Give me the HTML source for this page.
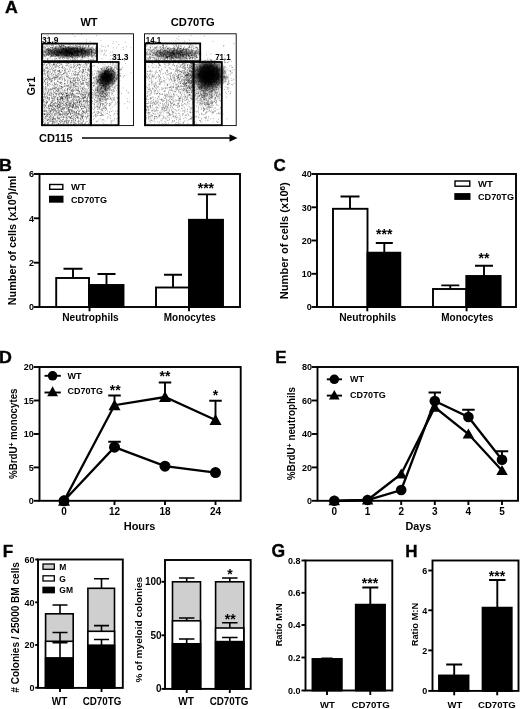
<!DOCTYPE html>
<html><head><meta charset="utf-8"><title>Figure</title>
<style>html,body{margin:0;padding:0;background:#fff}svg{display:block;will-change:transform}text{font-family:"Liberation Sans",sans-serif;font-weight:bold;fill:#000}</style>
</head><body>
<svg width="520" height="709" viewBox="0 0 520 709">
<rect width="520" height="709" fill="#fff"/>
<g id="panelA">
<text x="5.0" y="12.8" font-size="16.5" textLength="12.8" lengthAdjust="spacingAndGlyphs" stroke="#000" stroke-width="0.35">A</text>
<text x="89" y="26" font-size="11" text-anchor="middle">WT</text>
<text x="192.8" y="26" font-size="11" text-anchor="middle" textLength="44" lengthAdjust="spacingAndGlyphs">CD70TG</text>
<text x="35" y="86" font-size="11" text-anchor="middle" transform="rotate(-90 35 86)">Gr1</text>
<text x="39" y="142" font-size="11" textLength="33.5" lengthAdjust="spacingAndGlyphs">CD115</text>
<path d="M82 138L232 138" stroke="#000" stroke-width="1.3" fill="none"/>
<path d="M229.5 134.3L237.5 138L229.5 141.7Z" fill="#000"/>
<defs><radialGradient id="gm1"><stop offset="0" stop-color="#000" stop-opacity="1"/><stop offset="0.4" stop-color="#000" stop-opacity="0.8"/><stop offset="0.75" stop-color="#000" stop-opacity="0.25"/><stop offset="1" stop-color="#000" stop-opacity="0"/></radialGradient><radialGradient id="gm2"><stop offset="0" stop-color="#000" stop-opacity="1"/><stop offset="0.5" stop-color="#000" stop-opacity="0.9"/><stop offset="0.8" stop-color="#000" stop-opacity="0.3"/><stop offset="1" stop-color="#000" stop-opacity="0"/></radialGradient><radialGradient id="gn1"><stop offset="0" stop-color="#000" stop-opacity="0.85"/><stop offset="0.55" stop-color="#000" stop-opacity="0.55"/><stop offset="1" stop-color="#000" stop-opacity="0"/></radialGradient><radialGradient id="gn2"><stop offset="0" stop-color="#000" stop-opacity="0.6"/><stop offset="0.5" stop-color="#000" stop-opacity="0.32"/><stop offset="1" stop-color="#000" stop-opacity="0"/></radialGradient><radialGradient id="gh"><stop offset="0" stop-color="#000" stop-opacity="0.28"/><stop offset="1" stop-color="#000" stop-opacity="0"/></radialGradient><clipPath id="cpL"><rect x="42" y="34" width="91" height="91"/></clipPath><clipPath id="cpR"><rect x="144.5" y="34" width="91" height="91"/></clipPath><clipPath id="cpR2"><rect x="144.5" y="60.5" width="91" height="65"/></clipPath></defs>
<g clip-path="url(#cpL)">
<ellipse cx="70" cy="52" rx="31" ry="6.5" fill="url(#gn1)"/>
<ellipse cx="103" cy="88" rx="9" ry="14" fill="url(#gh)" transform="rotate(20 103 88)"/>
<ellipse cx="106.5" cy="77.5" rx="12" ry="11.5" fill="url(#gm1)" transform="rotate(-35 106.5 77.5)"/>
<path d="M57.9 71.5h0.72M73.9 66.6h0.72M68.3 85.0h0.72M44.8 94.0h0.72M43.8 89.3h0.72M45.4 67.7h0.72M62.8 114.1h0.72M48.1 76.1h0.72M72.7 121.7h0.72M70.3 87.0h0.72M89.8 64.9h0.72M84.1 80.2h0.72M49.1 69.4h0.72M57.1 113.4h0.72M50.9 98.6h0.72M73.3 85.5h0.72M68.8 66.0h0.72M44.9 75.0h0.72M75.3 88.9h0.72M57.4 98.9h0.72M64.2 80.9h0.72M80.9 106.0h0.72M54.0 98.2h0.72M67.7 117.1h0.72M77.7 80.1h0.72M90.0 69.4h0.72M62.5 109.7h0.72M49.4 92.8h0.72M43.9 104.1h0.72M79.5 98.1h0.72M84.9 81.8h0.72M76.1 99.4h0.72M70.4 90.7h0.72M83.2 121.5h0.72M65.2 103.8h0.72M45.0 106.2h0.72M73.7 124.6h0.72M82.3 79.9h0.72M60.9 104.1h0.72M43.1 91.1h0.72M50.2 69.4h0.72M44.9 110.4h0.72M48.3 77.6h0.72M61.2 116.9h0.72M45.9 90.3h0.72M68.9 117.7h0.72M82.1 116.4h0.72M55.6 88.2h0.72M59.6 117.7h0.72M88.9 71.5h0.72M50.6 76.6h0.72M53.4 92.6h0.72M70.9 78.6h0.72M42.2 88.4h0.72M60.1 97.7h0.72M88.7 105.5h0.72M67.3 100.9h0.72M75.1 65.4h0.72M86.1 111.1h0.72M84.9 112.3h0.72M61.2 87.1h0.72M47.1 102.0h0.72M45.1 66.2h0.72M52.2 72.2h0.72M58.7 65.3h0.72M42.0 71.5h0.72M47.0 84.9h0.72M43.2 117.1h0.72M72.1 71.4h0.72M54.4 83.9h0.72M59.8 69.7h0.72M83.6 124.6h0.72M64.8 92.5h0.72M46.2 68.4h0.72M58.8 78.7h0.72M82.6 72.2h0.72M43.1 121.9h0.72M67.9 71.2h0.72M68.6 63.7h0.72M67.9 123.6h0.72M84.3 105.9h0.72M54.8 85.1h0.72M50.2 110.6h0.72M68.1 111.1h0.72M58.2 76.1h0.72M81.8 124.1h0.72M83.8 112.8h0.72M82.1 108.6h0.72M53.1 94.6h0.72M59.4 63.8h0.72M43.4 79.6h0.72M54.7 105.6h0.72M88.9 90.2h0.72M87.9 124.2h0.72M88.8 85.0h0.72M52.8 76.3h0.72M51.6 74.9h0.72M72.6 118.7h0.72M83.2 92.2h0.72M74.0 112.4h0.72M46.2 103.6h0.72M86.6 111.3h0.72M78.8 92.1h0.72M50.7 111.7h0.72M58.3 112.5h0.72M89.6 86.9h0.72M61.7 121.6h0.72M77.5 72.7h0.72M48.2 71.5h0.72M86.3 112.8h0.72M49.2 114.1h0.72M90.0 103.4h0.72M59.2 96.6h0.72M48.4 62.9h0.72M89.6 102.9h0.72M67.8 120.8h0.72M63.3 116.9h0.72M82.5 75.3h0.72M54.3 80.5h0.72M53.8 98.9h0.72M54.7 88.4h0.72M48.4 119.3h0.72M59.3 90.9h0.72M70.6 119.0h0.72M62.6 119.8h0.72M66.6 95.5h0.72M67.7 63.2h0.72M63.6 73.5h0.72M42.2 112.3h0.72M50.4 91.8h0.72M77.5 97.1h0.72M58.0 94.7h0.72M69.2 111.4h0.72M47.2 97.3h0.72M54.2 79.4h0.72M79.8 94.0h0.72M69.5 109.9h0.72M86.7 89.9h0.72M72.0 93.8h0.72M67.1 105.6h0.72M64.2 95.6h0.72M65.4 121.3h0.72M76.3 117.2h0.72M88.2 78.4h0.72M69.4 121.4h0.72M83.2 70.6h0.72M48.0 89.9h0.72M45.6 77.2h0.72M45.6 104.2h0.72M80.4 118.5h0.72M49.6 107.1h0.72M74.4 71.0h0.72M85.3 123.0h0.72M52.8 122.0h0.72M61.5 92.7h0.72M90.5 114.4h0.72M49.9 89.2h0.72M67.3 83.4h0.72M51.6 82.1h0.72M77.4 63.2h0.72M69.1 89.7h0.72M42.9 82.9h0.72M72.6 94.3h0.72M45.2 124.1h0.72M80.6 123.2h0.72M47.1 78.7h0.72M43.9 111.1h0.72M55.3 70.2h0.72M62.7 119.4h0.72M82.1 78.3h0.72M49.3 119.9h0.72M70.0 106.1h0.72M46.4 65.6h0.72M75.7 88.8h0.72M45.5 121.1h0.72M73.1 112.5h0.72M46.1 115.9h0.72M45.3 116.4h0.72M64.2 83.4h0.72M69.1 120.4h0.72M55.1 70.1h0.72M67.8 77.0h0.72M47.4 72.2h0.72M44.5 74.7h0.72M57.3 81.2h0.72M79.2 80.3h0.72M66.5 73.2h0.72M59.0 63.1h0.72M54.3 63.0h0.72M77.9 96.7h0.72M51.3 91.9h0.72M87.8 68.7h0.72M82.1 89.2h0.72M66.3 114.6h0.72M61.3 93.9h0.72M75.7 123.9h0.72M58.8 114.4h0.72M76.6 102.1h0.72M61.8 83.9h0.72M44.7 70.2h0.72M45.5 108.7h0.72M54.5 72.3h0.72M46.1 115.0h0.72M84.7 104.2h0.72M55.8 77.3h0.72M56.4 90.9h0.72M49.7 90.1h0.72M54.9 122.6h0.72M89.7 96.5h0.72M54.0 122.8h0.72M57.2 84.5h0.72M42.1 86.0h0.72M65.3 93.7h0.72M51.8 93.8h0.72M42.2 78.6h0.72M46.4 87.2h0.72M44.0 63.4h0.72M56.9 76.7h0.72M70.7 95.3h0.72M78.8 103.4h0.72M77.1 117.4h0.72M61.1 82.5h0.72M90.3 71.4h0.72M77.5 102.5h0.72M44.1 114.6h0.72M85.7 101.5h0.72M78.0 113.2h0.72M48.8 95.0h0.72M66.7 114.6h0.72M81.4 114.1h0.72M70.6 118.2h0.72M75.5 105.7h0.72M53.3 64.0h0.72M48.5 84.7h0.72M47.1 114.7h0.72M69.4 101.5h0.72M72.7 104.9h0.72M66.0 62.2h0.72M81.1 109.1h0.72M66.6 95.7h0.72M74.3 66.2h0.72M78.1 77.9h0.72M45.6 78.7h0.72M77.7 74.9h0.72M78.3 123.5h0.72M66.2 86.1h0.72M65.5 105.1h0.72M79.6 100.9h0.72M73.5 66.9h0.72M49.2 78.0h0.72M78.4 81.2h0.72M69.8 62.8h0.72M45.0 78.9h0.72M74.9 105.6h0.72M75.1 80.3h0.72M67.3 91.3h0.72M64.9 69.5h0.72M85.8 74.6h0.72M89.9 121.0h0.72M42.9 90.9h0.72M82.2 123.0h0.72M64.0 78.9h0.72M52.3 121.6h0.72M52.3 98.6h0.72M48.9 95.0h0.72M88.7 70.4h0.72M82.2 94.1h0.72M85.5 106.3h0.72M53.3 118.6h0.72M65.8 63.6h0.72M42.2 93.0h0.72M64.1 81.0h0.72M48.9 83.7h0.72M57.5 114.9h0.72M42.1 109.3h0.72M83.1 69.6h0.72M87.4 106.9h0.72M86.2 80.3h0.72M60.2 86.8h0.72M90.9 99.1h0.72M59.7 89.0h0.72M55.5 65.0h0.72M47.0 114.6h0.72M56.0 120.9h0.72M54.2 78.7h0.72M67.0 74.0h0.72M60.3 122.2h0.72M85.3 113.2h0.72M72.9 119.5h0.72M88.1 96.6h0.72M77.3 65.1h0.72M77.9 90.4h0.72M78.9 102.6h0.72M56.0 65.1h0.72M87.4 70.0h0.72M65.1 83.7h0.72M56.6 108.6h0.72M89.8 78.4h0.72M74.1 81.0h0.72M69.3 86.8h0.72M50.2 72.2h0.72M52.2 119.1h0.72M66.4 75.9h0.72M86.4 124.8h0.72M64.0 70.8h0.72M51.4 67.7h0.72M58.8 67.7h0.72M53.7 78.3h0.72M69.9 117.9h0.72M78.7 88.0h0.72M62.3 95.0h0.72M60.5 83.3h0.72M45.0 79.5h0.72M89.4 69.9h0.72M66.7 101.7h0.72M84.3 75.6h0.72M55.3 77.7h0.72M61.6 90.1h0.72M88.7 115.5h0.72M84.8 63.4h0.72M43.6 106.7h0.72M85.9 91.8h0.72M70.8 62.0h0.72M61.2 120.4h0.72M82.5 115.9h0.72M89.6 77.7h0.72M47.3 71.7h0.72M67.6 105.0h0.72M88.1 107.5h0.72M73.7 110.2h0.72M64.4 96.7h0.72M43.9 111.3h0.72M53.4 120.0h0.72M73.6 81.1h0.72M48.3 77.9h0.72M73.2 106.0h0.72M47.5 66.4h0.72M67.7 98.7h0.72M61.0 76.1h0.72M71.5 62.7h0.72M56.8 91.0h0.72M89.0 102.6h0.72M85.3 91.9h0.72M53.5 77.6h0.72M89.1 106.4h0.72M57.1 63.4h0.72M66.4 104.5h0.72M62.6 78.2h0.72M74.7 120.3h0.72M53.1 64.1h0.72M58.6 88.5h0.72M75.4 74.5h0.72M81.1 108.6h0.72M66.7 74.9h0.72M89.5 81.6h0.72M82.2 76.5h0.72M52.9 109.9h0.72M56.5 122.0h0.72M66.3 73.8h0.72M52.9 88.3h0.72M74.6 121.8h0.72M49.2 86.8h0.72M52.4 123.4h0.72M49.0 65.3h0.72M44.9 86.8h0.72M86.0 117.7h0.72M77.9 124.8h0.72M87.6 82.7h0.72M51.1 121.0h0.72M78.6 64.0h0.72M74.6 85.9h0.72M60.3 82.9h0.72M50.3 62.2h0.72M55.7 84.1h0.72M88.8 69.8h0.72M89.2 75.1h0.72M59.5 113.8h0.72M82.3 89.2h0.72M44.4 91.8h0.72M60.3 119.9h0.72M51.5 84.9h0.72M86.0 63.9h0.72M62.1 113.1h0.72M79.6 64.6h0.72M43.7 65.9h0.72M87.1 78.2h0.72M78.6 118.6h0.72M58.6 79.2h0.72M88.9 100.9h0.72M54.8 107.1h0.72M57.5 79.4h0.72M42.2 109.6h0.72M86.9 101.9h0.72M88.2 63.5h0.72M53.5 91.9h0.72M88.9 122.1h0.72M60.9 77.8h0.72M63.1 93.1h0.72M87.5 73.5h0.72M81.3 108.5h0.72M82.3 110.7h0.72M71.8 82.7h0.72M57.7 84.8h0.72M80.3 67.0h0.72M51.7 109.4h0.72M54.1 66.1h0.72M43.7 96.8h0.72M58.0 123.8h0.72M85.3 124.2h0.72M55.0 67.3h0.72M46.7 93.4h0.72M76.8 90.2h0.72M53.5 88.3h0.72M72.4 104.5h0.72M78.7 115.4h0.72M74.6 69.6h0.72M83.2 80.5h0.72M69.8 85.5h0.72M78.2 74.5h0.72M54.1 77.5h0.72M49.5 117.7h0.72M70.3 82.6h0.72M61.4 124.5h0.72M66.9 76.6h0.72M81.6 103.2h0.72M90.6 68.4h0.72M65.3 113.6h0.72M83.2 119.6h0.72M44.0 80.5h0.72M47.8 73.9h0.72M89.7 98.7h0.72M87.6 85.5h0.72M84.4 90.3h0.72M54.7 111.0h0.72M88.3 68.7h0.72M71.2 101.1h0.72M52.7 85.2h0.72M48.9 74.9h0.72M54.5 99.8h0.72M73.9 74.8h0.72M42.6 82.6h0.72M75.2 73.7h0.72M57.3 74.8h0.72M81.0 96.5h0.72M45.1 68.4h0.72M61.4 96.7h0.72M73.3 67.7h0.72M50.0 105.8h0.72M62.1 79.8h0.72M57.1 122.1h0.72M57.3 97.7h0.72M59.5 88.2h0.72M84.3 124.8h0.72M59.8 74.4h0.72M77.7 74.8h0.72M42.3 118.8h0.72M62.8 113.7h0.72M61.9 117.6h0.72M64.6 72.2h0.72M42.7 96.7h0.72M73.4 119.3h0.72M46.4 101.2h0.72M60.2 93.8h0.72M49.1 79.8h0.72M67.5 120.3h0.72M47.3 92.9h0.72M81.4 122.9h0.72M51.7 70.0h0.72M88.2 123.5h0.72M65.7 65.4h0.72M87.4 86.4h0.72M86.3 101.1h0.72M82.4 72.1h0.72M80.5 76.0h0.72M61.8 115.3h0.72M82.6 73.5h0.72M52.7 87.2h0.72M67.4 86.2h0.72M48.0 77.6h0.72M77.5 118.5h0.72M44.0 97.4h0.72M79.1 64.4h0.72M83.1 69.4h0.72M71.4 96.7h0.72M72.7 81.3h0.72M62.6 98.7h0.72M62.9 103.5h0.72M63.9 89.6h0.72M43.1 101.0h0.72M66.0 76.8h0.72M79.4 111.1h0.72M64.5 73.3h0.72M65.2 68.7h0.72M48.3 89.1h0.72M46.5 89.8h0.72M67.0 64.6h0.72M73.2 67.2h0.72M77.9 111.0h0.72M67.1 65.4h0.72M66.7 85.8h0.72M88.6 70.6h0.72M84.0 124.8h0.72M77.9 113.3h0.72M51.5 123.8h0.72M66.1 122.3h0.72M86.9 72.4h0.72M80.6 120.6h0.72M45.2 84.1h0.72M79.1 72.0h0.72M85.9 79.3h0.72M82.0 71.0h0.72M66.6 120.0h0.72M52.2 78.6h0.72M66.8 82.1h0.72M43.8 73.5h0.72M49.9 121.0h0.72M75.3 118.4h0.72M50.3 111.4h0.72M47.6 95.4h0.72M73.2 84.7h0.72M84.8 97.0h0.72M70.4 117.6h0.72M47.1 124.6h0.72M72.9 86.8h0.72M81.1 78.7h0.72M90.5 98.4h0.72M59.7 110.2h0.72M63.7 73.1h0.72M78.4 65.0h0.72M82.2 78.0h0.72M73.3 124.0h0.72M70.7 103.8h0.72M57.3 62.1h0.72M43.7 71.4h0.72M72.2 89.2h0.72M67.1 118.4h0.72M48.5 76.3h0.72M74.0 63.4h0.72M42.1 84.4h0.72M47.2 84.5h0.72M53.0 98.8h0.72M70.9 74.9h0.72M72.6 91.9h0.72M48.6 121.0h0.72M53.9 71.4h0.72M46.7 102.2h0.72M84.7 111.3h0.72M61.7 78.6h0.72M42.6 102.6h0.72M69.6 84.1h0.72M73.6 90.0h0.72M87.9 108.2h0.72M54.2 118.9h0.72M44.2 95.5h0.72M61.9 77.0h0.72M44.9 111.1h0.72M42.6 96.7h0.72M88.1 71.0h0.72M51.8 100.3h0.72M66.8 102.4h0.72M81.9 73.0h0.72M57.2 80.9h0.72M44.4 118.0h0.72M80.4 107.1h0.72M42.3 115.2h0.72M78.5 91.3h0.72M78.3 90.5h0.72M53.1 68.6h0.72M53.4 64.4h0.72M58.4 109.2h0.72M76.1 115.3h0.72M76.9 78.8h0.72M69.1 89.5h0.72M80.6 95.0h0.72M55.0 102.4h0.72M89.3 75.7h0.72M85.1 63.0h0.72M54.8 76.9h0.72M78.5 121.5h0.72M78.6 82.6h0.72M85.1 82.7h0.72M53.7 119.2h0.72M72.9 105.6h0.72M74.6 123.7h0.72M65.0 114.9h0.72M76.2 116.0h0.72M63.4 107.7h0.72M69.9 81.4h0.72M52.4 101.2h0.72M45.8 119.4h0.72M49.1 63.7h0.72M47.2 120.5h0.72M58.9 70.9h0.72M43.4 64.6h0.72M75.9 101.9h0.72M76.2 108.4h0.72M45.2 99.2h0.72M59.8 113.5h0.72M82.2 118.2h0.72M45.2 116.7h0.72M86.8 121.5h0.72M47.2 75.0h0.72M47.5 64.2h0.72M83.5 113.2h0.72M73.1 114.0h0.72M72.9 80.1h0.72M46.9 68.2h0.72M79.1 74.9h0.72M57.6 88.7h0.72M43.0 78.2h0.72M55.8 107.1h0.72M60.0 82.2h0.72M89.2 93.7h0.72M83.7 101.0h0.72M43.5 88.0h0.72M63.4 110.7h0.72M59.0 106.4h0.72M68.4 75.6h0.72M84.2 67.7h0.72M82.2 72.7h0.72M42.1 74.7h0.72M79.3 123.6h0.72M42.2 92.9h0.72M66.1 112.2h0.72M51.0 93.2h0.72M59.0 114.4h0.72M54.8 121.5h0.72M55.9 75.5h0.72M76.3 93.4h0.72M47.4 102.1h0.72M46.0 111.6h0.72M76.2 111.6h0.72M72.8 84.4h0.72M61.7 86.9h0.72M85.6 67.4h0.72M85.5 63.6h0.72M52.1 78.6h0.72M86.2 93.6h0.72M60.6 117.7h0.72M53.4 91.0h0.72M68.0 109.5h0.72M78.9 102.7h0.72M59.1 82.6h0.72M49.6 115.1h0.72M74.4 108.7h0.72M50.3 89.6h0.72M79.9 98.5h0.72M48.2 91.1h0.72M85.4 77.0h0.72M51.4 81.0h0.72M76.5 115.2h0.72M49.6 71.8h0.72M54.1 82.6h0.72M67.6 72.1h0.72M58.1 73.9h0.72M89.8 107.9h0.72M47.0 122.6h0.72M47.0 86.2h0.72M90.2 112.1h0.72M77.9 89.4h0.72M51.6 102.2h0.72M47.2 75.0h0.72M61.0 64.1h0.72M61.6 111.8h0.72M76.0 93.5h0.72M73.0 91.2h0.72M48.9 100.0h0.72M61.8 108.7h0.72M86.5 89.1h0.72M70.1 109.2h0.72M62.6 76.4h0.72M77.4 117.4h0.72M79.9 106.1h0.72M83.8 104.8h0.72M73.4 90.6h0.72M57.3 101.6h0.72M46.8 88.4h0.72M80.3 106.9h0.72M72.9 77.8h0.72M62.8 90.7h0.72M72.5 87.8h0.72M75.1 120.6h0.72M51.0 103.2h0.72M80.1 86.5h0.72M66.0 123.4h0.72M43.9 96.2h0.72M49.9 111.3h0.72M88.1 94.7h0.72M47.0 98.2h0.72M68.5 107.2h0.72M67.1 102.3h0.72M82.6 94.9h0.72M62.1 121.7h0.72M52.3 105.1h0.72M61.2 110.1h0.72M48.0 124.0h0.72M59.4 65.6h0.72M55.4 87.2h0.72M42.7 88.4h0.72M62.6 106.0h0.72M59.3 78.7h0.72M53.0 108.7h0.72M88.1 95.2h0.72M52.7 112.5h0.72M61.2 75.4h0.72M48.3 110.9h0.72M81.7 102.0h0.72M65.0 97.4h0.72M53.1 122.7h0.72M59.3 102.2h0.72M82.1 113.4h0.72M64.9 80.5h0.72M68.9 69.9h0.72M82.9 84.3h0.72M83.7 78.8h0.72M60.4 78.0h0.72M62.9 73.7h0.72M42.1 107.5h0.72M55.8 77.4h0.72M56.8 92.2h0.72M63.0 102.1h0.72M74.3 84.8h0.72M87.5 115.8h0.72M44.8 114.2h0.72M86.4 111.4h0.72M48.9 114.4h0.72M73.0 62.9h0.72M42.6 122.0h0.72M74.1 77.8h0.72M47.0 71.0h0.72M53.4 110.9h0.72M59.0 71.6h0.72M86.3 111.9h0.72M50.2 118.1h0.72M71.8 111.2h0.72M74.8 118.3h0.72M80.6 114.8h0.72M51.7 105.6h0.72M68.0 108.7h0.72M63.5 117.6h0.72M69.2 78.7h0.72M53.5 70.8h0.72M66.2 65.7h0.72M64.9 71.1h0.72M66.1 93.4h0.72M68.4 116.4h0.72M42.3 115.0h0.72M64.9 97.4h0.72M74.6 115.0h0.72M60.4 88.4h0.72M89.1 66.7h0.72M73.2 102.1h0.72M43.4 100.4h0.72M75.4 120.7h0.72M58.2 123.8h0.72M67.0 92.5h0.72M86.0 64.1h0.72M77.2 101.4h0.72M58.6 116.3h0.72M59.9 91.9h0.72M67.8 110.5h0.72M52.3 89.4h0.72M62.7 96.9h0.72M82.5 80.5h0.72M82.6 87.4h0.72M66.7 79.1h0.72M66.8 123.4h0.72M74.1 111.9h0.72M58.2 82.0h0.72M56.7 98.9h0.72M73.1 111.4h0.72M44.0 107.5h0.72M85.4 96.4h0.72M44.4 80.9h0.72M42.3 74.0h0.72M87.2 100.3h0.72M74.2 111.7h0.72M86.6 100.5h0.72M72.2 101.5h0.72M76.1 99.6h0.72M75.4 75.4h0.72M74.7 90.8h0.72M79.4 68.4h0.72M50.9 64.3h0.72M80.0 119.6h0.72M74.1 85.2h0.72M82.3 111.6h0.72M69.5 78.3h0.72M56.8 88.6h0.72M57.6 89.1h0.72M73.4 120.8h0.72M44.7 97.8h0.72M43.9 69.5h0.72M81.7 98.2h0.72M87.0 90.1h0.72M42.7 86.4h0.72M71.0 121.1h0.72M90.1 92.0h0.72M62.2 68.4h0.72M73.6 75.4h0.72M49.4 63.0h0.72M42.2 105.1h0.72M48.0 122.9h0.72M46.3 116.8h0.72M48.3 63.1h0.72M77.2 77.3h0.72M77.9 73.8h0.72M44.5 110.8h0.72M77.0 115.9h0.72M77.8 67.3h0.72M72.8 106.7h0.72M64.6 120.7h0.72M54.4 122.8h0.72M77.1 62.7h0.72M42.7 103.0h0.72M82.0 67.0h0.72M57.2 108.0h0.72M50.1 116.2h0.72M65.8 65.8h0.72M60.0 98.2h0.72M63.5 104.6h0.72M49.1 112.2h0.72M59.8 102.6h0.72M72.9 88.3h0.72M60.9 111.5h0.72M88.3 111.4h0.72M69.8 80.4h0.72M45.0 123.4h0.72M76.5 114.1h0.72M58.3 100.2h0.72M89.9 114.4h0.72M71.5 81.4h0.72M63.0 118.0h0.72M60.5 105.1h0.72M71.5 118.5h0.72M81.6 79.8h0.72M42.1 78.6h0.72M62.7 99.0h0.72M82.0 117.9h0.72M44.1 114.5h0.72M81.8 116.6h0.72M70.0 79.3h0.72M83.7 112.8h0.72M75.5 119.6h0.72M59.0 67.4h0.72M69.1 112.2h0.72M51.8 109.3h0.72M87.7 76.7h0.72M71.7 104.7h0.72M64.8 75.0h0.72M54.5 109.3h0.72M80.8 91.0h0.72M46.3 112.8h0.72M79.8 76.7h0.72M70.4 118.5h0.72M85.4 94.9h0.72M65.4 99.1h0.72M51.3 74.1h0.72M50.9 106.2h0.72M59.8 97.6h0.72M61.7 94.6h0.72M49.3 64.8h0.72M90.9 85.6h0.72M47.2 101.9h0.72M80.6 71.8h0.72M71.3 83.7h0.72M67.5 63.3h0.72M43.6 124.4h0.72M84.4 92.6h0.72M69.8 78.5h0.72M80.2 88.8h0.72M88.4 110.3h0.72M82.1 122.7h0.72M54.4 64.4h0.72M51.8 73.4h0.72M46.1 65.2h0.72M69.3 116.9h0.72M64.5 121.7h0.72M86.6 66.0h0.72M71.3 87.0h0.72M47.9 122.4h0.72M54.6 97.6h0.72M73.4 122.3h0.72M74.8 86.8h0.72M64.0 72.1h0.72M89.3 124.5h0.72M52.9 64.4h0.72M54.5 84.2h0.72M86.2 119.0h0.72M83.0 65.0h0.72M80.5 106.7h0.72M73.7 124.1h0.72M44.7 71.1h0.72M79.0 121.2h0.72M75.2 80.8h0.72M71.0 109.7h0.72M47.2 82.4h0.72M54.6 69.8h0.72M65.6 72.6h0.72M53.7 71.0h0.72M75.2 62.8h0.72M77.1 74.3h0.72M43.8 120.4h0.72M52.8 120.8h0.72M84.5 118.0h0.72M48.8 90.2h0.72M46.8 120.5h0.72M83.3 101.6h0.72M64.2 83.4h0.72M82.3 92.1h0.72M72.8 71.0h0.72M52.9 65.6h0.72M77.0 96.9h0.72M49.1 116.9h0.72M55.1 87.9h0.72M49.6 79.1h0.72M83.1 83.1h0.72M50.2 92.9h0.72M57.6 118.9h0.72M47.6 123.7h0.72M44.8 118.4h0.72M74.7 75.3h0.72M65.4 80.0h0.72M54.6 74.7h0.72M59.8 124.4h0.72M90.9 120.3h0.72M46.8 80.2h0.72M85.9 65.6h0.72M77.6 80.5h0.72M90.0 63.0h0.72M81.5 83.5h0.72M48.9 62.1h0.72M82.8 95.2h0.72M51.1 89.4h0.72M86.7 75.8h0.72M70.0 70.7h0.72M50.8 110.5h0.72M76.9 74.4h0.72M45.9 67.5h0.72M71.8 93.2h0.72M55.4 75.0h0.72M72.0 106.6h0.72M81.8 98.7h0.72M51.9 66.1h0.72M77.9 87.7h0.72M77.4 65.5h0.72M81.7 83.1h0.72M83.3 116.5h0.72M66.2 63.0h0.72M86.6 92.0h0.72M84.7 78.8h0.72M51.1 114.4h0.72M60.0 72.3h0.72M60.2 99.5h0.72M42.2 94.7h0.72M63.8 94.5h0.72M47.9 107.0h0.72M82.0 116.5h0.72M57.7 106.8h0.72M60.7 109.3h0.72M45.0 117.0h0.72M88.7 93.2h0.72M67.2 95.4h0.72M68.3 63.3h0.72M89.4 76.1h0.72M50.9 68.5h0.72M54.3 113.5h0.72M43.5 68.1h0.72M76.2 74.3h0.72M42.9 99.8h0.72M70.2 94.9h0.72M76.4 68.5h0.72M84.6 107.2h0.72M44.2 69.8h0.72M66.2 93.5h0.72M55.7 69.7h0.72M61.9 70.6h0.72M71.0 116.2h0.72M49.2 98.1h0.72M78.6 72.4h0.72M82.5 121.1h0.72M61.0 88.5h0.72M83.1 95.1h0.72M61.4 121.3h0.72M80.1 83.3h0.72M53.8 83.1h0.72M63.3 123.8h0.72M81.4 119.5h0.72M81.9 115.4h0.72M44.6 94.6h0.72M88.9 120.9h0.72M54.2 88.6h0.72M73.0 85.0h0.72M68.0 66.4h0.72M63.2 93.8h0.72M43.0 70.8h0.72M89.5 110.9h0.72M87.9 101.9h0.72M81.7 117.7h0.72M85.3 64.2h0.72M73.4 78.7h0.72M75.2 79.2h0.72M68.6 120.2h0.72M72.4 77.8h0.72M67.5 89.3h0.72M88.6 80.1h0.72M57.0 102.8h0.72M47.9 99.4h0.72M88.8 94.4h0.72M55.2 91.4h0.72M68.2 71.3h0.72M48.1 70.3h0.72M56.4 87.6h0.72M56.1 77.3h0.72M46.3 96.4h0.72M83.1 100.4h0.72M69.9 103.0h0.72M51.9 106.8h0.72M64.6 96.5h0.72M72.0 91.5h0.72M57.2 77.3h0.72M52.9 94.3h0.72M60.8 98.9h0.72M42.6 84.2h0.72M84.2 77.0h0.72M69.3 93.0h0.72M56.0 124.2h0.72M56.5 110.6h0.72M49.8 66.2h0.72M84.7 89.7h0.72M45.0 86.4h0.72M63.6 108.3h0.72M47.4 76.2h0.72M89.0 108.5h0.72M49.6 83.2h0.72M59.3 104.5h0.72M72.2 115.5h0.72M82.2 94.6h0.72M78.2 108.8h0.72M79.2 91.9h0.72M80.5 106.6h0.72M86.8 70.0h0.72M84.7 62.3h0.72M79.5 98.9h0.72M66.4 122.7h0.72M70.0 88.3h0.72M80.4 117.0h0.72M71.8 85.9h0.72M64.2 90.8h0.72M77.4 80.5h0.72M61.1 97.0h0.72M60.8 82.3h0.72M80.6 115.5h0.72M66.5 90.0h0.72M51.0 81.2h0.72M49.1 98.3h0.72M70.5 67.5h0.72M87.1 82.4h0.72M83.3 114.8h0.72M89.0 74.9h0.72M62.9 119.4h0.72M42.5 65.0h0.72M69.7 93.3h0.72M87.1 110.7h0.72M68.4 124.9h0.72M67.4 94.6h0.72M75.6 86.5h0.72M59.5 99.5h0.72M59.2 121.7h0.72M75.1 95.1h0.72M46.8 85.6h0.72M61.6 97.4h0.72M70.1 117.4h0.72M89.3 92.7h0.72M63.6 101.4h0.72M90.8 83.6h0.72M68.0 113.4h0.72M50.4 82.0h0.72M89.9 114.0h0.72M67.1 69.0h0.72M85.8 105.5h0.72M82.2 124.4h0.72M85.5 88.5h0.72M49.7 80.3h0.72M67.1 93.8h0.72M51.2 73.5h0.72M72.9 100.0h0.72M59.3 124.6h0.72M73.2 64.7h0.72M62.2 111.6h0.72M57.0 105.5h0.72M42.2 81.2h0.72M83.3 98.9h0.72M74.7 74.4h0.72M66.4 96.9h0.72M55.0 102.7h0.72M68.0 124.8h0.72M70.1 87.9h0.72M48.0 71.9h0.72M79.2 68.7h0.72M46.9 72.7h0.72M67.6 113.9h0.72M72.0 112.8h0.72M45.0 62.8h0.72M79.8 82.3h0.72M77.1 84.3h0.72M50.3 78.8h0.72M46.9 118.9h0.72M70.5 84.0h0.72M64.0 86.3h0.72M44.7 118.1h0.72M70.6 122.5h0.72M63.5 101.1h0.72M54.2 64.8h0.72M87.6 115.8h0.72M57.4 118.6h0.72M82.0 81.1h0.72M71.5 122.5h0.72M66.3 121.8h0.72M53.9 86.6h0.72M77.2 75.9h0.72M57.1 117.1h0.72M65.7 111.9h0.72M53.9 72.9h0.72M59.6 73.8h0.72M89.6 80.3h0.72M69.5 69.2h0.72M68.2 86.3h0.72M61.8 66.1h0.72M48.0 114.0h0.72M59.2 77.4h0.72M51.4 79.9h0.72M53.6 64.2h0.72M74.5 83.5h0.72M49.6 106.5h0.72M46.5 79.0h0.72M82.9 70.1h0.72M63.7 114.7h0.72M81.4 72.0h0.72M59.3 107.5h0.72M60.5 122.4h0.72M52.2 121.9h0.72M66.7 76.3h0.72M64.2 70.2h0.72M76.6 78.4h0.72M86.1 99.0h0.72M60.0 77.5h0.72M71.8 75.4h0.72M84.7 69.7h0.72M67.1 96.2h0.72M55.3 110.6h0.72M60.9 103.4h0.72M69.8 81.6h0.72M61.1 67.4h0.72M50.7 115.6h0.72M57.7 103.8h0.72M47.3 97.4h0.72M59.7 93.5h0.72M56.6 66.2h0.72M57.3 76.3h0.72M48.2 107.2h0.72M55.8 87.4h0.72M86.5 110.8h0.72M85.3 116.3h0.72M48.5 79.4h0.72M43.4 104.8h0.72M74.5 84.1h0.72M62.2 103.5h0.72M76.3 77.7h0.72M83.5 84.2h0.72M72.8 73.4h0.72M47.6 119.5h0.72M78.0 106.9h0.72M44.0 64.5h0.72M49.9 74.5h0.72M56.9 86.0h0.72M43.9 81.6h0.72M73.3 73.3h0.72M83.1 97.9h0.72M77.1 78.0h0.72M63.3 105.1h0.72M59.1 62.1h0.72M82.9 110.9h0.72M56.0 64.7h0.72M83.9 100.3h0.72M44.3 77.4h0.72M47.4 111.9h0.72M52.3 119.6h0.72M78.7 67.4h0.72M76.0 86.8h0.72M78.6 114.2h0.72M55.8 67.7h0.72M88.4 88.7h0.72M87.6 105.6h0.72M78.2 114.3h0.72M72.8 90.5h0.72M44.7 106.0h0.72M63.0 94.2h0.72M87.5 70.0h0.72M79.3 64.8h0.72M76.4 112.8h0.72M54.8 96.4h0.72M89.5 102.2h0.72M68.7 77.7h0.72M44.9 84.5h0.72M62.2 74.7h0.72M57.2 70.6h0.72M76.6 104.2h0.72M53.7 77.2h0.72M67.3 90.0h0.72M87.9 84.1h0.72M56.7 117.7h0.72M49.0 97.5h0.72M58.3 113.4h0.72M68.9 109.9h0.72M50.3 104.0h0.72M71.3 91.1h0.72M79.5 114.4h0.72M47.6 80.2h0.72M59.7 75.0h0.72M45.0 79.7h0.72M51.7 106.2h0.72M64.0 69.1h0.72M57.9 91.5h0.72M59.8 72.6h0.72M45.5 62.7h0.72M90.6 109.3h0.72M46.1 107.2h0.72M90.0 97.5h0.72M47.3 92.8h0.72M63.3 74.0h0.72M68.6 62.5h0.72M87.1 102.6h0.72M72.8 120.9h0.72M74.0 77.8h0.72M54.1 70.7h0.72M43.4 110.8h0.72M83.1 80.7h0.72M51.1 102.2h0.72M83.4 120.4h0.72M50.3 111.4h0.72M82.7 108.8h0.72M58.0 73.6h0.72M82.4 82.2h0.72M60.1 96.7h0.72M60.1 114.4h0.72M53.7 64.6h0.72M69.8 101.6h0.72M82.2 106.5h0.72M86.4 121.5h0.72M66.2 93.5h0.72M49.7 80.9h0.72M70.5 67.1h0.72M75.7 72.3h0.72M63.7 123.1h0.72M46.4 64.5h0.72M63.5 74.0h0.72M77.4 62.2h0.72M83.2 115.9h0.72M80.6 88.8h0.72M55.9 103.7h0.72M67.2 88.5h0.72M58.6 89.6h0.72M74.6 114.0h0.72M86.3 72.4h0.72M56.5 89.9h0.72M69.6 83.9h0.72M51.6 67.4h0.72M57.9 91.0h0.72M89.6 119.2h0.72M84.4 123.4h0.72M89.1 101.1h0.72M81.7 65.8h0.72M75.1 100.4h0.72M56.6 98.0h0.72M88.7 92.3h0.72M73.7 80.9h0.72M58.8 117.8h0.72M43.4 73.9h0.72M75.3 90.2h0.72M46.2 103.6h0.72M60.2 98.6h0.72M62.4 95.4h0.72M69.7 87.0h0.72M47.6 73.4h0.72M85.6 96.5h0.72M47.5 116.3h0.72M54.4 68.0h0.72M68.0 77.8h0.72M66.0 96.9h0.72M53.1 98.1h0.72M47.5 94.3h0.72M70.8 67.1h0.72M62.0 66.6h0.72M63.5 116.4h0.72M69.0 107.0h0.72M79.1 69.2h0.72M90.5 107.5h0.72M47.0 114.3h0.72M61.2 72.8h0.72M89.0 97.5h0.72M80.0 70.6h0.72M80.0 65.6h0.72M53.6 85.5h0.72M42.7 99.4h0.72M52.4 80.9h0.72M76.7 88.8h0.72M85.5 101.1h0.72M84.7 97.5h0.72M87.0 116.9h0.72M50.2 109.0h0.72M58.7 110.1h0.72M75.3 114.0h0.72M48.0 85.5h0.72M78.1 121.7h0.72M77.4 64.7h0.72M71.6 68.3h0.72M68.9 112.6h0.72M47.5 120.3h0.72M75.1 78.0h0.72M51.5 90.1h0.72M83.1 98.6h0.72M47.6 63.3h0.72M47.4 112.4h0.72M51.1 96.9h0.72M56.2 105.3h0.72M60.7 71.1h0.72M84.9 95.9h0.72M75.8 112.9h0.72M88.5 62.9h0.72M58.8 71.5h0.72M66.6 117.0h0.72M81.2 64.2h0.72M50.9 113.6h0.72M75.3 86.7h0.72M65.3 72.0h0.72M83.4 86.8h0.72M84.8 100.5h0.72M45.7 82.7h0.72M52.6 118.3h0.72M70.9 64.8h0.72M50.3 84.7h0.72M64.9 98.4h0.72M61.0 84.3h0.72M42.3 98.5h0.72M58.4 63.3h0.72M64.5 124.1h0.72M44.2 71.2h0.72M74.9 79.2h0.72M55.4 93.5h0.72M54.8 97.8h0.72M67.9 122.3h0.72M90.6 64.1h0.72M69.5 110.6h0.72M84.7 110.8h0.72M73.0 102.0h0.72M59.8 79.7h0.72M81.0 117.0h0.72M88.0 104.9h0.72M56.9 110.1h0.72M78.2 94.1h0.72M73.1 84.1h0.72M69.0 87.6h0.72M45.0 83.2h0.72M57.8 124.3h0.72M65.6 85.1h0.72M53.9 76.8h0.72M59.1 70.5h0.72M42.4 116.9h0.72M64.2 90.1h0.72M69.9 81.1h0.72M50.3 66.2h0.72M56.8 81.4h0.72M77.6 96.7h0.72M87.9 83.4h0.72M87.1 98.8h0.72M45.9 73.3h0.72M70.4 124.2h0.72M59.5 110.8h0.72M63.0 116.7h0.72M45.3 92.5h0.72M86.1 79.4h0.72M54.6 63.5h0.72M50.1 78.9h0.72M76.5 75.8h0.72M61.6 74.6h0.72M71.5 116.4h0.72M73.8 74.4h0.72M78.0 122.7h0.72M71.5 67.0h0.72M81.7 117.2h0.72M58.7 70.6h0.72M51.2 95.8h0.72M84.9 102.3h0.72M87.2 75.4h0.72M58.0 109.2h0.72M73.8 87.5h0.72M75.3 83.3h0.72M44.8 88.1h0.72M44.2 101.5h0.72M58.4 93.1h0.72M71.3 78.2h0.72M64.7 62.9h0.72M87.3 97.5h0.72M90.4 65.5h0.72M72.1 107.6h0.72M58.1 67.9h0.72M49.7 71.0h0.72M79.6 67.7h0.72M81.9 88.7h0.72M68.4 99.1h0.72M69.2 103.4h0.72M71.5 82.8h0.72M78.3 78.2h0.72M76.9 110.1h0.72M80.0 81.5h0.72M79.9 123.6h0.72M64.2 79.5h0.72M67.6 121.3h0.72M48.5 62.6h0.72M65.3 103.3h0.72M79.9 84.8h0.72M90.5 76.4h0.72M79.1 67.7h0.72M43.4 70.5h0.72M44.9 93.6h0.72M69.2 73.5h0.72M88.0 85.0h0.72M49.3 73.2h0.72M78.1 120.1h0.72M49.9 63.8h0.72M80.1 77.3h0.72M90.1 93.4h0.72M73.2 83.7h0.72M81.2 91.0h0.72M57.9 118.9h0.72M47.3 108.2h0.72M45.2 102.7h0.72M61.7 116.4h0.72M44.9 97.5h0.72M62.1 119.9h0.72M88.3 101.5h0.72M53.0 77.9h0.72M54.9 89.3h0.72M53.3 74.8h0.72M79.2 102.5h0.72M56.6 124.6h0.72M52.6 97.9h0.72M49.7 116.4h0.72M84.6 78.8h0.72M78.8 113.8h0.72M55.8 82.9h0.72M65.8 118.1h0.72M49.9 105.0h0.72M71.3 90.5h0.72M70.4 117.6h0.72M52.3 117.7h0.72M59.7 111.1h0.72M84.3 73.5h0.72M84.3 124.7h0.72M56.6 63.5h0.72M47.5 123.4h0.72M42.5 119.4h0.72M49.4 108.4h0.72M46.8 72.6h0.72M75.5 67.7h0.72M58.6 119.9h0.72M77.1 117.6h0.72M90.0 64.1h0.72M53.5 111.9h0.72M75.8 64.4h0.72M66.7 76.6h0.72M63.1 68.6h0.72M43.0 124.4h0.72M57.5 117.4h0.72M47.9 92.7h0.72M48.7 89.0h0.72M50.8 105.2h0.72M49.2 108.5h0.72M66.5 69.1h0.72M59.3 93.3h0.72M87.0 84.0h0.72M52.5 123.0h0.72M85.3 108.1h0.72M55.4 73.2h0.72M55.0 66.3h0.72M44.1 94.1h0.72M62.0 97.1h0.72M59.8 62.7h0.72M75.7 103.1h0.72M68.7 96.6h0.72M75.8 123.9h0.72M84.8 107.2h0.72M61.6 82.1h0.72M62.5 123.3h0.72M61.0 86.3h0.72M62.1 71.0h0.72M90.9 62.3h0.72M71.8 120.4h0.72M54.5 100.5h0.72M60.5 77.2h0.72M51.7 69.3h0.72M83.3 111.4h0.72M86.5 65.1h0.72M76.0 82.4h0.72M73.7 96.6h0.72M57.5 123.2h0.72M42.0 109.0h0.72M83.8 94.1h0.72M71.0 124.7h0.72M53.5 101.7h0.72M78.4 85.9h0.72M76.9 86.8h0.72M67.8 100.6h0.72M75.2 82.3h0.72M72.8 96.2h0.72M52.9 100.6h0.72M55.0 119.3h0.72M65.2 107.5h0.72M67.6 92.0h0.72M52.8 71.0h0.72M87.4 95.3h0.72M67.7 95.2h0.72M81.9 77.0h0.72M50.4 113.8h0.72M64.6 102.4h0.72M82.5 118.3h0.72M84.5 64.7h0.72M60.7 114.4h0.72M82.1 69.8h0.72M49.5 77.8h0.72M47.0 84.5h0.72M81.4 94.8h0.72M64.2 67.5h0.72M61.4 124.8h0.72M76.1 90.3h0.72M65.4 112.3h0.72M79.2 71.4h0.72M75.3 85.1h0.72M67.5 77.0h0.72M60.2 83.4h0.72M60.7 63.1h0.72M51.8 97.9h0.72M44.8 73.2h0.72M77.2 79.3h0.72M57.9 77.2h0.72M82.9 67.8h0.72M73.2 116.1h0.72M51.9 88.7h0.72M80.8 100.9h0.72M60.2 64.8h0.72M63.7 85.1h0.72M76.9 80.6h0.72M62.0 102.8h0.72M81.7 84.2h0.72M60.9 98.5h0.72M87.3 74.1h0.72M89.6 106.8h0.72M60.2 103.9h0.72M58.1 66.5h0.72M79.0 85.9h0.72M67.8 93.3h0.72M86.2 109.7h0.72M43.3 99.3h0.72M64.7 91.1h0.72M83.1 88.1h0.72M65.2 118.1h0.72M63.6 93.0h0.72M67.1 114.0h0.72M74.8 108.6h0.72M61.7 64.6h0.72M75.3 96.9h0.72M79.7 110.5h0.72M47.8 75.9h0.72M45.8 113.5h0.72M47.0 67.6h0.72M78.9 97.6h0.72M44.7 104.9h0.72M76.8 92.4h0.72M44.7 105.5h0.72M62.5 98.8h0.72M90.9 113.5h0.72M84.7 71.2h0.72M58.4 94.6h0.72M42.3 124.3h0.72M55.5 78.5h0.72M57.3 78.1h0.72M84.1 97.0h0.72M67.0 88.5h0.72M44.5 81.2h0.72M84.5 112.5h0.72M84.0 78.2h0.72M51.9 65.3h0.72M68.3 85.5h0.72M64.7 92.8h0.72M70.6 85.0h0.72M81.3 74.6h0.72M87.0 97.0h0.72M44.5 81.8h0.72M68.1 87.8h0.72M69.7 82.4h0.72M55.4 112.2h0.72M56.3 106.8h0.72M81.3 99.3h0.72M64.3 120.9h0.72M63.8 117.3h0.72M44.8 89.3h0.72M73.3 65.1h0.72M84.3 66.5h0.72M71.2 73.4h0.72M87.2 97.3h0.72M81.2 93.4h0.72M75.0 104.5h0.72M56.4 75.3h0.72M83.1 71.2h0.72M87.0 75.0h0.72M46.9 68.0h0.72M80.4 121.9h0.72M62.3 103.5h0.72M54.6 119.1h0.72M75.6 71.8h0.72M44.8 105.8h0.72M44.0 114.7h0.72M56.4 76.7h0.72M70.5 82.1h0.72M69.5 71.7h0.72M86.7 82.4h0.72M83.2 71.6h0.72M81.2 123.7h0.72M61.2 64.1h0.72M60.6 102.4h0.72M52.9 96.4h0.72M46.6 91.3h0.72M77.7 89.1h0.72M75.3 69.2h0.72M82.6 69.7h0.72M87.2 124.8h0.72M88.0 95.2h0.72M56.2 83.9h0.72M78.8 93.3h0.72M87.6 67.9h0.72M65.8 116.4h0.72M71.3 96.1h0.72M46.3 70.8h0.72M55.3 118.3h0.72M83.4 76.3h0.72M87.3 64.0h0.72M71.3 122.9h0.72M58.9 121.5h0.72M74.2 65.2h0.72M58.3 90.3h0.72M54.1 108.8h0.72M50.8 111.6h0.72M56.6 66.4h0.72M69.4 68.0h0.72M69.0 111.6h0.72M71.2 91.1h0.72M43.7 94.3h0.72M46.8 102.7h0.72M48.5 98.4h0.72M59.3 85.6h0.72M74.5 72.3h0.72M50.3 121.3h0.72M58.2 115.1h0.72M84.8 92.3h0.72M49.3 67.9h0.72M85.1 69.4h0.72M66.3 95.8h0.72M47.8 91.5h0.72M50.0 95.7h0.72M66.8 85.1h0.72M51.7 87.4h0.72M52.0 70.0h0.72M53.8 116.9h0.72M66.6 118.1h0.72M42.7 121.4h0.72M65.9 111.8h0.72M70.0 105.4h0.72M53.2 109.3h0.72M49.5 78.6h0.72M43.5 86.8h0.72M67.4 80.4h0.72M85.6 67.3h0.72M70.3 76.7h0.72M71.2 111.4h0.72M76.8 65.9h0.72M54.0 99.7h0.72M90.2 64.6h0.72M72.3 105.6h0.72M81.9 83.6h0.72M81.7 91.1h0.72M87.1 62.7h0.72M88.1 88.0h0.72M61.9 67.5h0.72M54.0 108.2h0.72M75.3 71.5h0.72M58.9 70.8h0.72M51.7 75.8h0.72M58.2 123.5h0.72M90.9 111.9h0.72M65.5 93.3h0.72M80.2 119.2h0.72M78.8 102.1h0.72M51.8 101.4h0.72M83.4 111.6h0.72M46.5 107.2h0.72M59.1 72.2h0.72M89.3 104.4h0.72M78.5 70.5h0.72M82.6 121.0h0.72M86.3 108.9h0.72M82.8 112.5h0.72M70.9 89.4h0.72M82.4 111.4h0.72M84.7 80.8h0.72M89.1 95.5h0.72M88.4 69.3h0.72M89.5 111.6h0.72M54.3 114.8h0.72M53.4 74.5h0.72M64.4 76.9h0.72M66.1 119.2h0.72M75.6 106.8h0.72M61.2 111.4h0.72M80.9 105.0h0.72M88.1 114.0h0.72M61.9 67.5h0.72M74.0 114.7h0.72M58.6 99.5h0.72M83.0 112.0h0.72M42.2 92.8h0.72M42.8 69.0h0.72M81.8 88.4h0.72M71.6 90.8h0.72M58.4 75.5h0.72M59.3 115.2h0.72M72.3 80.4h0.72M46.3 79.1h0.72M76.4 89.8h0.72M74.4 112.8h0.72M47.9 105.0h0.72M44.0 113.8h0.72M51.0 79.1h0.72M88.9 84.8h0.72M53.0 118.1h0.72M71.9 118.3h0.72M61.3 93.5h0.72M88.8 93.9h0.72M90.4 73.9h0.72M82.7 72.2h0.72M67.8 62.0h0.72M50.6 121.5h0.72M64.3 113.0h0.72M54.3 84.2h0.72M46.9 96.8h0.72M84.3 94.4h0.72M60.5 120.5h0.72M85.8 104.0h0.72M45.7 101.3h0.72M63.8 122.3h0.72M59.7 103.7h0.72M73.0 85.7h0.72M67.6 104.6h0.72M86.5 93.4h0.72M59.8 123.5h0.72M44.8 114.6h0.72M75.5 97.1h0.72M63.9 109.3h0.72M85.7 107.9h0.72M78.7 64.2h0.72M57.9 70.6h0.72M88.7 118.2h0.72M49.1 99.0h0.72M70.3 64.9h0.72M61.2 109.1h0.72M73.4 79.7h0.72M79.4 80.3h0.72M68.7 88.5h0.72M89.9 102.9h0.72M81.4 104.6h0.72M60.6 122.7h0.72M76.8 105.5h0.72M55.6 72.2h0.72M70.2 114.0h0.72M80.9 83.9h0.72M48.9 94.5h0.72M85.0 72.2h0.72M78.2 72.8h0.72M57.3 65.4h0.72M56.6 86.1h0.72M89.4 122.6h0.72M51.2 81.5h0.72M88.2 74.4h0.72M57.7 89.6h0.72M47.3 78.4h0.72M61.3 86.3h0.72M89.2 78.8h0.72M52.0 119.3h0.72M64.1 114.7h0.72M73.2 111.1h0.72M57.4 71.6h0.72M79.1 91.6h0.72M69.4 104.2h0.72M78.9 79.3h0.72M59.8 119.8h0.72M67.9 80.2h0.72M72.9 78.4h0.72M79.8 64.6h0.72M82.5 97.7h0.72M59.3 121.2h0.72M55.0 77.3h0.72M45.4 96.6h0.72M78.9 104.7h0.72M62.2 112.9h0.72M47.5 81.3h0.72M73.6 122.9h0.72M73.1 105.6h0.72M80.0 86.9h0.72M88.1 108.8h0.72M58.7 86.7h0.72M81.5 84.0h0.72M51.1 116.9h0.72M68.1 94.8h0.72M74.8 118.8h0.72M48.5 83.3h0.72M45.2 88.0h0.72M66.6 115.7h0.72M74.7 98.4h0.72M61.8 98.1h0.72M55.4 115.2h0.72M80.6 114.8h0.72M49.4 104.3h0.72M79.0 93.5h0.72M86.0 118.6h0.72M78.4 113.7h0.72M73.8 117.4h0.72M48.4 106.4h0.72M76.5 100.6h0.72M55.5 66.2h0.72M71.6 113.9h0.72M55.4 75.4h0.72M53.0 67.9h0.72M75.1 123.4h0.72M81.3 84.7h0.72M76.3 66.5h0.72M83.1 82.5h0.72M42.2 101.6h0.72M48.8 79.3h0.72M44.9 90.1h0.72M69.2 112.9h0.72M43.9 114.1h0.72M47.4 76.1h0.72M72.8 83.4h0.72M58.2 97.8h0.72M52.7 112.0h0.72M52.2 114.9h0.72M81.6 95.8h0.72M43.5 111.0h0.72M43.4 93.8h0.72M62.8 66.0h0.72M72.9 107.6h0.72M70.7 87.2h0.72M67.1 99.1h0.72M53.1 116.7h0.72M90.8 112.7h0.72M89.1 82.8h0.72M90.3 66.5h0.72M65.4 70.4h0.72M64.2 105.0h0.72M76.7 90.6h0.72M58.7 74.0h0.72M61.7 79.8h0.72M51.5 108.4h0.72M67.3 89.6h0.72M51.7 106.3h0.72M51.6 78.7h0.72M69.5 106.2h0.72M89.7 109.1h0.72M88.5 120.0h0.72M77.4 107.3h0.72M45.1 75.0h0.72M42.6 116.4h0.72M77.4 101.7h0.72M54.9 84.4h0.72M50.0 101.8h0.72M90.6 81.3h0.72M44.2 73.0h0.72M59.4 118.6h0.72M81.4 90.7h0.72M47.0 68.7h0.72M49.5 111.0h0.72M65.1 124.4h0.72M86.7 112.1h0.72M65.3 113.8h0.72M48.3 68.9h0.72M69.6 94.0h0.72M52.3 77.9h0.72M43.0 119.3h0.72M76.8 121.6h0.72M90.0 89.5h0.72M66.2 93.1h0.72M80.4 82.0h0.72M69.8 103.9h0.72M73.1 115.6h0.72M66.3 104.3h0.72M82.4 84.1h0.72M63.1 104.7h0.72M84.1 91.5h0.72M81.6 104.4h0.72M42.9 92.5h0.72M43.8 109.1h0.72M71.5 109.9h0.72M81.9 94.6h0.72M86.1 108.0h0.72M76.0 106.4h0.72M46.3 111.0h0.72M50.6 94.0h0.72M62.1 105.6h0.72M67.1 99.7h0.72M51.1 108.2h0.72M55.5 90.7h0.72M69.6 117.9h0.72M61.2 93.3h0.72M63.0 101.8h0.72M70.3 112.9h0.72M75.5 82.5h0.72M49.4 93.7h0.72M75.3 102.7h0.72M73.2 102.8h0.72M72.8 117.4h0.72M90.0 92.4h0.72M79.6 96.8h0.72M69.9 104.3h0.72M68.4 98.0h0.72M79.9 118.3h0.72M78.6 111.7h0.72M44.4 107.4h0.72M42.7 97.4h0.72M73.0 103.7h0.72M54.5 103.2h0.72M66.3 104.1h0.72M67.9 100.7h0.72M82.9 83.3h0.72M59.6 106.0h0.72M61.2 98.5h0.72M60.6 106.6h0.72M89.1 97.0h0.72M63.5 107.6h0.72M63.9 83.5h0.72M72.6 98.2h0.72M58.3 111.5h0.72M68.7 96.9h0.72M68.2 101.7h0.72M75.4 103.9h0.72M59.9 91.3h0.72M49.4 105.2h0.72M48.5 114.7h0.72M45.5 88.6h0.72M64.7 85.0h0.72M67.1 100.6h0.72M54.1 87.2h0.72M85.4 122.3h0.72M43.1 113.7h0.72M67.8 111.9h0.72M59.3 112.3h0.72M83.2 106.4h0.72M68.2 94.6h0.72M68.0 113.8h0.72M80.2 101.6h0.72M54.2 121.5h0.72M73.6 80.1h0.72M73.8 89.4h0.72M58.7 118.4h0.72M53.8 115.4h0.72M77.8 99.8h0.72M43.8 104.8h0.72M51.6 80.7h0.72M77.9 104.9h0.72M81.1 101.1h0.72M57.0 74.1h0.72M76.2 111.5h0.72M57.9 90.1h0.72M67.3 85.6h0.72M68.1 111.1h0.72M71.3 110.2h0.72M47.1 98.7h0.72M46.6 97.8h0.72M65.9 107.0h0.72M70.7 103.2h0.72M61.9 108.6h0.72M83.1 108.1h0.72M63.7 121.6h0.72M71.4 106.7h0.72M62.3 114.3h0.72M61.2 93.8h0.72M67.0 98.6h0.72M82.2 96.3h0.72M70.1 100.3h0.72M73.8 95.3h0.72M86.8 84.4h0.72M61.4 96.8h0.72M79.0 101.3h0.72M76.2 97.9h0.72M55.8 93.6h0.72M62.3 98.5h0.72M72.8 105.8h0.72M84.6 98.7h0.72M55.3 94.3h0.72M69.0 106.6h0.72M50.2 119.2h0.72M87.3 113.4h0.72M67.8 113.1h0.72M59.8 103.9h0.72M68.3 121.6h0.72M64.3 113.7h0.72M69.1 95.3h0.72M72.1 109.1h0.72M55.9 112.0h0.72M55.9 96.1h0.72M71.7 99.8h0.72M51.3 89.1h0.72M68.4 105.5h0.72M60.2 106.5h0.72M42.0 112.2h0.72M75.1 104.5h0.72M57.6 105.9h0.72M70.2 113.8h0.72M72.7 104.8h0.72M55.7 114.4h0.72M87.9 94.0h0.72M78.9 104.1h0.72M67.2 89.7h0.72M73.1 98.1h0.72M87.5 94.8h0.72M68.7 109.3h0.72M75.7 96.0h0.72M79.6 104.9h0.72M84.8 94.4h0.72M67.2 99.1h0.72M53.8 108.4h0.72M74.9 116.5h0.72M62.5 108.1h0.72M87.4 98.0h0.72M69.1 104.2h0.72M56.3 94.9h0.72M86.9 101.1h0.72M66.7 90.2h0.72M70.0 114.9h0.72M48.5 97.5h0.72M86.8 114.3h0.72M78.2 93.2h0.72M76.8 97.5h0.72M71.3 116.4h0.72M73.7 99.4h0.72M68.9 105.6h0.72M59.3 106.8h0.72M78.2 117.3h0.72M47.1 116.2h0.72M70.1 114.5h0.72M59.4 99.6h0.72M73.7 95.8h0.72M86.8 99.3h0.72M60.4 114.1h0.72M54.0 118.7h0.72M84.3 101.3h0.72M84.7 116.5h0.72M67.1 114.7h0.72M43.2 101.5h0.72M76.2 107.3h0.72M73.5 106.5h0.72M45.8 105.4h0.72M72.4 99.8h0.72M69.0 109.1h0.72M52.0 100.2h0.72M50.2 88.8h0.72M81.0 98.3h0.72M84.3 96.0h0.72M70.5 103.7h0.72M64.5 112.1h0.72M49.7 112.8h0.72M85.9 84.0h0.72M56.4 94.9h0.72M77.4 106.4h0.72M55.7 93.7h0.72M79.5 79.5h0.72M78.8 99.3h0.72M58.3 102.0h0.72M63.4 96.4h0.72M69.4 112.7h0.72M42.7 105.6h0.72M54.4 97.3h0.72M53.7 89.2h0.72M87.3 100.0h0.72M56.3 90.4h0.72M61.6 99.0h0.72M69.9 113.7h0.72M79.2 99.0h0.72M78.0 96.6h0.72M66.5 93.4h0.72M53.0 90.6h0.72M76.4 106.7h0.72M70.9 110.5h0.72M77.0 102.5h0.72M53.2 112.0h0.72M87.8 105.7h0.72M88.9 94.1h0.72M51.6 119.1h0.72M58.3 107.4h0.72M64.8 103.8h0.72M63.5 98.3h0.72M71.4 82.5h0.72M52.9 94.3h0.72M55.6 79.2h0.72M77.6 118.0h0.72M63.9 111.5h0.72M78.0 88.2h0.72M88.3 81.7h0.72M58.4 101.2h0.72M88.9 100.2h0.72M65.9 95.1h0.72M69.5 103.1h0.72M80.2 115.0h0.72M80.3 100.8h0.72M65.5 120.0h0.72M71.3 102.2h0.72M77.5 100.0h0.72M57.4 116.0h0.72M60.5 114.3h0.72M55.0 106.6h0.72M74.7 103.2h0.72M71.9 106.2h0.72M49.3 95.2h0.72M65.6 122.0h0.72M65.9 93.9h0.72M57.0 105.5h0.72M87.7 93.4h0.72M77.3 103.1h0.72M62.1 94.5h0.72M65.5 96.1h0.72M76.9 83.2h0.72M86.7 107.1h0.72M77.6 116.5h0.72M78.0 83.5h0.72M68.9 107.4h0.72M56.7 93.6h0.72M75.2 106.8h0.72M60.9 101.9h0.72M59.6 98.8h0.72M67.0 114.2h0.72M70.6 111.1h0.72M51.4 93.8h0.72M72.1 110.9h0.72M61.1 97.4h0.72M74.7 108.0h0.72M72.3 82.7h0.72M59.0 78.9h0.72M72.0 93.5h0.72M57.1 120.5h0.72M89.9 103.7h0.72M72.6 103.9h0.72M58.3 104.4h0.72M57.0 106.8h0.72M82.8 108.6h0.72M52.0 104.8h0.72M63.6 91.3h0.72M69.3 97.8h0.72M83.2 104.5h0.72M55.1 106.3h0.72M62.1 97.7h0.72M60.0 115.4h0.72M61.2 86.8h0.72M55.2 113.7h0.72M62.1 100.8h0.72M44.7 111.6h0.72M67.2 106.0h0.72M81.1 109.0h0.72M57.5 99.0h0.72M70.4 91.4h0.72M82.6 105.5h0.72M81.3 103.2h0.72M69.0 97.2h0.72M73.1 104.5h0.72M78.8 112.0h0.72M73.2 96.5h0.72M81.3 116.3h0.72M54.2 110.0h0.72M77.1 106.7h0.72M76.3 100.5h0.72M66.3 120.5h0.72M56.9 99.9h0.72M67.1 97.7h0.72M82.9 124.9h0.72M61.2 111.0h0.72M67.4 114.9h0.72M77.6 100.8h0.72M77.1 93.9h0.72M81.1 115.8h0.72M62.0 109.8h0.72M82.5 89.8h0.72M82.4 97.4h0.72M86.2 83.7h0.72M66.4 113.3h0.72M56.8 112.1h0.72M62.1 107.7h0.72M73.3 124.7h0.72M47.6 114.9h0.72M89.7 87.3h0.72M85.3 69.4h0.72M64.1 86.3h0.72M73.0 94.6h0.72M58.7 96.3h0.72M72.9 97.3h0.72M53.1 103.6h0.72M74.7 93.0h0.72M86.3 82.5h0.72M74.7 97.7h0.72M57.0 91.4h0.72M50.1 103.1h0.72M52.2 121.6h0.72M74.9 80.9h0.72M71.5 111.7h0.72M68.0 107.8h0.72M66.2 105.5h0.72M71.5 95.1h0.72M73.7 103.6h0.72M67.4 96.2h0.72M51.3 108.8h0.72M81.6 75.7h0.72M59.2 118.5h0.72M83.1 92.8h0.72M90.3 88.6h0.72M60.8 102.2h0.72M48.6 105.4h0.72M62.1 98.0h0.72M57.5 112.6h0.72M90.2 101.7h0.72M43.4 114.7h0.72M61.2 106.3h0.72M71.9 92.7h0.72M72.9 119.1h0.72M71.8 95.3h0.72M52.8 110.1h0.72M58.2 81.5h0.72M72.3 110.7h0.72M54.9 120.5h0.72M76.3 113.6h0.72M42.7 107.9h0.72M89.8 98.8h0.72M71.0 96.0h0.72M86.2 92.4h0.72M70.0 81.5h0.72M69.0 105.0h0.72M59.2 102.6h0.72M47.2 93.2h0.72M47.5 113.5h0.72M67.2 111.6h0.72M50.1 112.5h0.72M60.7 105.3h0.72M83.5 100.3h0.72M62.2 87.1h0.72M69.1 110.8h0.72M57.5 104.4h0.72M74.7 115.0h0.72M62.8 86.8h0.72M61.7 88.2h0.72M63.4 123.7h0.72M73.0 100.5h0.72M85.3 95.7h0.72M73.5 104.0h0.72M75.4 86.4h0.72M79.8 109.8h0.72M53.1 121.2h0.72M68.3 109.9h0.72M77.2 110.4h0.72M57.4 99.0h0.72M74.3 108.1h0.72M77.6 104.6h0.72M59.9 116.0h0.72M75.9 112.4h0.72M56.9 106.4h0.72M60.0 101.3h0.72M71.2 106.0h0.72M54.6 79.5h0.72M54.9 111.1h0.72M53.9 110.2h0.72M61.8 94.4h0.72M87.6 116.3h0.72M66.3 102.8h0.72M84.1 86.1h0.72M53.4 117.6h0.72M83.1 95.0h0.72M55.0 109.2h0.72M44.4 102.4h0.72M64.1 78.2h0.72M77.9 109.0h0.72M85.9 84.6h0.72M46.4 98.7h0.72M51.6 102.9h0.72M71.5 107.1h0.72M82.8 101.7h0.72M48.3 108.4h0.72M44.4 124.4h0.72M55.7 115.9h0.72M89.9 92.3h0.72M52.9 107.3h0.72M50.3 115.8h0.72M71.0 94.5h0.72M56.4 112.8h0.72M54.7 103.5h0.72M52.4 123.0h0.72M81.9 113.9h0.72M79.0 101.8h0.72M75.4 107.6h0.72M80.4 103.5h0.72M65.2 86.9h0.72M57.8 107.7h0.72M67.6 82.3h0.72M62.3 107.2h0.72M87.9 86.6h0.72M73.6 102.8h0.72M70.5 104.1h0.72M61.8 89.9h0.72M75.7 105.6h0.72M77.8 114.1h0.72M47.0 82.6h0.72M52.5 110.2h0.72M67.7 110.7h0.72M65.1 97.3h0.72M72.2 107.6h0.72M51.5 120.0h0.72M87.5 103.9h0.72M66.1 100.9h0.72M51.4 101.0h0.72M84.9 90.1h0.72M59.1 113.7h0.72M86.8 92.5h0.72M74.6 106.8h0.72M48.6 117.5h0.72M72.6 89.8h0.72M46.3 115.2h0.72M43.2 100.6h0.72M56.9 99.1h0.72M58.4 110.7h0.72M75.5 82.6h0.72M56.1 121.4h0.72M66.2 117.7h0.72M86.3 116.8h0.72M54.4 106.2h0.72M74.3 99.8h0.72M85.0 114.0h0.72M52.6 100.3h0.72M74.6 99.9h0.72M69.3 97.9h0.72M66.6 108.4h0.72M80.7 92.3h0.72M66.1 95.4h0.72M65.0 88.5h0.72M84.2 106.9h0.72M65.9 96.2h0.72M60.2 97.5h0.72M48.2 112.9h0.72M78.3 84.5h0.72M59.6 105.5h0.72M67.9 97.1h0.72M65.6 100.3h0.72M89.2 97.9h0.72M67.5 97.6h0.72M57.2 97.4h0.72M68.2 122.2h0.72M87.0 101.8h0.72M71.5 100.6h0.72M49.3 109.2h0.72M62.6 87.4h0.72M71.6 107.5h0.72M71.4 97.5h0.72M75.8 112.8h0.72M62.8 109.4h0.72M85.4 94.5h0.72M70.9 94.7h0.72M78.3 97.1h0.72M87.5 91.2h0.72M53.7 96.3h0.72M79.3 91.8h0.72M76.8 86.4h0.72M67.6 95.5h0.72M81.8 113.8h0.72M51.7 102.6h0.72M72.6 107.1h0.72M48.5 109.1h0.72M66.2 113.3h0.72M59.4 101.3h0.72M80.3 94.0h0.72M82.3 110.9h0.72M84.4 97.7h0.72M53.9 103.1h0.72M79.3 102.1h0.72M77.9 107.1h0.72M53.0 96.1h0.72M53.8 96.0h0.72M84.4 87.9h0.72M53.2 116.9h0.72M70.2 103.2h0.72M57.1 102.8h0.72M59.5 104.4h0.72M81.1 87.1h0.72M52.4 84.1h0.72M67.8 102.4h0.72M85.1 103.1h0.72M82.5 98.4h0.72M65.9 102.8h0.72M79.4 101.4h0.72M81.8 118.2h0.72M53.0 105.0h0.72M84.9 97.5h0.72M65.9 99.7h0.72M89.6 109.9h0.72M66.8 109.1h0.72M51.5 117.8h0.72M62.3 99.0h0.72M64.8 90.5h0.72M44.9 124.9h0.72M67.7 108.9h0.72M73.3 107.0h0.72M42.1 98.1h0.72M78.8 111.4h0.72M48.5 100.7h0.72M49.8 113.4h0.72M73.9 102.2h0.72M57.0 108.7h0.72M68.5 95.1h0.72M73.7 94.9h0.72M84.2 106.4h0.72M56.3 111.4h0.72M69.1 95.4h0.72M52.5 88.6h0.72M48.8 110.4h0.72M88.5 92.4h0.72M70.7 106.1h0.72M81.3 105.1h0.72M88.9 107.0h0.72M55.0 109.7h0.72M68.3 109.0h0.72M62.9 112.7h0.72M90.5 89.8h0.72M58.8 107.5h0.72M76.3 102.9h0.72M82.1 87.9h0.72M81.2 112.7h0.72M86.9 103.8h0.72M64.0 108.0h0.72M66.7 86.6h0.72M57.7 104.6h0.72M59.2 94.9h0.72M64.1 99.9h0.72M69.2 102.3h0.72M70.9 112.9h0.72M70.3 106.8h0.72M47.2 76.1h0.72M61.2 111.4h0.72M62.2 97.6h0.72M46.9 116.4h0.72M59.0 107.3h0.72M87.2 104.9h0.72M84.3 107.1h0.72M56.9 105.7h0.72M58.4 94.1h0.72M73.1 93.9h0.72M58.7 105.8h0.72M59.2 105.3h0.72M57.7 90.1h0.72M70.6 97.6h0.72M65.5 106.6h0.72M44.4 99.2h0.72M52.9 119.1h0.72M50.0 118.8h0.72M66.7 103.6h0.72M91.0 107.7h0.72M84.0 88.7h0.72M87.3 116.9h0.72M66.3 98.3h0.72M49.4 117.3h0.72M73.0 102.1h0.72M47.0 124.1h0.72M82.9 99.9h0.72M83.0 89.6h0.72M88.8 94.6h0.72M74.8 113.7h0.72M52.7 107.0h0.72M53.7 114.7h0.72M57.7 101.1h0.72M64.6 115.9h0.72M50.3 106.2h0.72M62.4 98.3h0.72M54.6 103.9h0.72M71.3 86.1h0.72M72.0 89.8h0.72M51.6 105.5h0.72M63.7 114.1h0.72M59.9 85.8h0.72M72.3 113.4h0.72M58.9 111.8h0.72M49.9 120.1h0.72M66.8 96.1h0.72M71.0 120.7h0.72M53.6 92.8h0.72M50.7 94.2h0.72M67.1 106.8h0.72M65.2 105.6h0.72M88.1 96.1h0.72M46.7 83.1h0.72M72.1 95.1h0.72M63.8 108.1h0.72M75.9 85.0h0.72M51.7 106.9h0.72M65.6 115.5h0.72M59.5 83.0h0.72M87.9 82.0h0.72M51.5 110.3h0.72M72.1 107.8h0.72M77.2 93.7h0.72M89.3 81.1h0.72M58.0 108.0h0.72M70.3 92.5h0.72M52.1 110.0h0.72M57.2 100.6h0.72M84.8 101.1h0.72M66.2 104.4h0.72M48.1 119.7h0.72M55.2 119.2h0.72M60.2 99.7h0.72M57.1 99.5h0.72M78.3 120.6h0.72M78.4 96.8h0.72M48.9 99.6h0.72M66.0 106.0h0.72M56.9 118.6h0.72M51.7 98.7h0.72M76.5 106.4h0.72M61.4 114.4h0.72M44.1 124.8h0.72M70.0 123.2h0.72M68.9 116.8h0.72M64.6 105.7h0.72M76.9 82.9h0.72M64.5 121.7h0.72M83.7 103.4h0.72M71.3 116.9h0.72M73.7 82.0h0.72M51.9 103.0h0.72M70.5 97.8h0.72M66.2 120.9h0.72M83.9 106.2h0.72M68.3 103.6h0.72M74.2 104.3h0.72M55.7 113.6h0.72M54.0 105.3h0.72M61.9 92.1h0.72M78.3 100.3h0.72M48.2 106.0h0.72M44.6 122.6h0.72M76.8 122.1h0.72M58.4 112.3h0.72M51.6 97.3h0.72M66.5 107.6h0.72M83.7 97.2h0.72M86.7 109.5h0.72M53.2 104.0h0.72M52.5 123.9h0.72M58.7 114.1h0.72M83.5 97.3h0.72M59.7 108.2h0.72M54.9 92.3h0.72M51.6 109.7h0.72M71.3 120.8h0.72M48.5 118.9h0.72M79.8 102.0h0.72M59.0 93.8h0.72M56.9 106.4h0.72M79.4 114.2h0.72M63.5 96.3h0.72M62.3 99.6h0.72M60.1 100.3h0.72M53.3 105.3h0.72M59.3 102.9h0.72M44.6 109.1h0.72M77.7 107.9h0.72M58.7 92.9h0.72M46.0 95.0h0.72M57.1 101.9h0.72M42.0 100.9h0.72M55.8 114.0h0.72M63.4 99.8h0.72M64.6 101.9h0.72M66.2 95.2h0.72M74.0 96.4h0.72M77.7 89.9h0.72M60.1 92.5h0.72M75.4 96.2h0.72M80.4 94.9h0.72M83.2 101.6h0.72M74.0 103.5h0.72M61.9 100.4h0.72M75.6 108.9h0.72M86.3 98.7h0.72M71.9 94.1h0.72M66.6 95.8h0.72M45.8 102.7h0.72M74.1 97.4h0.72M62.1 93.0h0.72M72.2 90.9h0.72M62.5 121.1h0.72M74.3 94.9h0.72M62.2 94.2h0.72M69.9 109.9h0.72M83.6 97.1h0.72M48.0 106.1h0.72M66.9 81.8h0.72M60.7 110.0h0.72M52.1 120.0h0.72M58.5 95.9h0.72M58.3 103.9h0.72M84.7 93.9h0.72M76.8 117.2h0.72M49.2 121.9h0.72M79.3 105.5h0.72M55.2 96.4h0.72M52.0 115.7h0.72M71.7 113.3h0.72M67.2 122.9h0.72M46.2 102.7h0.72M61.8 100.3h0.72M70.4 93.9h0.72M87.4 85.2h0.72M54.4 88.3h0.72M44.6 113.6h0.72M78.5 99.0h0.72M82.1 106.7h0.72M58.4 104.5h0.72M74.1 122.5h0.72M60.6 108.3h0.72M77.1 113.8h0.72M75.1 112.7h0.72M50.2 103.8h0.72M69.5 105.5h0.72M70.4 89.0h0.72M56.4 103.5h0.72M70.8 93.6h0.72M66.2 95.9h0.72M46.0 100.6h0.72M54.5 114.3h0.72M90.4 104.7h0.72M64.5 98.0h0.72M71.8 99.8h0.72M68.1 107.4h0.72M67.9 107.5h0.72M55.1 106.0h0.72M62.1 115.2h0.72M47.3 120.4h0.72M66.6 98.2h0.72M68.4 104.3h0.72M64.1 108.2h0.72M58.4 87.6h0.72M79.6 100.6h0.72M56.5 110.9h0.72M49.7 105.7h0.72M77.4 90.8h0.72M75.6 111.2h0.72M81.5 93.6h0.72M56.4 93.9h0.72M46.4 110.5h0.72M68.7 116.3h0.72M72.6 98.9h0.72M44.2 123.5h0.72M70.8 102.2h0.72M51.2 95.6h0.72M78.6 91.1h0.72M77.8 107.6h0.72M61.6 87.8h0.72M74.9 116.1h0.72M54.2 92.9h0.72M86.2 101.0h0.72M57.6 117.6h0.72M63.4 108.6h0.72M61.3 96.7h0.72M71.7 93.6h0.72M88.6 110.3h0.72M60.7 109.3h0.72M52.2 113.7h0.72M60.5 107.2h0.72M53.8 104.5h0.72M84.4 97.7h0.72M56.8 108.2h0.72M82.7 98.3h0.72M48.5 91.0h0.72M45.7 118.3h0.72M66.5 108.3h0.72M85.9 102.5h0.72M76.0 96.4h0.72M66.4 109.3h0.72M50.2 105.1h0.72M117.3 118.5h0.72M97.7 97.3h0.72M102.7 64.1h0.72M103.4 119.7h0.72M99.5 98.9h0.72M110.9 66.0h0.72M116.9 68.9h0.72M99.4 107.1h0.72M91.5 85.7h0.72M94.5 91.8h0.72M91.4 71.5h0.72M97.2 67.1h0.72M93.5 74.3h0.72M105.5 70.6h0.72M114.0 88.3h0.72M98.1 77.2h0.72M114.5 65.0h0.72M111.8 68.1h0.72M117.4 87.7h0.72M107.7 116.4h0.72M93.8 66.0h0.72M110.4 99.0h0.72M111.2 79.5h0.72M104.9 73.8h0.72M103.2 79.7h0.72M107.4 80.8h0.72M98.7 102.5h0.72M93.4 112.5h0.72M104.9 76.4h0.72M94.2 94.1h0.72M105.1 107.3h0.72M101.5 88.0h0.72M116.0 79.3h0.72M118.5 118.2h0.72M118.7 121.4h0.72M98.2 113.3h0.72M108.1 74.9h0.72M118.9 102.8h0.72M113.7 97.2h0.72M93.2 116.4h0.72M95.9 78.3h0.72M108.3 74.2h0.72M104.0 107.0h0.72M93.7 103.6h0.72M93.9 92.0h0.72M109.2 105.3h0.72M92.2 74.0h0.72M117.9 86.6h0.72M102.9 85.6h0.72M110.5 108.6h0.72M109.2 87.3h0.72M106.9 94.5h0.72M96.3 121.8h0.72M118.0 111.0h0.72M118.8 91.3h0.72M114.5 77.2h0.72M111.8 107.0h0.72M117.3 114.5h0.72M115.6 78.9h0.72M113.0 91.9h0.72M99.7 85.2h0.72M113.4 115.1h0.72M114.7 104.2h0.72M95.8 71.8h0.72M106.9 75.4h0.72M100.4 68.5h0.72M95.3 107.2h0.72M97.3 115.4h0.72M100.2 115.5h0.72M99.5 78.9h0.72M102.1 62.8h0.72M103.2 85.9h0.72M91.4 116.3h0.72M101.5 62.0h0.72M117.9 76.4h0.72M98.1 63.5h0.72M93.8 106.7h0.72M107.3 93.8h0.72M97.9 80.1h0.72M118.2 85.5h0.72M118.7 117.9h0.72M94.5 115.4h0.72M91.6 106.8h0.72M113.7 105.8h0.72M106.4 113.2h0.72M95.3 96.0h0.72M98.4 87.1h0.72M96.4 106.6h0.72M107.0 111.1h0.72M108.6 99.7h0.72M116.8 113.2h0.72M106.9 82.5h0.72M117.0 85.4h0.72M93.9 83.0h0.72M110.8 120.7h0.72M109.1 103.7h0.72M117.2 111.0h0.72M103.5 91.1h0.72M112.3 82.0h0.72M94.1 101.0h0.72M113.7 77.6h0.72M110.1 118.2h0.72M94.6 70.6h0.72M104.8 83.1h0.72M117.6 124.8h0.72M103.5 112.0h0.72M108.7 72.9h0.72M118.2 73.0h0.72M93.1 90.5h0.72M91.5 92.3h0.72M102.5 122.1h0.72M102.6 115.5h0.72M112.8 98.9h0.72M97.7 81.2h0.72M104.8 86.9h0.72M109.1 93.8h0.72M100.0 100.2h0.72M118.9 74.8h0.72M100.4 62.8h0.72M93.6 65.5h0.72M102.8 114.7h0.72M110.5 122.9h0.72M114.4 98.9h0.72M107.3 62.8h0.72M101.7 78.5h0.72M108.4 66.1h0.72M106.2 85.7h0.72M104.8 87.5h0.72M93.9 108.1h0.72M113.4 99.7h0.72M94.2 99.7h0.72M115.4 124.2h0.72M112.2 64.9h0.72M115.6 103.9h0.72M98.7 120.0h0.72M114.1 118.4h0.72M97.9 98.3h0.72M101.6 80.6h0.72M112.3 100.8h0.72M100.3 96.2h0.72M117.0 97.7h0.72M116.6 97.7h0.72M118.8 63.8h0.72M103.9 96.8h0.72M111.4 123.0h0.72M108.5 92.1h0.72M108.8 95.6h0.72M110.7 121.7h0.72M91.4 82.2h0.72M115.5 65.8h0.72M113.1 63.9h0.72M109.1 112.4h0.72M97.7 86.0h0.72M97.3 106.4h0.72M105.8 100.2h0.72M100.1 99.0h0.72M117.7 111.1h0.72M117.6 77.6h0.72M105.4 86.3h0.72M100.7 112.6h0.72M95.9 97.2h0.72M112.7 120.9h0.72M91.5 79.1h0.72M104.8 121.0h0.72M95.6 115.0h0.72M102.1 96.5h0.72M117.0 66.0h0.72M100.2 71.8h0.72M94.7 81.1h0.72M110.6 98.6h0.72M94.4 112.5h0.72M105.2 71.0h0.72M114.0 113.7h0.72M97.1 121.2h0.72M113.7 76.4h0.72M91.0 116.6h0.72M114.1 68.1h0.72M112.5 110.7h0.72M108.7 114.4h0.72M118.6 82.7h0.72M114.3 120.0h0.72M99.8 105.1h0.72M110.2 115.5h0.72M106.9 79.4h0.72M98.0 96.2h0.72M94.8 116.2h0.72M115.9 77.3h0.72M110.5 104.4h0.72M94.4 111.0h0.72M112.5 81.3h0.72M93.7 79.8h0.72M112.6 91.4h0.72M113.8 72.1h0.72M94.0 84.0h0.72M115.6 72.2h0.72M93.1 109.4h0.72M93.6 104.1h0.72M93.3 77.6h0.72M109.6 117.0h0.72M102.5 90.3h0.72M91.9 83.5h0.72M97.8 111.7h0.72M111.0 111.4h0.72M105.9 106.1h0.72M94.6 86.3h0.72M99.2 79.8h0.72M111.7 75.5h0.72M100.1 79.8h0.72M115.2 102.2h0.72M104.5 85.9h0.72M116.8 121.2h0.72M103.6 97.7h0.72M115.2 78.2h0.72M98.2 68.5h0.72M105.1 110.4h0.72M95.4 89.2h0.72M118.7 92.3h0.72M101.7 114.9h0.72M116.0 85.7h0.72M94.5 102.1h0.72M111.7 120.2h0.72M109.5 81.4h0.72M105.4 80.1h0.72M103.5 91.5h0.72M116.5 119.1h0.72M116.9 92.1h0.72M118.0 70.8h0.72M116.8 102.3h0.72M115.4 88.0h0.72M118.7 63.6h0.72M114.7 113.6h0.72M101.5 114.2h0.72M97.0 109.4h0.72M104.1 87.9h0.72M96.5 112.4h0.72M111.5 67.6h0.72M118.4 75.9h0.72M101.5 88.1h0.72M107.1 118.1h0.72M117.5 101.9h0.72M101.2 68.8h0.72M92.9 94.7h0.72M107.3 90.2h0.72M118.5 88.1h0.72M100.8 88.3h0.72M95.8 121.2h0.72M107.5 96.2h0.72M102.9 77.8h0.72M99.8 93.1h0.72M103.5 123.7h0.72M106.8 75.0h0.72M92.5 72.0h0.72M100.7 111.3h0.72M115.9 76.9h0.72M112.8 89.8h0.72M106.1 95.6h0.72M92.2 66.2h0.72M109.7 105.4h0.72M101.6 119.9h0.72M114.0 81.0h0.72M92.9 96.9h0.72M109.3 76.1h0.72M92.2 92.7h0.72M92.0 108.4h0.72M108.5 79.6h0.72M103.5 76.7h0.72M96.2 73.4h0.72M113.8 90.6h0.72M111.0 83.9h0.72M113.6 99.5h0.72M109.3 86.7h0.72M106.7 74.0h0.72M118.3 104.3h0.72M105.9 102.2h0.72M93.8 83.1h0.72M97.5 115.1h0.72M91.4 90.0h0.72M115.3 111.3h0.72M111.1 81.0h0.72M97.5 106.4h0.72M99.4 107.6h0.72M100.8 109.9h0.72M107.0 113.4h0.72M118.6 85.9h0.72M118.6 62.6h0.72M115.6 63.9h0.72M106.3 86.5h0.72M112.6 81.8h0.72M96.8 111.4h0.72M106.4 109.6h0.72M104.7 64.3h0.72M112.6 75.7h0.72M104.2 62.0h0.72M98.3 103.9h0.72M112.4 102.1h0.72M103.4 108.2h0.72M109.7 75.0h0.72M106.0 99.7h0.72M111.4 74.5h0.72M99.7 83.6h0.72M107.1 94.0h0.72M101.5 77.9h0.72M107.0 103.6h0.72M109.9 98.6h0.72M104.1 93.9h0.72M102.4 103.7h0.72M100.9 113.5h0.72M107.0 85.3h0.72M102.5 74.8h0.72M98.2 90.3h0.72M116.8 75.0h0.72M107.9 88.8h0.72M100.8 98.2h0.72M113.8 87.8h0.72M102.1 92.8h0.72M106.4 83.9h0.72M103.2 95.7h0.72M100.5 96.0h0.72M104.4 97.1h0.72M96.8 88.8h0.72M100.0 104.4h0.72M104.0 73.6h0.72M95.1 114.6h0.72M104.5 76.9h0.72M97.2 95.4h0.72M110.8 102.7h0.72M100.4 89.2h0.72M113.7 75.0h0.72M111.6 89.4h0.72M103.1 103.7h0.72M105.3 81.0h0.72M93.6 96.0h0.72M105.5 103.1h0.72M106.1 104.3h0.72M107.1 90.6h0.72M105.0 93.6h0.72M98.8 91.9h0.72M103.2 86.1h0.72M94.0 81.1h0.72M105.4 94.6h0.72M103.1 78.9h0.72M107.5 84.3h0.72M93.8 118.5h0.72M105.6 84.9h0.72M111.1 100.0h0.72M104.0 72.9h0.72M100.3 89.4h0.72M105.2 88.3h0.72M104.5 73.4h0.72M98.8 107.6h0.72M94.0 105.0h0.72M116.0 90.2h0.72M94.4 108.0h0.72M91.7 100.4h0.72M100.1 104.8h0.72M109.4 89.1h0.72M112.9 95.2h0.72M99.7 82.6h0.72M116.8 79.0h0.72M104.9 88.5h0.72M99.7 76.3h0.72M101.7 90.3h0.72M108.2 82.7h0.72M93.4 85.2h0.72M102.3 93.7h0.72M106.7 84.8h0.72M105.6 90.7h0.72M112.3 85.0h0.72M103.3 96.3h0.72M109.6 77.8h0.72M99.7 89.7h0.72M108.8 87.8h0.72M114.3 100.4h0.72M107.8 73.8h0.72M111.4 90.3h0.72M95.5 95.4h0.72M106.9 98.5h0.72M103.5 85.2h0.72M107.0 80.9h0.72M102.1 99.0h0.72M94.1 99.4h0.72M91.1 87.9h0.72M95.3 94.0h0.72M106.7 88.2h0.72M107.8 89.0h0.72M101.3 96.6h0.72M101.1 93.1h0.72M108.6 81.9h0.72M109.2 76.1h0.72M101.2 74.2h0.72M99.4 108.8h0.72M104.6 102.7h0.72M93.9 85.5h0.72M105.2 97.9h0.72M107.4 71.4h0.72M105.5 88.6h0.72M103.2 95.4h0.72M100.9 74.8h0.72M96.3 79.8h0.72M94.8 93.9h0.72M110.1 79.6h0.72M98.0 81.8h0.72M92.4 97.2h0.72M99.7 90.1h0.72M96.9 99.0h0.72M95.5 100.4h0.72M98.6 101.1h0.72M97.3 98.3h0.72M105.1 88.8h0.72M112.0 87.5h0.72M97.3 100.9h0.72M97.7 88.2h0.72M102.6 92.8h0.72M112.5 67.8h0.72M101.0 103.3h0.72M101.6 94.8h0.72M111.4 73.6h0.72M102.8 98.9h0.72M99.1 75.1h0.72M96.7 96.2h0.72M103.6 109.1h0.72M110.3 71.1h0.72M108.6 96.9h0.72M112.0 84.2h0.72M99.2 94.3h0.72M111.5 92.3h0.72M112.4 93.5h0.72M99.1 82.6h0.72M113.3 69.7h0.72M100.5 88.9h0.72M97.2 88.1h0.72M102.5 115.1h0.72M102.1 85.9h0.72M103.2 100.1h0.72M97.7 89.5h0.72M92.3 103.7h0.72M106.5 104.0h0.72M95.5 116.9h0.72M107.6 85.4h0.72M100.2 89.1h0.72M95.4 102.7h0.72M98.9 85.6h0.72M105.5 90.5h0.72M99.1 90.5h0.72M99.6 106.3h0.72M108.4 80.4h0.72M102.3 105.1h0.72M100.8 110.0h0.72M105.1 96.4h0.72M104.5 95.8h0.72M105.3 94.8h0.72M99.5 101.8h0.72M102.9 80.1h0.72M96.5 95.9h0.72M104.5 67.5h0.72M102.4 120.0h0.72M93.5 93.4h0.72M99.0 98.6h0.72M110.7 102.9h0.72M96.6 106.8h0.72M95.4 98.0h0.72M103.5 96.8h0.72M97.8 107.2h0.72M102.1 91.0h0.72M100.9 81.0h0.72M106.7 92.1h0.72M105.2 108.5h0.72M97.4 90.9h0.72M102.5 99.7h0.72M101.5 101.1h0.72M105.2 71.6h0.72M98.5 72.5h0.72M100.8 87.7h0.72M106.0 90.8h0.72M102.1 104.1h0.72M106.0 76.6h0.72M98.5 96.6h0.72M112.5 83.5h0.72M101.5 94.3h0.72M107.1 87.6h0.72M104.2 85.8h0.72M99.3 84.7h0.72M106.4 83.2h0.72M105.7 93.4h0.72M96.8 81.7h0.72M101.5 99.7h0.72M117.3 98.6h0.72M110.5 90.5h0.72M100.2 97.7h0.72M102.6 97.3h0.72M96.5 83.2h0.72M98.7 92.6h0.72M104.5 86.3h0.72M104.5 96.8h0.72M95.7 93.7h0.72M93.4 90.4h0.72M107.8 80.8h0.72M113.4 90.1h0.72M107.7 89.2h0.72M107.6 99.4h0.72M103.1 85.3h0.72M99.3 112.5h0.72M101.4 86.9h0.72M98.4 76.1h0.72M99.6 95.9h0.72M99.7 84.8h0.72M104.9 94.4h0.72M99.9 95.6h0.72M96.8 102.9h0.72M96.7 90.7h0.72M103.3 86.3h0.72M95.8 116.1h0.72M111.4 68.3h0.72M103.2 77.7h0.72M104.3 76.7h0.72M105.9 94.6h0.72M112.5 97.8h0.72M99.8 102.1h0.72M99.8 91.3h0.72M99.6 74.6h0.72M106.0 68.3h0.72M101.1 97.1h0.72M103.2 74.5h0.72M98.7 100.0h0.72M108.9 103.7h0.72M91.9 101.5h0.72M99.7 100.4h0.72M92.6 95.0h0.72M106.6 82.1h0.72M100.4 82.2h0.72M109.0 73.8h0.72M97.1 90.6h0.72M100.6 113.6h0.72M104.1 81.6h0.72M105.9 92.6h0.72M104.2 89.4h0.72M105.2 77.5h0.72M95.5 90.5h0.72M96.0 101.7h0.72M113.9 97.4h0.72M105.1 93.0h0.72M98.5 79.9h0.72M105.7 74.1h0.72M104.3 88.6h0.72M106.9 89.1h0.72M103.1 84.7h0.72M92.4 93.0h0.72M106.6 99.4h0.72M110.6 76.4h0.72M97.0 101.2h0.72M99.8 118.7h0.72M104.3 74.5h0.72M99.2 108.8h0.72M91.8 98.4h0.72M94.4 111.8h0.72M99.9 81.9h0.72M92.5 89.2h0.72M115.3 85.0h0.72M100.9 80.0h0.72M104.5 85.1h0.72M97.5 107.9h0.72M105.1 80.5h0.72M111.2 85.7h0.72M105.5 90.9h0.72M109.4 93.5h0.72M100.5 99.5h0.72M100.2 93.6h0.72M112.1 74.9h0.72M96.4 90.2h0.72M99.6 105.9h0.72M93.2 119.6h0.72M111.8 81.3h0.72M103.6 86.7h0.72M106.4 95.6h0.72M106.9 96.4h0.72M113.8 83.0h0.72M106.6 86.8h0.72M102.7 93.1h0.72M102.2 94.7h0.72M97.5 92.2h0.72M99.0 81.0h0.72M98.4 88.2h0.72M101.6 75.5h0.72M101.0 80.3h0.72M97.7 95.6h0.72M109.0 90.3h0.72M99.6 88.1h0.72M110.4 70.1h0.72M109.2 72.0h0.72M98.8 93.5h0.72M101.2 108.7h0.72M105.4 88.9h0.72M108.1 88.3h0.72M97.8 105.1h0.72M111.3 99.3h0.72M95.6 114.3h0.72M100.1 100.2h0.72M109.5 111.5h0.72M93.0 85.8h0.72M109.4 92.3h0.72M100.7 62.0h0.72M105.1 87.7h0.72M102.5 93.4h0.72M106.9 85.8h0.72M97.2 90.2h0.72M114.1 77.6h0.72M102.0 110.7h0.72M108.7 88.9h0.72M106.8 85.9h0.72M97.2 104.2h0.72M103.3 107.0h0.72M101.0 88.0h0.72M104.5 87.9h0.72M100.7 82.8h0.72M104.0 93.5h0.72M113.3 84.8h0.72M92.2 101.5h0.72M116.0 79.1h0.72M97.8 91.9h0.72M101.4 76.1h0.72M105.9 80.2h0.72M91.6 89.6h0.72M106.2 108.7h0.72M109.9 89.0h0.72M99.5 90.0h0.72M108.2 82.6h0.72M105.0 99.6h0.72M97.2 87.9h0.72M105.1 89.6h0.72M101.8 86.0h0.72M102.1 110.2h0.72M110.5 70.0h0.72M102.8 91.8h0.72M102.7 76.7h0.72M101.7 92.9h0.72M98.5 96.4h0.72M103.1 94.7h0.72M101.5 86.8h0.72M103.6 101.5h0.72M107.8 87.3h0.72M99.8 103.4h0.72M105.7 98.3h0.72M100.9 83.1h0.72M103.6 84.0h0.72M109.3 96.1h0.72M110.3 97.3h0.72M99.7 83.7h0.72M108.2 98.3h0.72M102.9 79.0h0.72M93.5 98.7h0.72M97.6 86.7h0.72M105.1 100.3h0.72M110.2 86.4h0.72M100.5 98.7h0.72M95.8 82.1h0.72M102.6 107.0h0.72M108.5 87.7h0.72M108.5 83.5h0.72M95.6 77.6h0.72M104.1 99.4h0.72M104.7 89.4h0.72M100.1 103.5h0.72M102.2 76.3h0.72M110.6 79.9h0.72M104.8 89.8h0.72M108.7 90.1h0.72M109.7 89.2h0.72M99.8 87.3h0.72M106.3 80.4h0.72M108.0 85.5h0.72M97.0 85.0h0.72M101.6 109.7h0.72M107.0 88.7h0.72M97.2 113.5h0.72M100.9 91.9h0.72M100.0 106.1h0.72M103.5 85.7h0.72M103.6 80.1h0.72M96.3 92.8h0.72M114.2 73.1h0.72M101.7 75.2h0.72M103.5 92.6h0.72M106.9 74.9h0.72M99.0 86.3h0.72M101.1 115.3h0.72M101.3 91.2h0.72M99.5 100.8h0.72M117.6 94.6h0.72M111.5 75.0h0.72M108.7 87.9h0.72M109.9 97.8h0.72M106.4 71.6h0.72M103.3 85.4h0.72M105.1 89.9h0.72M108.7 71.1h0.72M98.1 92.6h0.72M104.4 85.8h0.72M102.3 91.7h0.72M108.7 86.4h0.72M103.9 71.5h0.72M104.6 66.1h0.72M104.9 88.7h0.72M102.5 83.5h0.72M100.0 100.9h0.72M104.6 89.6h0.72M99.6 94.8h0.72M109.5 86.9h0.72M100.3 80.1h0.72M103.1 81.2h0.72M94.0 104.6h0.72M98.8 72.0h0.72M98.3 112.3h0.72M101.9 77.7h0.72M96.0 102.0h0.72M104.9 91.9h0.72M101.3 96.6h0.72M111.6 91.0h0.72M101.5 77.1h0.72M105.1 105.7h0.72M106.3 75.9h0.72M103.6 103.8h0.72M98.8 98.2h0.72M109.6 103.9h0.72M93.1 78.2h0.72M104.7 97.0h0.72M100.4 91.9h0.72M100.1 104.7h0.72M94.9 88.2h0.72M93.4 86.6h0.72M102.4 91.4h0.72M113.1 82.9h0.72M104.5 93.5h0.72M104.0 105.3h0.72M103.3 92.1h0.72M101.8 91.4h0.72M102.2 101.5h0.72M102.6 91.6h0.72M102.2 99.0h0.72M99.7 102.2h0.72M99.1 100.0h0.72M113.9 87.2h0.72M102.0 79.1h0.72M106.9 88.7h0.72M107.9 81.3h0.72M105.6 108.0h0.72M104.9 86.3h0.72M94.8 95.1h0.72M106.4 95.0h0.72M95.9 84.0h0.72M96.7 83.6h0.72M100.9 94.6h0.72M113.9 86.8h0.72M111.1 69.2h0.72M111.6 94.2h0.72M105.1 98.1h0.72M106.2 108.8h0.72M107.3 70.4h0.72M92.2 113.4h0.72M102.0 105.0h0.72M100.5 85.3h0.72M100.5 95.4h0.72M103.6 84.0h0.72M105.7 95.6h0.72M97.1 82.5h0.72M102.6 83.8h0.72M98.9 91.6h0.72M102.7 96.8h0.72M107.4 92.8h0.72M109.1 77.3h0.72M106.1 92.9h0.72M96.3 87.4h0.72M105.1 90.3h0.72M95.1 89.4h0.72M111.5 94.8h0.72M103.0 104.7h0.72M97.1 92.2h0.72M108.2 84.4h0.72M95.9 100.7h0.72M103.4 77.5h0.72M100.7 77.3h0.72M117.9 75.5h0.72M102.8 83.5h0.72M96.6 89.5h0.72M103.7 108.5h0.72M104.2 106.3h0.72M96.2 95.2h0.72M99.9 76.2h0.72M103.9 82.4h0.72M99.1 82.2h0.72M108.6 83.5h0.72M101.6 93.3h0.72M95.2 97.4h0.72M101.5 96.2h0.72M100.2 92.7h0.72M105.6 99.3h0.72M98.4 103.3h0.72M96.7 92.3h0.72M103.3 92.1h0.72M101.4 101.2h0.72M98.3 109.0h0.72M91.8 97.7h0.72M105.7 89.4h0.72M104.1 99.8h0.72M97.7 99.7h0.72M108.8 85.1h0.72M97.4 82.8h0.72M105.1 81.2h0.72M117.2 88.8h0.72M94.8 92.3h0.72M111.6 93.1h0.72M96.5 105.1h0.72M99.7 115.5h0.72M99.2 99.0h0.72M105.8 84.6h0.72M101.6 103.5h0.72M105.5 88.8h0.72M105.1 107.7h0.72M108.0 92.9h0.72M104.5 73.7h0.72M103.3 85.5h0.72M106.8 82.3h0.72M105.2 78.6h0.72M107.8 80.5h0.72M102.3 97.1h0.72M100.6 92.1h0.72M108.8 105.9h0.72M91.8 87.5h0.72M106.5 98.5h0.72M99.7 93.5h0.72M101.4 115.2h0.72M101.3 79.3h0.72M93.3 82.8h0.72M110.2 82.7h0.72M114.1 91.3h0.72M104.8 96.4h0.72M107.2 98.0h0.72M96.7 88.4h0.72M99.3 93.9h0.72M101.0 79.0h0.72M98.4 111.8h0.72M115.1 75.2h0.72M104.8 89.4h0.72M97.5 101.2h0.72M102.1 108.5h0.72M105.2 86.3h0.72M107.5 80.8h0.72M107.7 95.2h0.72M92.0 94.7h0.72M104.4 97.8h0.72M103.4 90.3h0.72M104.6 76.7h0.72M106.5 72.1h0.72M110.0 74.6h0.72M109.3 73.9h0.72M108.7 77.4h0.72M111.3 78.2h0.72M111.6 74.9h0.72M106.2 76.3h0.72M99.7 79.2h0.72M112.4 79.3h0.72M101.9 80.6h0.72M110.6 69.2h0.72M108.4 78.5h0.72M110.6 77.4h0.72M97.0 70.6h0.72M117.3 71.7h0.72M113.4 81.5h0.72M107.0 71.5h0.72M113.9 74.7h0.72M109.3 78.9h0.72M111.7 80.8h0.72M98.8 73.0h0.72M107.3 77.3h0.72M110.7 75.3h0.72M105.5 88.1h0.72M114.0 80.8h0.72M112.1 71.5h0.72M106.0 77.3h0.72M100.6 75.2h0.72M107.4 71.0h0.72M109.4 78.9h0.72M105.2 76.2h0.72M109.8 78.8h0.72M108.5 70.6h0.72M97.7 91.0h0.72M103.0 76.9h0.72M96.6 76.9h0.72M102.5 82.9h0.72M92.1 75.4h0.72M104.3 75.8h0.72M102.3 76.7h0.72M97.9 81.9h0.72M113.0 76.0h0.72M103.6 84.9h0.72M109.2 71.4h0.72M103.4 75.5h0.72M106.3 83.7h0.72M102.7 78.1h0.72M107.1 71.3h0.72M103.9 81.5h0.72M112.7 65.9h0.72M110.3 74.7h0.72M113.5 78.2h0.72M117.2 75.3h0.72M104.4 74.0h0.72M98.7 83.0h0.72M109.3 80.7h0.72M108.4 69.3h0.72M104.3 77.0h0.72M107.4 81.1h0.72M114.2 76.2h0.72M95.3 76.3h0.72M94.9 77.7h0.72M100.0 81.0h0.72M105.3 83.6h0.72M112.4 73.1h0.72M111.6 75.8h0.72M109.0 83.5h0.72M100.3 79.3h0.72M114.9 70.7h0.72M107.7 77.8h0.72M104.2 71.7h0.72M102.8 73.8h0.72M112.4 76.7h0.72M110.3 70.2h0.72M109.2 77.3h0.72M112.2 71.9h0.72M110.9 82.9h0.72M116.3 69.4h0.72M100.4 72.2h0.72M111.7 78.7h0.72M108.4 72.5h0.72M113.3 83.2h0.72M106.3 77.0h0.72M113.0 77.8h0.72M113.8 72.9h0.72M108.3 75.1h0.72M103.4 77.1h0.72M105.0 80.6h0.72M104.9 78.4h0.72M102.1 72.9h0.72M114.3 69.8h0.72M116.4 78.8h0.72M94.1 78.6h0.72M104.2 78.4h0.72M105.5 74.8h0.72M113.3 74.5h0.72M111.7 72.2h0.72M102.8 85.5h0.72M105.0 72.5h0.72M105.6 83.1h0.72M105.6 74.2h0.72M110.0 81.2h0.72M105.4 76.3h0.72M104.5 91.8h0.72M105.5 86.7h0.72M105.7 79.8h0.72M95.4 82.3h0.72M106.8 75.8h0.72M104.3 71.4h0.72M98.4 81.2h0.72M103.0 78.3h0.72M105.5 75.3h0.72M102.6 88.2h0.72M100.5 77.0h0.72M104.9 72.2h0.72M101.3 83.7h0.72M111.6 76.4h0.72M124.1 75.5h0.72M113.2 71.0h0.72M112.4 83.9h0.72M104.5 87.3h0.72M102.1 73.3h0.72M106.3 73.5h0.72M110.0 70.7h0.72M107.0 67.5h0.72M106.3 82.9h0.72M105.1 79.6h0.72M112.4 69.9h0.72M99.6 80.3h0.72M108.0 75.6h0.72M101.2 85.5h0.72M100.2 78.4h0.72M106.3 81.2h0.72M104.1 74.2h0.72M117.4 69.4h0.72M110.8 75.2h0.72M103.9 78.2h0.72M105.1 79.5h0.72M92.7 82.2h0.72M106.9 72.5h0.72M104.4 90.0h0.72M116.5 77.2h0.72M107.8 75.5h0.72M114.1 72.6h0.72M102.1 82.5h0.72M101.3 75.4h0.72M114.4 66.7h0.72M106.2 78.2h0.72M107.9 69.7h0.72M105.3 76.3h0.72M117.0 78.9h0.72M102.4 83.3h0.72M110.1 75.7h0.72M105.2 76.6h0.72M98.1 77.3h0.72M111.6 83.0h0.72M116.6 72.1h0.72M109.9 64.2h0.72M105.1 71.7h0.72M111.0 67.6h0.72M100.9 73.9h0.72M108.7 81.0h0.72M101.5 88.3h0.72M107.4 73.0h0.72M108.4 76.8h0.72M111.0 77.6h0.72M118.4 79.2h0.72M103.1 82.7h0.72M110.7 71.0h0.72M102.5 74.9h0.72M93.1 85.4h0.72M105.4 84.1h0.72M103.5 78.9h0.72M110.5 81.0h0.72M108.3 71.7h0.72M118.5 77.7h0.72M113.9 83.0h0.72M114.1 76.9h0.72M109.1 79.8h0.72M98.4 84.4h0.72M101.2 81.5h0.72M101.0 83.0h0.72M103.9 90.9h0.72M107.6 79.7h0.72M101.6 77.8h0.72M106.2 76.2h0.72M104.2 73.9h0.72M110.7 74.1h0.72M102.1 80.9h0.72M102.1 78.2h0.72M103.8 73.8h0.72M105.3 73.8h0.72M99.7 81.6h0.72M104.9 70.7h0.72M104.4 79.2h0.72M108.9 78.6h0.72M107.9 80.0h0.72M103.9 74.4h0.72M109.9 74.3h0.72M106.6 80.7h0.72M111.6 81.9h0.72M102.8 76.9h0.72M109.6 69.2h0.72M99.7 82.9h0.72M103.2 74.0h0.72M110.9 78.6h0.72M111.5 74.1h0.72M105.0 76.3h0.72M108.2 66.7h0.72M102.8 82.4h0.72M102.3 78.6h0.72M107.2 79.9h0.72M104.0 72.7h0.72M120.1 69.2h0.72M115.8 65.4h0.72M107.1 76.3h0.72M116.8 84.1h0.72M111.8 70.6h0.72M102.2 75.2h0.72M103.8 79.8h0.72M102.3 77.7h0.72M114.5 81.9h0.72M96.5 76.2h0.72M104.5 84.7h0.72M104.8 87.7h0.72M108.5 84.0h0.72M101.9 77.6h0.72M112.1 78.4h0.72M96.5 79.6h0.72M107.5 80.3h0.72M103.1 87.4h0.72M107.4 84.5h0.72M108.7 77.1h0.72M104.8 72.3h0.72M111.2 79.6h0.72M111.6 73.8h0.72M101.1 77.5h0.72M104.9 78.0h0.72M111.9 71.1h0.72M103.9 81.9h0.72M111.4 86.8h0.72M109.4 72.3h0.72M100.9 75.5h0.72M106.9 78.6h0.72M106.2 74.5h0.72M105.6 77.4h0.72M109.8 76.8h0.72M102.2 73.2h0.72M114.6 74.3h0.72M105.6 77.7h0.72M112.7 73.8h0.72M107.5 76.0h0.72M109.7 71.3h0.72M107.7 82.2h0.72M113.0 78.3h0.72M108.2 84.8h0.72M110.4 83.1h0.72M100.1 74.3h0.72M110.9 74.6h0.72M104.2 73.6h0.72M114.6 68.7h0.72M107.1 70.3h0.72M105.6 89.0h0.72M119.7 70.4h0.72M101.1 87.5h0.72M102.0 70.2h0.72M108.4 71.4h0.72M98.7 85.8h0.72M102.6 73.6h0.72M107.5 76.2h0.72M112.6 75.8h0.72M115.2 80.2h0.72M116.2 79.7h0.72M107.0 80.1h0.72M106.7 69.7h0.72M100.2 83.4h0.72M93.8 77.8h0.72M99.7 79.6h0.72M101.0 80.7h0.72M105.5 75.5h0.72M102.0 68.0h0.72M107.0 70.9h0.72M105.0 79.9h0.72M112.2 79.0h0.72M114.5 67.6h0.72M110.2 84.0h0.72M108.7 71.2h0.72M108.7 74.1h0.72M103.1 84.0h0.72M105.6 72.2h0.72M102.9 88.5h0.72M102.0 82.4h0.72M107.5 83.0h0.72M105.1 73.3h0.72M103.1 73.6h0.72M120.5 73.6h0.72M104.9 84.4h0.72M110.1 75.3h0.72M109.9 77.7h0.72M112.6 83.6h0.72M104.9 77.9h0.72M105.6 83.9h0.72M108.7 80.7h0.72M111.4 72.6h0.72M107.3 84.1h0.72M111.6 79.8h0.72M105.1 76.2h0.72M102.0 77.7h0.72M106.2 70.5h0.72M112.8 71.5h0.72M107.9 80.0h0.72M103.6 69.5h0.72M111.8 77.7h0.72M105.2 83.6h0.72M111.4 71.0h0.72M106.2 68.9h0.72M105.2 85.0h0.72M102.1 83.2h0.72M98.5 78.8h0.72M111.7 84.3h0.72M109.0 80.4h0.72M115.8 62.1h0.72M97.4 90.1h0.72M119.8 75.8h0.72M106.9 78.7h0.72M106.7 74.4h0.72M106.5 76.9h0.72M110.2 79.6h0.72M111.9 78.6h0.72M101.4 86.2h0.72M92.3 83.1h0.72M108.4 74.2h0.72M116.6 68.5h0.72M100.3 77.2h0.72M108.8 80.7h0.72M107.2 80.6h0.72M102.8 75.8h0.72M107.3 70.5h0.72M107.6 75.2h0.72M110.3 71.2h0.72M103.8 75.7h0.72M104.6 73.2h0.72M105.2 71.2h0.72M109.5 79.8h0.72M106.5 76.6h0.72M101.8 74.4h0.72M105.4 73.4h0.72M100.3 80.5h0.72M106.5 75.5h0.72M102.2 78.7h0.72M102.9 76.6h0.72M107.6 80.7h0.72M110.6 73.0h0.72M113.0 69.5h0.72M105.7 84.3h0.72M119.3 73.7h0.72M104.7 76.3h0.72M100.1 79.0h0.72M104.3 74.5h0.72M113.0 71.4h0.72M115.6 78.5h0.72M110.0 73.4h0.72M103.9 68.5h0.72M108.0 75.6h0.72M108.7 73.4h0.72M109.2 69.1h0.72M94.9 83.9h0.72M112.3 59.8h0.72M113.4 73.3h0.72M105.7 70.1h0.72M101.3 82.9h0.72M102.7 78.7h0.72M105.8 87.7h0.72M111.3 69.3h0.72M104.0 72.7h0.72M99.2 76.7h0.72M112.4 75.7h0.72M110.2 75.6h0.72M104.3 78.7h0.72M106.2 87.2h0.72M116.1 76.0h0.72M109.8 66.4h0.72M105.9 89.6h0.72M102.3 83.0h0.72M113.1 73.2h0.72M105.4 75.6h0.72M110.8 76.1h0.72M114.6 80.6h0.72M106.5 90.4h0.72M104.9 75.0h0.72M105.3 73.5h0.72M104.3 77.9h0.72M111.3 68.0h0.72M99.1 76.2h0.72M105.0 80.3h0.72M102.4 86.5h0.72M103.8 77.4h0.72M106.9 83.2h0.72M108.2 77.1h0.72M103.7 79.3h0.72M108.7 75.0h0.72M106.5 68.3h0.72M103.8 84.4h0.72M114.1 74.5h0.72M95.1 90.6h0.72M105.7 90.6h0.72M104.4 83.3h0.72M103.3 85.5h0.72M112.7 70.0h0.72M113.4 89.4h0.72M105.4 71.9h0.72M108.0 75.0h0.72M98.6 75.0h0.72M107.9 69.4h0.72M112.3 77.7h0.72M105.6 84.8h0.72M101.7 82.6h0.72M99.4 78.4h0.72M110.0 73.6h0.72M106.0 80.9h0.72M114.6 81.2h0.72M109.0 75.3h0.72M98.9 88.7h0.72M116.5 63.2h0.72M111.2 75.7h0.72M110.3 77.8h0.72M105.5 77.8h0.72M106.4 83.4h0.72M105.2 75.2h0.72M110.0 79.5h0.72M108.9 78.1h0.72M114.4 80.3h0.72M107.7 76.0h0.72M110.1 66.9h0.72M103.8 74.9h0.72M107.5 75.2h0.72M119.6 76.6h0.72M108.7 88.0h0.72M106.5 75.9h0.72M113.1 79.4h0.72M111.5 81.8h0.72M104.6 74.9h0.72M102.7 79.3h0.72M111.9 70.4h0.72M103.7 71.8h0.72M117.1 77.8h0.72M107.7 71.0h0.72M101.1 76.2h0.72M106.7 71.1h0.72M105.4 84.0h0.72M106.6 78.0h0.72M95.5 80.0h0.72M105.8 74.3h0.72M99.2 79.7h0.72M101.1 76.6h0.72M98.1 80.0h0.72M111.4 71.6h0.72M108.3 69.3h0.72M109.6 79.1h0.72M104.5 82.6h0.72M101.9 79.3h0.72M115.5 74.3h0.72M100.6 85.3h0.72M109.4 75.1h0.72M96.9 71.4h0.72M98.5 87.7h0.72M108.1 72.7h0.72M112.6 82.7h0.72M102.1 81.5h0.72M97.9 82.4h0.72M116.1 67.0h0.72M106.9 74.2h0.72M106.1 78.1h0.72M108.0 81.4h0.72M109.3 81.8h0.72M111.9 81.1h0.72M103.0 80.8h0.72M104.6 73.9h0.72M116.9 75.3h0.72M106.8 66.8h0.72M105.3 81.8h0.72M105.5 75.1h0.72M114.3 73.2h0.72M104.8 77.6h0.72M105.3 83.2h0.72M109.6 76.1h0.72M104.6 77.0h0.72M115.5 72.8h0.72M110.0 68.4h0.72M108.2 80.3h0.72M113.3 76.7h0.72M109.6 78.0h0.72M112.2 85.8h0.72M107.6 73.0h0.72M109.7 75.8h0.72M109.9 80.2h0.72M107.4 75.0h0.72M108.2 70.7h0.72M108.0 72.5h0.72M108.9 77.3h0.72M105.4 71.8h0.72M106.8 74.0h0.72M105.8 81.2h0.72M111.6 69.3h0.72M111.5 82.6h0.72M112.5 76.8h0.72M106.1 86.4h0.72M104.9 70.4h0.72M107.0 78.8h0.72M101.1 73.3h0.72M117.0 74.4h0.72M110.7 73.1h0.72M98.6 79.4h0.72M113.6 71.7h0.72M97.1 79.9h0.72M105.1 78.1h0.72M101.1 77.8h0.72M103.7 82.9h0.72M107.4 81.6h0.72M106.3 66.8h0.72M96.3 83.8h0.72M111.2 80.3h0.72M106.2 68.6h0.72M104.0 80.4h0.72M113.8 73.2h0.72M103.6 74.6h0.72M111.9 80.0h0.72M97.0 86.9h0.72M101.7 71.8h0.72M98.2 76.8h0.72M118.8 86.1h0.72M100.0 76.4h0.72M107.4 79.3h0.72M104.0 70.4h0.72M104.4 74.8h0.72M97.1 81.5h0.72M98.8 71.4h0.72M114.5 79.4h0.72M114.2 75.4h0.72M104.4 77.8h0.72M99.4 83.7h0.72M108.0 75.5h0.72M96.7 80.4h0.72M115.1 81.8h0.72M111.2 74.1h0.72M107.3 80.0h0.72M107.6 82.4h0.72M103.1 67.0h0.72M93.8 77.4h0.72M99.3 83.4h0.72M112.2 75.5h0.72M109.4 76.9h0.72M107.5 74.8h0.72M104.4 84.2h0.72M105.1 77.8h0.72M112.9 80.2h0.72M104.5 79.5h0.72M101.2 80.0h0.72M108.2 76.9h0.72M107.4 79.0h0.72M93.2 78.0h0.72M107.0 74.9h0.72M101.5 78.1h0.72M115.0 73.4h0.72M103.1 76.3h0.72M100.3 82.1h0.72M101.4 83.9h0.72M111.4 78.7h0.72M112.0 75.1h0.72M97.3 80.4h0.72M109.9 68.5h0.72M100.1 85.2h0.72M108.9 83.5h0.72M110.1 76.6h0.72M108.8 81.0h0.72M106.4 76.5h0.72M108.2 75.3h0.72M119.3 69.2h0.72M98.6 73.8h0.72M112.1 73.5h0.72M107.4 76.1h0.72M108.0 69.7h0.72M107.0 74.4h0.72M112.3 78.6h0.72M99.9 74.9h0.72M109.6 82.4h0.72M110.6 75.3h0.72M112.4 63.5h0.72M103.7 73.6h0.72M101.1 82.2h0.72M108.0 78.4h0.72M105.9 80.8h0.72M110.7 73.1h0.72M111.5 71.1h0.72M115.9 67.6h0.72M105.1 72.6h0.72M106.8 84.0h0.72M102.6 87.8h0.72M114.0 76.8h0.72M103.5 83.1h0.72M91.4 78.9h0.72M111.7 75.5h0.72M119.7 69.5h0.72M99.5 78.9h0.72M109.6 85.0h0.72M97.2 81.5h0.72M113.3 71.7h0.72M104.2 72.2h0.72M110.6 80.2h0.72M109.7 77.6h0.72M111.8 75.0h0.72M110.4 80.3h0.72M113.5 77.6h0.72M107.0 80.9h0.72M98.3 71.5h0.72M115.2 75.2h0.72M101.0 76.5h0.72M105.8 78.1h0.72M102.5 83.9h0.72M97.5 94.8h0.72M100.8 87.9h0.72M110.1 67.7h0.72M100.0 80.1h0.72M108.0 74.8h0.72M106.6 78.3h0.72M100.5 79.9h0.72M118.7 70.0h0.72M101.2 82.7h0.72M113.8 80.2h0.72M103.2 78.3h0.72M107.7 76.0h0.72M108.7 82.2h0.72M109.5 76.4h0.72M105.5 86.9h0.72M100.0 89.9h0.72M110.5 76.5h0.72M102.6 88.2h0.72M113.1 79.8h0.72M117.8 64.5h0.72M107.1 75.7h0.72M102.7 79.2h0.72M109.5 79.1h0.72M105.8 71.0h0.72M109.6 79.5h0.72M118.0 78.2h0.72M106.7 71.6h0.72M121.3 68.9h0.72M107.6 80.9h0.72M109.3 83.3h0.72M101.0 75.9h0.72M107.5 70.9h0.72M103.3 85.7h0.72M108.2 76.4h0.72M103.5 78.8h0.72M106.4 72.1h0.72M110.8 69.5h0.72M113.5 73.3h0.72M94.2 73.9h0.72M108.1 72.5h0.72M116.4 81.1h0.72M118.0 78.0h0.72M113.9 71.8h0.72M113.6 72.8h0.72M106.3 70.6h0.72M106.9 79.4h0.72M106.2 72.0h0.72M111.5 80.4h0.72M106.1 81.6h0.72M111.9 70.6h0.72M106.4 68.0h0.72M100.9 81.6h0.72M101.8 81.2h0.72M108.5 66.3h0.72M103.9 86.2h0.72M106.6 78.1h0.72M102.7 70.6h0.72M97.9 95.2h0.72M105.6 73.4h0.72M107.2 67.4h0.72M114.2 83.6h0.72M102.5 80.6h0.72M101.6 83.6h0.72M102.0 78.4h0.72M113.7 77.7h0.72M104.8 70.3h0.72M97.9 86.7h0.72M109.4 76.8h0.72M113.4 75.8h0.72M102.6 78.3h0.72M106.0 77.6h0.72M120.2 75.7h0.72M108.1 75.7h0.72M102.8 73.7h0.72M96.3 78.7h0.72M98.2 70.9h0.72M101.4 68.9h0.72M114.1 81.2h0.72M101.3 89.8h0.72M110.2 63.2h0.72M106.7 72.3h0.72M97.0 79.5h0.72M112.9 77.5h0.72M98.5 76.9h0.72M102.4 84.8h0.72M106.0 72.6h0.72M101.5 69.1h0.72M101.9 83.7h0.72M96.0 82.1h0.72M105.9 81.9h0.72M100.3 84.4h0.72M115.1 86.3h0.72M97.6 80.5h0.72M105.4 78.5h0.72M101.1 83.8h0.72M119.5 80.7h0.72M101.3 76.4h0.72M110.6 76.8h0.72M102.3 85.3h0.72M109.4 81.8h0.72M105.6 84.4h0.72M104.0 72.6h0.72M106.5 70.3h0.72M113.5 78.8h0.72M97.3 81.6h0.72M111.2 74.0h0.72M108.8 73.7h0.72M106.2 77.2h0.72M109.2 71.6h0.72M100.3 81.4h0.72M103.7 81.1h0.72M103.8 71.7h0.72M110.6 77.4h0.72M110.6 74.3h0.72M104.6 84.7h0.72M97.2 89.7h0.72M109.4 76.2h0.72M107.0 80.4h0.72M102.3 80.4h0.72M101.3 69.8h0.72M107.6 77.6h0.72M110.1 79.1h0.72M110.4 80.2h0.72M100.7 85.8h0.72M121.3 69.4h0.72M99.6 83.5h0.72M111.6 80.9h0.72M115.0 67.4h0.72M108.6 79.2h0.72M113.4 70.5h0.72M70.5 50.9h0.72M67.3 51.6h0.72M67.5 46.7h0.72M69.4 52.2h0.72M58.2 50.0h0.72M55.2 56.8h0.72M85.9 51.4h0.72M53.5 53.4h0.72M59.8 56.5h0.72M89.0 51.6h0.72M80.5 49.6h0.72M43.0 54.5h0.72M61.1 46.6h0.72M53.5 51.4h0.72M90.8 52.2h0.72M69.7 52.1h0.72M84.6 51.9h0.72M72.8 51.8h0.72M51.1 56.0h0.72M58.2 48.0h0.72M62.6 52.1h0.72M84.1 47.6h0.72M48.4 52.5h0.72M76.6 48.7h0.72M50.7 52.5h0.72M67.6 47.1h0.72M55.1 56.5h0.72M51.9 55.2h0.72M43.9 56.5h0.72M58.4 53.9h0.72M48.8 53.7h0.72M90.9 52.8h0.72M75.6 51.5h0.72M87.2 49.5h0.72M64.5 47.1h0.72M62.5 52.7h0.72M91.3 47.1h0.72M67.9 49.9h0.72M49.6 52.0h0.72M57.1 54.6h0.72M78.9 51.0h0.72M72.2 49.1h0.72M52.1 49.8h0.72M69.1 49.5h0.72M62.9 49.4h0.72M74.0 48.6h0.72M69.7 52.3h0.72M86.4 49.8h0.72M50.5 47.5h0.72M83.0 50.1h0.72M86.9 51.8h0.72M65.3 46.4h0.72M58.5 54.4h0.72M59.6 54.0h0.72M75.5 48.3h0.72M61.0 50.0h0.72M73.2 45.9h0.72M55.3 54.4h0.72M72.5 54.2h0.72M84.6 48.6h0.72M47.0 53.4h0.72M70.6 52.2h0.72M56.1 55.1h0.72M78.5 55.4h0.72M64.0 54.1h0.72M69.0 49.2h0.72M68.6 47.0h0.72M66.9 52.5h0.72M81.9 48.8h0.72M47.3 49.8h0.72M57.1 50.0h0.72M68.1 51.8h0.72M57.5 49.8h0.72M92.2 56.3h0.72M65.2 54.1h0.72M77.9 52.3h0.72M67.7 55.7h0.72M79.7 51.3h0.72M66.0 54.8h0.72M59.9 49.8h0.72M65.3 50.5h0.72M91.5 53.1h0.72M68.5 50.4h0.72M94.1 53.3h0.72M66.3 50.3h0.72M65.1 52.5h0.72M83.5 53.5h0.72M96.8 47.4h0.72M70.5 47.7h0.72M52.4 50.2h0.72M58.9 49.1h0.72M44.1 55.4h0.72M64.5 54.9h0.72M51.2 45.0h0.72M59.9 54.6h0.72M60.5 53.2h0.72M51.6 56.2h0.72M77.4 55.2h0.72M65.3 55.9h0.72M71.2 50.5h0.72M59.1 52.2h0.72M54.5 48.4h0.72M72.2 54.1h0.72M65.0 54.5h0.72M74.4 49.1h0.72M59.0 52.5h0.72M84.3 53.6h0.72M81.0 57.5h0.72M63.8 55.3h0.72M94.7 53.5h0.72M65.0 47.1h0.72M69.0 54.3h0.72M65.6 51.5h0.72M95.0 50.1h0.72M53.9 52.1h0.72M89.1 53.8h0.72M71.2 50.5h0.72M91.0 54.7h0.72M80.4 50.1h0.72M48.0 51.1h0.72M61.3 46.7h0.72M69.6 55.6h0.72M48.3 50.9h0.72M60.5 52.6h0.72M83.3 49.0h0.72M68.3 47.1h0.72M43.0 47.4h0.72M84.4 52.9h0.72M82.5 55.7h0.72M70.8 52.7h0.72M76.9 53.4h0.72M51.9 51.2h0.72M67.4 52.1h0.72M57.2 51.6h0.72M74.9 52.6h0.72M80.0 54.5h0.72M79.5 54.9h0.72M84.3 56.2h0.72M80.7 50.1h0.72M91.3 54.2h0.72M70.8 48.6h0.72M77.4 50.9h0.72M63.2 45.6h0.72M96.4 48.5h0.72M51.2 53.4h0.72M79.7 49.6h0.72M69.9 52.8h0.72M72.7 53.6h0.72M83.2 50.9h0.72M42.4 58.5h0.72M63.4 49.0h0.72M82.8 53.8h0.72M59.5 59.1h0.72M69.3 52.9h0.72M75.4 51.3h0.72M75.4 48.1h0.72M63.2 57.6h0.72M85.0 50.8h0.72M60.1 47.5h0.72M67.9 51.5h0.72M59.1 47.3h0.72M72.6 53.3h0.72M89.4 53.5h0.72M95.9 55.6h0.72M68.2 48.8h0.72M77.4 54.9h0.72M43.6 48.3h0.72M81.7 50.3h0.72M94.9 52.6h0.72M60.6 48.0h0.72M80.2 46.8h0.72M47.8 48.0h0.72M66.2 50.8h0.72M81.9 55.7h0.72M56.2 58.6h0.72M66.5 55.4h0.72M58.1 58.0h0.72M66.3 48.2h0.72M69.9 48.2h0.72M81.5 52.6h0.72M65.0 50.8h0.72M60.2 49.8h0.72M46.0 55.6h0.72M85.2 47.8h0.72M50.1 53.2h0.72M64.6 51.2h0.72M74.2 51.5h0.72M88.5 55.0h0.72M79.4 56.7h0.72M66.0 50.3h0.72M43.4 44.9h0.72M76.1 48.8h0.72M88.1 45.7h0.72M67.6 50.8h0.72M51.5 55.4h0.72M63.2 53.4h0.72M61.0 52.4h0.72M62.3 52.2h0.72M68.3 49.9h0.72M77.4 51.4h0.72M53.4 48.8h0.72M77.5 56.0h0.72M47.6 50.7h0.72M77.7 55.1h0.72M82.1 48.4h0.72M70.6 54.7h0.72M74.1 51.3h0.72M49.8 52.5h0.72M68.9 52.1h0.72M95.6 55.6h0.72M56.4 52.7h0.72M64.7 52.3h0.72M70.7 50.0h0.72M67.2 53.1h0.72M61.5 55.3h0.72M70.3 48.4h0.72M65.4 51.6h0.72M86.9 55.4h0.72M94.9 56.7h0.72M75.4 52.3h0.72M87.4 51.9h0.72M48.5 50.6h0.72M81.3 53.8h0.72M51.1 55.6h0.72M75.3 47.5h0.72M78.0 55.0h0.72M79.1 51.1h0.72M56.3 55.4h0.72M73.8 52.0h0.72M63.2 48.9h0.72M88.9 54.3h0.72M58.4 56.6h0.72M66.1 49.0h0.72M86.7 56.2h0.72M63.3 48.3h0.72M68.9 44.7h0.72M70.9 56.6h0.72M74.7 49.8h0.72M82.1 50.5h0.72M91.6 50.9h0.72M73.3 49.2h0.72M48.2 53.0h0.72M76.0 49.1h0.72M79.6 50.8h0.72M60.6 51.8h0.72M76.7 54.2h0.72M91.1 53.1h0.72M57.6 49.9h0.72M76.3 48.4h0.72M67.1 50.8h0.72M68.3 52.5h0.72M87.8 56.9h0.72M85.1 55.0h0.72M51.8 55.1h0.72M92.1 47.9h0.72M71.1 49.6h0.72M60.2 55.2h0.72M74.4 50.9h0.72M89.6 49.2h0.72M55.5 50.3h0.72M57.2 54.1h0.72M66.1 48.8h0.72M62.2 46.0h0.72M72.8 52.3h0.72M80.4 51.3h0.72M76.8 49.2h0.72M70.4 52.5h0.72M49.3 53.8h0.72M72.4 52.2h0.72M61.8 58.0h0.72M70.0 49.7h0.72M55.5 53.8h0.72M66.4 49.6h0.72M57.7 54.8h0.72M71.5 55.2h0.72M69.7 48.4h0.72M84.8 53.0h0.72M58.8 51.1h0.72M53.4 54.5h0.72M62.9 53.4h0.72M74.4 51.2h0.72M76.3 51.3h0.72M49.9 50.7h0.72M49.9 54.3h0.72M81.1 50.2h0.72M80.6 52.7h0.72M86.6 49.2h0.72M70.4 49.0h0.72M58.4 56.1h0.72M78.3 54.3h0.72M56.6 45.9h0.72M88.8 54.7h0.72M57.5 56.1h0.72M66.8 53.8h0.72M66.7 56.8h0.72M61.2 45.6h0.72M64.6 52.6h0.72M74.7 49.8h0.72M66.1 48.6h0.72M66.0 52.3h0.72M74.1 56.9h0.72M77.4 48.5h0.72M71.2 52.0h0.72M52.9 54.2h0.72M83.2 55.2h0.72M67.8 54.9h0.72M56.3 52.5h0.72M82.0 55.9h0.72M65.1 51.1h0.72M77.9 51.8h0.72M72.3 54.4h0.72M57.0 54.6h0.72M76.4 51.2h0.72M48.8 50.1h0.72M69.2 54.8h0.72M73.3 48.6h0.72M84.5 53.2h0.72M77.4 49.1h0.72M51.2 54.7h0.72M93.8 53.1h0.72M66.7 50.7h0.72M68.4 55.7h0.72M57.8 55.1h0.72M57.9 53.7h0.72M93.2 49.9h0.72M85.3 52.0h0.72M54.1 52.6h0.72M80.9 49.9h0.72M65.5 50.3h0.72M57.0 51.4h0.72M83.9 50.5h0.72M91.0 50.9h0.72M58.3 55.2h0.72M93.7 50.1h0.72M79.9 48.5h0.72M63.1 50.9h0.72M81.9 48.3h0.72M61.4 49.9h0.72M71.7 48.3h0.72M47.4 60.4h0.72M73.6 47.5h0.72M84.0 48.1h0.72M91.0 49.5h0.72M51.6 53.4h0.72M81.1 48.5h0.72M87.0 52.4h0.72M69.9 56.1h0.72M55.9 55.3h0.72M84.0 50.1h0.72M72.1 52.3h0.72M79.8 49.1h0.72M66.1 52.3h0.72M70.5 52.1h0.72M74.2 51.4h0.72M61.6 55.1h0.72M59.2 51.1h0.72M55.2 48.6h0.72M77.5 51.9h0.72M67.7 53.3h0.72M67.1 54.0h0.72M65.5 56.9h0.72M81.8 47.1h0.72M92.3 52.6h0.72M84.3 48.6h0.72M55.8 50.1h0.72M79.3 48.7h0.72M58.1 54.8h0.72M59.2 52.3h0.72M55.0 47.0h0.72M68.6 51.6h0.72M46.0 54.9h0.72M83.7 54.6h0.72M61.4 48.6h0.72M68.5 52.5h0.72M67.1 50.3h0.72M53.3 49.8h0.72M68.6 50.6h0.72M77.6 50.6h0.72M66.9 49.1h0.72M61.9 47.6h0.72M52.3 53.3h0.72M67.9 50.3h0.72M82.1 50.4h0.72M77.2 50.9h0.72M86.2 54.8h0.72M71.1 55.2h0.72M78.4 56.6h0.72M67.9 47.4h0.72M73.5 52.7h0.72M63.9 51.4h0.72M65.5 48.3h0.72M52.1 47.3h0.72M55.9 51.9h0.72M94.6 53.8h0.72M57.9 48.3h0.72M51.3 51.8h0.72M84.4 50.6h0.72M96.7 57.7h0.72M72.6 45.6h0.72M88.1 51.7h0.72M81.1 54.9h0.72M53.2 52.2h0.72M72.9 49.8h0.72M81.5 51.6h0.72M63.2 57.5h0.72M72.7 56.8h0.72M67.4 55.0h0.72M57.4 52.4h0.72M88.0 45.6h0.72M78.9 51.2h0.72M88.1 52.5h0.72M68.7 48.2h0.72M64.6 49.9h0.72M64.9 52.6h0.72M47.7 55.1h0.72M65.6 53.8h0.72M65.0 50.9h0.72M58.8 52.9h0.72M76.7 49.1h0.72M64.6 55.1h0.72M84.4 51.7h0.72M46.2 50.9h0.72M57.8 55.6h0.72M44.3 50.3h0.72M46.4 49.9h0.72M62.6 53.1h0.72M60.1 54.0h0.72M50.8 51.5h0.72M68.2 50.9h0.72M89.0 55.4h0.72M81.0 49.6h0.72M59.9 54.7h0.72M72.3 48.7h0.72M69.9 48.4h0.72M69.0 48.5h0.72M54.5 50.5h0.72M50.2 50.4h0.72M87.5 54.3h0.72M81.4 51.0h0.72M72.0 49.7h0.72M66.9 49.6h0.72M45.8 49.1h0.72M57.4 51.7h0.72M62.4 55.6h0.72M69.4 50.1h0.72M81.2 52.9h0.72M58.5 49.7h0.72M72.2 47.2h0.72M54.7 55.0h0.72M84.2 55.3h0.72M62.5 50.2h0.72M65.3 50.6h0.72M91.1 51.3h0.72M92.3 49.9h0.72M76.1 56.8h0.72M57.5 50.1h0.72M59.9 47.3h0.72M64.9 50.1h0.72M85.6 51.9h0.72M74.6 54.1h0.72M60.5 52.1h0.72M72.2 56.9h0.72M93.2 52.5h0.72M47.6 54.6h0.72M68.9 55.4h0.72M70.7 52.5h0.72M80.7 49.8h0.72M58.9 58.7h0.72M55.5 54.7h0.72M81.1 54.4h0.72M92.5 48.1h0.72M85.6 45.9h0.72M70.7 53.0h0.72M86.9 55.2h0.72M54.3 51.2h0.72M67.2 49.9h0.72M56.2 50.0h0.72M88.8 56.0h0.72M82.2 56.9h0.72M71.3 48.8h0.72M59.0 52.6h0.72M86.8 55.6h0.72M55.0 54.8h0.72M61.0 53.7h0.72M85.0 56.3h0.72M61.1 52.7h0.72M76.9 50.8h0.72M71.3 53.7h0.72M42.6 50.1h0.72M60.6 46.6h0.72M53.9 53.5h0.72M81.0 53.3h0.72M79.6 50.2h0.72M96.1 48.7h0.72M78.2 51.2h0.72M65.2 54.1h0.72M90.8 52.5h0.72M58.8 51.4h0.72M68.6 56.2h0.72M83.9 56.7h0.72M82.3 49.7h0.72M85.1 54.8h0.72M67.8 53.4h0.72M64.5 48.3h0.72M68.3 54.2h0.72M63.8 45.4h0.72M56.5 55.2h0.72M73.5 55.3h0.72M57.3 50.8h0.72M53.2 49.7h0.72M78.2 52.4h0.72M61.8 52.9h0.72M48.2 50.8h0.72M45.0 47.6h0.72M47.3 48.8h0.72M95.8 56.0h0.72M90.6 50.3h0.72M80.1 48.7h0.72M60.8 52.7h0.72M43.3 52.6h0.72M79.9 45.9h0.72M67.7 52.4h0.72M51.0 53.7h0.72M71.8 49.8h0.72M96.9 52.8h0.72M82.0 57.5h0.72M61.6 51.3h0.72M77.0 59.4h0.72M79.0 52.6h0.72M48.8 49.5h0.72M71.6 52.9h0.72M54.6 51.4h0.72M56.4 53.8h0.72M80.3 50.3h0.72M62.2 48.4h0.72M62.0 58.5h0.72M69.5 54.5h0.72M79.3 56.4h0.72M64.3 49.3h0.72M86.9 54.7h0.72M58.8 55.2h0.72M69.5 51.9h0.72M74.9 51.1h0.72M73.0 55.1h0.72M77.3 49.8h0.72M77.1 51.6h0.72M74.8 51.4h0.72M63.4 45.5h0.72M44.8 58.0h0.72M81.2 50.6h0.72M75.1 45.4h0.72M73.8 54.9h0.72M72.8 48.1h0.72M85.8 50.4h0.72M60.3 52.6h0.72M64.7 58.0h0.72M67.4 58.4h0.72M77.2 48.3h0.72M69.7 52.2h0.72M93.5 55.8h0.72M62.5 58.9h0.72M54.9 53.1h0.72M96.4 49.0h0.72M63.9 49.8h0.72M78.5 53.2h0.72M69.1 54.0h0.72M56.7 50.9h0.72M77.5 58.0h0.72M69.1 52.2h0.72M91.5 52.2h0.72M91.3 52.7h0.72M88.9 52.5h0.72M54.5 49.5h0.72M76.8 57.6h0.72M55.6 54.8h0.72M44.4 54.7h0.72M76.0 53.9h0.72M49.7 53.1h0.72M85.4 51.8h0.72M86.8 52.1h0.72M75.5 51.1h0.72M47.2 51.5h0.72M78.0 49.7h0.72M91.6 51.3h0.72M57.0 55.7h0.72M66.8 47.5h0.72M62.4 49.4h0.72M66.7 49.3h0.72M70.9 53.4h0.72M60.2 51.4h0.72M67.1 54.5h0.72M57.8 54.2h0.72M90.5 51.4h0.72M53.6 51.1h0.72M49.8 51.5h0.72M63.5 53.5h0.72M71.7 53.3h0.72M68.9 52.8h0.72M50.9 54.0h0.72M91.5 55.3h0.72M47.3 53.3h0.72M42.6 54.3h0.72M66.3 50.6h0.72M57.3 51.3h0.72M69.7 49.1h0.72M70.7 52.8h0.72M78.5 51.9h0.72M69.7 58.9h0.72M86.6 53.0h0.72M46.6 53.9h0.72M79.3 44.0h0.72M67.0 53.1h0.72M70.4 52.3h0.72M67.2 56.1h0.72M76.1 51.2h0.72M66.0 58.3h0.72M55.3 50.4h0.72M75.2 52.4h0.72M74.8 56.1h0.72M88.8 53.3h0.72M70.5 51.8h0.72M65.9 55.0h0.72M48.6 48.9h0.72M62.1 49.1h0.72M57.5 55.6h0.72M47.8 51.3h0.72M60.2 49.0h0.72M44.9 52.2h0.72M63.2 55.3h0.72M56.3 51.1h0.72M77.6 54.8h0.72M53.8 53.4h0.72M69.3 55.4h0.72M62.9 51.4h0.72M55.5 48.0h0.72M74.3 54.1h0.72M88.7 52.8h0.72M62.1 49.2h0.72M50.3 49.8h0.72M75.4 52.3h0.72M65.0 48.9h0.72M69.5 53.6h0.72M52.4 47.9h0.72M64.4 52.8h0.72M65.5 56.6h0.72M72.3 49.0h0.72M82.8 50.1h0.72M81.4 52.3h0.72M90.5 49.0h0.72M81.9 53.3h0.72M54.6 54.1h0.72M56.9 51.5h0.72M91.7 52.8h0.72M94.7 50.0h0.72M91.8 47.3h0.72M67.0 51.1h0.72M61.6 55.7h0.72M59.7 53.1h0.72M62.9 49.8h0.72M84.8 55.3h0.72M73.9 58.5h0.72M82.9 45.1h0.72M55.0 54.4h0.72M63.1 54.5h0.72M45.1 52.3h0.72M85.1 50.3h0.72M96.5 49.4h0.72M66.6 54.8h0.72M66.3 50.3h0.72M69.6 54.0h0.72M62.9 49.0h0.72M61.2 51.8h0.72M70.8 54.8h0.72M54.5 55.4h0.72M70.7 54.2h0.72M90.9 48.3h0.72M96.9 49.8h0.72M76.7 55.3h0.72M85.5 47.3h0.72M72.7 55.4h0.72M67.9 51.8h0.72M71.1 56.9h0.72M60.7 49.2h0.72M51.2 50.4h0.72M65.9 53.0h0.72M68.5 46.8h0.72M43.3 54.0h0.72M82.2 47.9h0.72M85.8 44.7h0.72M69.4 50.6h0.72M63.7 51.3h0.72M68.2 49.3h0.72M60.3 53.7h0.72M78.9 48.0h0.72M61.6 56.7h0.72M82.1 57.0h0.72M47.0 48.9h0.72M63.6 48.8h0.72M51.5 49.9h0.72M66.8 54.5h0.72M79.5 46.7h0.72M95.3 51.0h0.72M53.0 51.9h0.72M63.2 47.8h0.72M96.4 50.3h0.72M59.8 53.6h0.72M54.7 53.3h0.72M88.8 53.1h0.72M81.0 50.6h0.72M68.8 46.9h0.72M57.8 48.6h0.72M70.1 56.5h0.72M54.2 51.7h0.72M89.8 49.7h0.72M56.6 55.6h0.72M76.3 53.6h0.72M84.2 49.8h0.72M73.8 50.0h0.72M57.7 52.4h0.72M77.4 48.2h0.72M56.9 53.8h0.72M72.8 54.0h0.72M64.6 49.6h0.72M83.3 53.8h0.72M57.0 54.0h0.72M96.7 51.2h0.72M53.4 52.8h0.72M71.5 53.7h0.72M46.1 52.7h0.72M85.2 54.1h0.72M80.7 55.6h0.72M55.9 55.7h0.72M73.5 49.0h0.72M64.9 52.8h0.72M75.6 56.1h0.72M73.2 50.5h0.72M55.9 54.8h0.72M62.9 49.6h0.72M51.8 55.6h0.72M51.9 52.3h0.72M62.2 51.4h0.72M56.0 52.5h0.72M80.3 55.2h0.72M63.9 48.5h0.72M44.7 52.0h0.72M70.5 52.4h0.72M46.2 50.1h0.72M57.3 54.0h0.72M63.0 53.9h0.72M78.8 46.2h0.72M66.0 55.8h0.72M61.3 52.4h0.72M67.8 48.3h0.72M80.9 50.7h0.72M93.9 55.5h0.72M90.2 54.9h0.72M82.0 56.2h0.72M76.9 52.4h0.72M83.8 49.3h0.72M72.6 49.9h0.72M65.4 49.2h0.72M55.6 52.6h0.72M72.1 54.5h0.72M68.4 53.9h0.72M81.6 49.9h0.72M65.7 50.4h0.72M78.1 49.7h0.72M81.8 48.2h0.72M86.2 52.6h0.72M63.2 48.4h0.72M94.6 44.8h0.72M49.5 57.5h0.72M87.0 53.9h0.72M63.9 52.4h0.72M50.4 48.0h0.72M72.1 54.2h0.72M72.7 48.4h0.72M84.5 52.3h0.72M82.8 51.2h0.72M65.5 55.2h0.72M93.4 48.4h0.72M51.1 54.9h0.72M76.1 52.2h0.72M53.3 55.1h0.72M73.2 52.7h0.72M76.6 50.5h0.72M76.8 52.4h0.72M82.3 53.2h0.72M48.1 49.9h0.72M65.4 55.5h0.72M58.9 55.4h0.72M88.4 54.7h0.72M75.5 55.7h0.72M76.9 55.0h0.72M67.8 56.3h0.72M76.0 46.3h0.72M88.5 51.5h0.72M54.9 51.1h0.72M65.2 55.5h0.72M75.7 51.8h0.72M69.7 49.4h0.72M59.1 50.6h0.72M66.1 48.6h0.72M63.2 55.0h0.72M77.7 52.0h0.72M75.9 51.3h0.72M49.8 54.7h0.72M81.7 59.4h0.72M49.4 53.6h0.72M64.2 51.2h0.72M76.8 47.3h0.72M66.2 50.6h0.72M52.9 53.9h0.72M87.6 54.3h0.72M68.9 53.8h0.72M92.6 50.8h0.72M67.5 47.9h0.72M85.3 53.1h0.72M74.4 56.0h0.72M71.4 54.4h0.72M93.6 49.6h0.72M55.2 53.2h0.72M69.0 50.3h0.72M67.9 49.9h0.72M72.3 50.9h0.72M79.9 52.3h0.72M97.0 49.2h0.72M62.1 57.2h0.72M58.8 50.9h0.72M63.3 49.1h0.72M90.8 56.6h0.72M67.4 49.8h0.72M46.9 54.0h0.72M60.9 53.7h0.72M80.7 53.3h0.72M72.2 52.0h0.72M64.2 50.7h0.72M72.5 53.6h0.72M85.9 51.4h0.72M90.9 49.3h0.72M63.1 60.2h0.72M94.6 56.8h0.72M49.6 51.7h0.72M78.1 55.2h0.72M71.3 48.2h0.72M90.9 51.5h0.72M77.5 51.1h0.72M68.1 48.0h0.72M81.4 50.2h0.72M69.4 54.9h0.72M84.0 48.4h0.72M67.0 52.0h0.72M71.5 48.9h0.72M71.3 55.0h0.72M91.2 56.4h0.72M82.9 44.5h0.72M65.4 50.4h0.72M85.6 52.0h0.72M76.2 53.5h0.72M66.3 56.1h0.72M60.5 52.8h0.72M86.7 54.2h0.72M58.3 54.9h0.72M82.4 53.8h0.72M62.9 52.0h0.72M62.4 51.2h0.72M65.2 51.1h0.72M71.5 52.3h0.72M59.6 51.6h0.72M68.5 53.5h0.72M77.5 51.0h0.72M55.9 47.2h0.72M48.7 53.2h0.72M54.3 56.8h0.72M67.3 50.9h0.72M67.3 50.4h0.72M59.3 52.2h0.72M45.3 52.4h0.72M68.4 49.4h0.72M87.5 53.1h0.72M88.5 50.1h0.72M48.8 48.5h0.72M43.2 46.4h0.72M96.7 50.6h0.72M73.3 50.4h0.72M67.5 56.7h0.72M72.3 49.3h0.72M81.8 55.9h0.72M85.2 54.3h0.72M67.2 55.0h0.72M56.3 48.5h0.72M65.6 51.3h0.72M90.9 49.1h0.72M89.5 49.7h0.72M48.4 47.0h0.72M69.4 47.7h0.72M73.6 52.2h0.72M63.2 46.3h0.72M61.2 53.3h0.72M70.3 50.4h0.72M73.5 54.0h0.72M69.6 49.7h0.72M83.4 50.0h0.72M76.2 54.9h0.72M92.3 56.7h0.72M87.5 52.5h0.72M66.6 52.6h0.72M79.0 60.9h0.72M81.2 49.6h0.72M96.0 47.3h0.72M87.1 48.2h0.72M51.4 50.5h0.72M65.2 48.0h0.72M80.6 51.7h0.72M92.9 49.0h0.72M66.2 54.9h0.72M71.6 57.8h0.72M49.0 46.4h0.72M62.3 56.2h0.72M97.0 48.0h0.72M59.6 46.6h0.72M55.6 49.2h0.72M77.3 55.4h0.72M84.0 52.7h0.72M72.2 57.8h0.72M82.0 56.7h0.72M75.1 54.6h0.72M78.7 51.7h0.72M58.1 50.8h0.72M70.2 50.9h0.72M64.2 49.9h0.72M84.6 51.3h0.72M68.0 51.4h0.72M92.4 50.4h0.72M94.1 49.5h0.72M96.1 53.8h0.72M61.7 53.4h0.72M89.4 49.2h0.72M66.2 52.9h0.72M66.5 51.2h0.72M70.4 52.9h0.72M83.2 56.4h0.72M64.5 60.7h0.72M64.4 57.3h0.72M67.9 47.7h0.72M62.6 51.0h0.72M88.2 46.0h0.72M59.3 51.6h0.72M81.2 53.2h0.72M84.6 51.5h0.72M66.1 55.6h0.72M72.7 49.5h0.72M80.6 47.3h0.72M80.3 59.2h0.72M67.3 51.4h0.72M96.1 51.5h0.72M84.4 57.8h0.72M50.2 49.6h0.72M81.6 52.4h0.72M70.7 51.5h0.72M72.2 53.1h0.72M62.0 51.2h0.72M74.0 48.8h0.72M77.6 45.5h0.72M80.9 51.7h0.72M50.1 56.0h0.72M50.1 58.1h0.72M57.7 55.6h0.72M69.0 56.8h0.72M66.3 55.1h0.72M64.6 46.4h0.72M76.7 53.4h0.72M76.9 57.0h0.72M57.6 47.8h0.72M74.4 50.0h0.72M68.3 52.0h0.72M56.2 55.3h0.72M68.0 57.3h0.72M74.3 55.2h0.72M65.1 50.1h0.72M61.1 49.4h0.72M77.7 52.4h0.72M51.8 47.4h0.72M55.5 46.6h0.72M55.1 47.5h0.72M82.0 48.6h0.72M60.1 51.7h0.72M70.6 53.3h0.72M83.0 53.9h0.72M64.3 55.7h0.72M76.4 49.9h0.72M95.4 48.5h0.72M78.1 55.7h0.72M72.0 53.0h0.72M72.1 54.0h0.72M73.9 52.0h0.72M82.0 46.4h0.72M74.3 51.1h0.72M59.0 54.0h0.72M63.6 48.5h0.72M65.4 53.5h0.72M90.1 55.1h0.72M73.9 51.5h0.72M73.5 55.6h0.72M68.0 55.5h0.72M56.7 52.0h0.72M83.1 54.1h0.72M73.5 50.5h0.72M55.8 50.8h0.72M96.7 49.7h0.72M84.3 52.0h0.72M51.5 52.3h0.72M82.7 48.5h0.72M50.6 50.9h0.72M82.3 50.2h0.72M77.2 53.4h0.72M70.3 53.3h0.72M91.4 51.4h0.72M75.5 48.8h0.72M58.0 51.7h0.72M83.7 50.0h0.72M46.8 54.8h0.72M52.3 52.4h0.72M78.2 49.2h0.72M75.7 55.3h0.72M65.5 54.2h0.72M72.2 49.2h0.72M59.8 50.2h0.72M92.3 55.4h0.72M74.1 47.4h0.72M61.9 50.8h0.72M74.9 48.1h0.72M62.9 50.7h0.72M82.9 52.3h0.72M48.7 54.7h0.72M58.8 46.3h0.72M82.2 51.0h0.72M70.1 53.5h0.72M66.2 53.2h0.72M91.6 51.1h0.72M64.2 52.1h0.72M80.8 50.8h0.72M71.4 50.0h0.72M68.8 53.6h0.72M56.4 51.5h0.72M45.7 49.9h0.72M71.4 53.6h0.72M52.9 51.7h0.72M54.6 52.9h0.72M74.4 53.3h0.72M66.6 47.8h0.72M60.8 48.0h0.72M58.8 51.8h0.72M88.0 50.1h0.72M57.2 52.6h0.72M44.5 55.0h0.72M86.3 54.9h0.72M68.3 54.2h0.72M64.4 54.8h0.72M59.2 49.6h0.72M76.3 50.7h0.72M81.2 49.5h0.72M74.5 49.1h0.72M68.4 58.4h0.72M52.2 48.4h0.72M43.5 51.3h0.72M96.9 50.7h0.72M85.5 51.5h0.72M59.6 57.9h0.72M87.9 46.6h0.72M53.9 53.2h0.72M80.8 51.3h0.72M75.2 53.6h0.72M64.3 55.0h0.72M56.0 54.2h0.72M85.2 52.6h0.72M64.3 51.9h0.72M46.5 46.1h0.72M82.6 49.3h0.72M75.9 52.1h0.72M65.6 53.4h0.72M71.2 48.3h0.72M61.3 52.3h0.72M49.1 50.7h0.72M61.0 45.7h0.72M62.4 54.8h0.72M52.8 56.5h0.72M63.9 52.4h0.72M60.5 52.3h0.72M75.5 52.1h0.72M56.4 54.2h0.72M79.2 52.0h0.72M87.4 49.8h0.72M91.1 51.5h0.72M95.0 50.7h0.72M65.9 52.6h0.72M88.1 56.3h0.72M62.5 49.9h0.72M82.6 55.7h0.72M81.6 51.0h0.72M91.0 51.9h0.72M72.8 53.8h0.72M60.7 45.3h0.72M73.6 54.1h0.72M77.2 53.6h0.72M72.7 55.1h0.72M71.9 56.4h0.72M70.9 54.4h0.72M61.0 52.9h0.72M77.0 52.4h0.72M95.4 52.1h0.72M88.5 53.0h0.72M88.0 49.3h0.72M64.0 54.9h0.72M56.6 53.2h0.72M79.4 52.6h0.72M77.2 53.6h0.72M66.1 53.2h0.72M61.5 50.7h0.72M43.9 51.7h0.72M42.1 52.1h0.72M73.5 48.8h0.72M71.2 52.9h0.72M64.3 49.3h0.72M68.2 53.2h0.72M85.3 57.7h0.72M77.2 50.1h0.72M75.3 58.2h0.72M71.9 56.0h0.72M87.5 50.7h0.72M95.4 46.8h0.72M66.8 49.9h0.72M73.4 52.2h0.72M88.8 50.3h0.72M73.6 59.9h0.72M68.4 53.9h0.72M84.7 51.0h0.72M82.1 46.0h0.72M62.0 53.7h0.72M43.9 48.0h0.72M76.7 55.4h0.72M89.2 50.1h0.72M78.4 46.8h0.72M45.7 53.6h0.72M63.5 49.0h0.72M52.8 55.3h0.72M71.1 55.4h0.72M68.8 57.4h0.72M69.5 51.7h0.72M77.3 53.0h0.72M45.3 49.2h0.72M66.2 53.0h0.72M49.8 49.9h0.72M57.8 53.0h0.72M62.9 53.8h0.72M76.4 49.3h0.72M65.1 48.3h0.72M71.8 54.4h0.72M53.7 46.7h0.72M78.5 51.1h0.72M69.6 53.4h0.72M76.3 54.8h0.72M62.5 45.5h0.72M62.0 51.1h0.72M63.2 53.2h0.72M65.9 55.9h0.72M59.6 52.0h0.72M64.1 58.3h0.72M54.3 49.0h0.72M63.7 54.3h0.72M70.2 51.5h0.72M45.8 45.8h0.72M66.5 51.3h0.72M77.0 54.9h0.72M55.2 48.3h0.72M63.9 56.4h0.72M86.4 50.3h0.72M49.4 54.8h0.72M88.1 48.7h0.72M96.6 49.7h0.72M82.4 51.4h0.72M64.6 50.2h0.72M81.5 53.8h0.72M83.4 51.2h0.72M56.0 58.4h0.72M51.0 56.5h0.72M72.2 52.2h0.72M84.2 53.0h0.72M71.9 57.9h0.72M53.6 52.2h0.72M67.2 52.8h0.72M85.0 53.9h0.72M74.9 50.5h0.72M80.6 52.8h0.72M94.1 54.5h0.72M95.2 53.5h0.72M72.9 50.2h0.72M71.6 50.9h0.72M79.6 56.1h0.72M78.7 54.8h0.72M74.4 53.1h0.72M48.8 52.4h0.72M70.9 51.8h0.72M66.0 52.9h0.72M60.3 51.4h0.72M48.1 58.9h0.72M55.1 48.4h0.72M61.0 50.8h0.72M52.0 44.7h0.72M63.7 53.7h0.72M51.4 47.2h0.72M75.6 53.7h0.72M58.5 52.0h0.72M87.7 52.5h0.72M73.0 53.7h0.72M48.7 52.7h0.72M59.5 46.4h0.72M85.0 51.4h0.72M86.7 58.0h0.72M42.2 48.2h0.72M88.1 56.2h0.72M76.7 53.1h0.72M81.7 54.0h0.72M48.6 54.2h0.72M86.7 50.8h0.72M54.6 50.5h0.72M60.1 53.6h0.72M83.1 52.1h0.72M64.8 46.7h0.72M62.8 49.0h0.72M60.7 53.0h0.72M55.3 50.4h0.72M50.7 51.2h0.72M65.2 55.0h0.72M80.9 50.4h0.72M58.4 52.6h0.72M78.8 51.5h0.72M67.4 52.1h0.72M51.7 52.8h0.72M79.7 52.2h0.72M50.7 52.0h0.72M68.1 52.9h0.72M62.9 54.5h0.72M88.3 54.5h0.72M73.9 55.6h0.72M69.3 51.5h0.72M45.8 52.1h0.72M90.5 49.2h0.72M83.1 48.2h0.72M75.0 57.4h0.72M70.7 48.5h0.72M74.8 51.6h0.72M83.4 50.5h0.72M79.9 55.0h0.72M74.6 52.1h0.72M81.5 51.4h0.72M62.3 52.7h0.72M88.4 50.5h0.72M78.3 50.1h0.72M57.5 52.5h0.72M47.5 49.5h0.72M49.8 50.2h0.72M54.5 58.9h0.72M80.2 52.2h0.72M47.3 45.0h0.72M77.3 50.2h0.72M87.6 50.8h0.72M47.9 50.1h0.72M44.1 47.8h0.72M81.9 50.4h0.72M81.5 50.4h0.72M66.0 50.4h0.72M60.7 50.1h0.72M95.1 51.8h0.72M91.1 55.3h0.72M68.1 51.6h0.72M61.8 52.4h0.72M77.8 52.0h0.72M56.0 49.2h0.72M48.9 50.1h0.72M69.2 53.7h0.72M67.9 52.7h0.72M76.0 55.3h0.72M47.8 55.2h0.72M77.3 53.6h0.72M44.4 51.3h0.72M65.4 53.9h0.72M81.4 54.0h0.72M48.0 55.7h0.72M71.0 54.7h0.72M69.7 50.0h0.72M82.7 50.7h0.72M66.1 55.3h0.72M77.4 57.1h0.72M90.1 48.9h0.72M43.7 55.4h0.72M80.0 51.3h0.72M64.9 50.4h0.72M46.4 54.7h0.72M68.3 53.0h0.72M70.2 45.3h0.72M67.1 58.5h0.72M73.7 48.5h0.72M53.7 53.5h0.72M70.0 59.4h0.72M51.4 51.9h0.72M66.6 50.4h0.72M52.2 50.5h0.72M71.9 47.3h0.72M59.6 53.0h0.72M93.7 52.2h0.72M61.0 44.6h0.72M70.5 49.8h0.72M48.4 52.1h0.72M75.9 50.0h0.72M82.4 54.7h0.72M45.5 44.8h0.72M70.9 54.3h0.72M72.6 47.9h0.72M60.9 56.2h0.72M63.8 53.0h0.72M54.6 54.7h0.72M68.4 44.0h0.72M83.5 57.7h0.72M96.3 60.0h0.72M80.6 51.9h0.72M56.6 56.0h0.72M65.0 49.5h0.72M48.4 54.3h0.72M81.1 57.1h0.72M50.4 47.5h0.72M77.0 46.2h0.72M90.7 59.8h0.72M76.7 48.4h0.72M72.9 57.0h0.72M61.0 55.0h0.72M75.1 59.4h0.72M84.7 55.4h0.72M72.0 59.1h0.72M75.1 55.7h0.72M59.1 45.8h0.72M72.7 47.8h0.72M95.3 47.8h0.72M91.3 49.7h0.72M52.5 53.8h0.72M59.7 60.9h0.72M76.0 45.7h0.72M59.1 45.9h0.72M69.1 53.0h0.72M59.4 55.4h0.72M66.5 57.9h0.72M79.4 48.4h0.72M87.6 44.5h0.72M54.9 44.5h0.72M94.3 53.1h0.72M88.3 60.8h0.72M47.0 59.3h0.72M43.1 55.9h0.72M85.6 50.5h0.72M91.0 57.0h0.72M69.4 48.8h0.72M50.8 45.3h0.72M71.8 52.9h0.72M52.3 53.0h0.72M46.4 49.1h0.72M78.8 46.6h0.72M70.8 46.3h0.72M90.5 47.6h0.72M93.2 59.6h0.72M95.1 48.8h0.72M79.5 45.2h0.72M95.5 55.8h0.72M44.0 46.4h0.72M47.8 49.9h0.72M93.5 57.4h0.72M59.9 57.8h0.72M42.6 53.3h0.72M63.4 45.3h0.72M92.6 55.2h0.72M96.8 54.9h0.72M76.2 46.2h0.72M68.2 59.2h0.72M72.7 54.8h0.72M67.3 50.1h0.72M42.6 47.7h0.72M52.2 45.6h0.72M45.0 56.8h0.72M96.7 55.9h0.72M87.7 47.6h0.72M88.7 50.5h0.72M89.0 48.0h0.72M58.4 53.0h0.72M54.3 48.4h0.72M82.0 57.4h0.72M96.1 55.1h0.72M61.3 52.0h0.72M74.2 54.1h0.72M92.5 53.6h0.72M94.9 52.1h0.72M66.5 44.5h0.72M59.8 52.2h0.72M42.6 51.5h0.72M48.4 48.5h0.72M90.6 59.6h0.72M48.3 54.0h0.72M68.8 44.9h0.72M58.4 53.1h0.72M65.4 53.7h0.72M45.6 54.4h0.72M75.6 47.2h0.72M73.2 59.9h0.72M91.0 54.5h0.72M70.6 56.7h0.72M67.0 56.0h0.72M62.5 53.4h0.72M82.4 53.9h0.72M75.2 50.5h0.72M61.3 55.1h0.72M66.5 51.5h0.72M62.8 48.9h0.72M76.4 58.9h0.72M52.7 55.0h0.72M71.2 54.8h0.72M78.5 50.8h0.72M42.6 50.2h0.72M70.7 54.7h0.72M93.0 55.2h0.72M77.9 50.0h0.72M85.7 46.2h0.72M90.7 52.3h0.72M66.9 55.8h0.72M71.9 60.9h0.72M48.6 45.1h0.72M74.7 47.8h0.72M54.5 61.0h0.72M71.1 49.0h0.72M62.1 47.8h0.72M55.9 46.3h0.72M95.7 56.5h0.72M61.8 45.9h0.72M95.7 59.1h0.72M47.2 58.8h0.72M72.3 60.7h0.72M66.2 51.4h0.72M42.5 53.8h0.72M55.1 59.0h0.72M54.3 59.0h0.72M60.3 57.7h0.72M81.3 59.9h0.72M73.6 50.1h0.72M56.5 48.0h0.72M47.7 49.1h0.72M59.4 58.0h0.72M42.4 52.5h0.72M69.9 46.7h0.72M80.1 47.5h0.72M82.9 46.9h0.72M90.3 49.3h0.72M47.2 46.6h0.72M53.2 46.2h0.72M59.3 60.5h0.72M62.6 50.7h0.72M83.4 45.3h0.72M46.8 58.8h0.72M60.0 47.0h0.72M52.1 56.6h0.72M95.8 50.8h0.72M81.1 51.8h0.72M53.2 49.4h0.72M60.7 48.3h0.72M85.6 45.5h0.72M63.3 56.5h0.72M43.8 60.4h0.72M75.8 55.1h0.72M52.6 47.5h0.72M88.4 60.6h0.72M42.8 57.9h0.72M53.0 45.3h0.72M74.8 45.6h0.72M88.2 58.4h0.72M57.7 46.5h0.72M70.2 56.7h0.72M44.1 56.0h0.72M48.8 50.4h0.72M51.1 45.4h0.72M71.4 49.1h0.72M92.1 59.4h0.72M81.9 52.7h0.72M77.6 49.7h0.72M67.8 53.3h0.72M65.2 51.6h0.72M88.9 60.8h0.72M82.5 58.6h0.72M58.8 45.3h0.72M54.2 52.5h0.72M84.1 56.5h0.72M92.3 57.2h0.72M58.4 44.9h0.72M68.5 49.6h0.72M89.8 59.4h0.72M71.6 57.2h0.72M82.0 52.8h0.72M66.3 60.2h0.72M85.9 53.7h0.72M96.3 46.5h0.72M84.3 53.4h0.72M59.7 46.2h0.72M74.0 58.8h0.72M51.7 59.3h0.72M96.3 47.3h0.72M72.4 52.2h0.72M60.5 46.0h0.72M56.7 60.0h0.72M88.2 60.2h0.72M69.4 52.5h0.72M45.4 51.3h0.72M74.0 60.9h0.72M45.5 55.2h0.72M44.6 60.5h0.72M53.1 55.8h0.72M76.9 47.5h0.72M67.4 51.2h0.72M51.8 50.7h0.72M45.5 56.0h0.72M95.4 53.2h0.72M64.0 52.7h0.72M49.9 56.6h0.72M80.0 45.8h0.72M62.8 46.1h0.72M80.6 44.3h0.72M89.9 45.1h0.72M88.0 47.3h0.72M71.1 56.1h0.72M93.6 58.9h0.72M50.4 56.2h0.72M65.7 46.8h0.72M67.4 59.9h0.72M43.1 55.9h0.72M71.8 59.0h0.72M68.1 48.2h0.72M88.8 45.8h0.72M79.9 49.0h0.72M45.0 46.9h0.72M88.8 46.7h0.72M92.5 46.5h0.72M93.1 44.9h0.72M78.3 53.1h0.72M74.8 59.7h0.72M54.5 60.9h0.72M73.3 57.8h0.72M106.0 124.7h0.72M122.9 76.9h0.72M104.8 114.0h0.72M117.2 124.0h0.72M128.8 102.1h0.72M123.0 49.3h0.72M126.9 99.0h0.72M100.5 40.3h0.72M100.7 53.9h0.72M124.5 103.8h0.72M122.0 67.5h0.72M130.8 47.8h0.72M105.2 74.1h0.72M106.4 101.0h0.72M127.0 101.7h0.72M108.6 86.8h0.72M108.3 84.0h0.72M116.1 47.9h0.72M127.4 107.9h0.72M125.0 42.3h0.72M105.4 102.2h0.72M126.1 90.2h0.72M130.6 72.8h0.72M105.2 77.2h0.72M107.9 68.7h0.72M125.2 63.4h0.72M122.7 88.0h0.72M97.8 80.5h0.72M128.2 92.9h0.72M127.6 92.2h0.72M132.8 37.5h0.72M112.3 52.0h0.72M124.2 60.8h0.72M120.9 93.6h0.72M97.6 89.9h0.72M105.8 55.4h0.72M102.8 46.4h0.72M110.1 59.7h0.72M109.8 52.8h0.72M118.5 44.5h0.72M126.4 46.7h0.72M107.6 45.5h0.72M100.7 50.9h0.72M122.7 47.5h0.72M104.3 53.3h0.72M101.9 50.8h0.72M112.9 41.5h0.72M106.2 50.6h0.72M104.9 51.4h0.72M104.9 47.0h0.72M112.8 47.8h0.72M116.5 54.4h0.72M103.1 54.9h0.72M104.5 54.8h0.72M113.5 57.6h0.72M101.7 51.4h0.72M108.0 46.1h0.72M110.5 55.4h0.72M99.7 49.3h0.72M101.4 45.8h0.72M101.6 58.7h0.72M104.0 50.1h0.72M113.9 57.0h0.72M116.4 41.9h0.72M112.5 43.5h0.72M74.4 36.5h0.72M58.3 42.6h0.72M57.0 38.8h0.72M72.2 34.2h0.72M48.1 36.0h0.72M85.8 41.9h0.72M46.8 35.6h0.72M96.3 35.7h0.72M86.0 39.9h0.72M90.0 41.4h0.72M47.4 41.7h0.72M81.3 34.4h0.72" stroke="#000" stroke-width="0.72" stroke-opacity="0.55" fill="none"/>
</g>
<g clip-path="url(#cpR)">
<ellipse cx="175" cy="53.7" rx="28" ry="6.5" fill="url(#gn2)"/>
<g clip-path="url(#cpR2)"><ellipse cx="204" cy="84" rx="22" ry="24" fill="url(#gh)"/>
<ellipse cx="208.8" cy="74.5" rx="19" ry="17.5" fill="url(#gm2)"/></g>
<path d="M190.7 80.4h0.72M167.3 95.1h0.72M171.7 97.9h0.72M147.7 115.8h0.72M170.1 68.2h0.72M169.1 73.9h0.72M165.7 107.3h0.72M181.4 72.2h0.72M158.6 123.0h0.72M175.3 73.7h0.72M174.4 77.6h0.72M148.1 103.5h0.72M150.0 70.8h0.72M177.7 122.9h0.72M147.9 109.2h0.72M151.5 65.7h0.72M145.3 63.3h0.72M180.3 119.2h0.72M145.1 71.5h0.72M146.8 87.6h0.72M160.3 74.1h0.72M184.5 68.6h0.72M175.5 71.0h0.72M176.5 70.1h0.72M154.2 124.3h0.72M157.6 90.4h0.72M176.9 124.9h0.72M171.4 69.3h0.72M177.3 105.1h0.72M173.1 86.3h0.72M184.7 66.0h0.72M171.3 96.3h0.72M189.5 111.1h0.72M156.2 86.1h0.72M173.7 85.9h0.72M147.6 124.5h0.72M166.8 70.8h0.72M152.0 63.0h0.72M189.1 70.8h0.72M172.1 121.5h0.72M182.1 99.3h0.72M158.4 104.4h0.72M184.0 75.0h0.72M155.7 87.9h0.72M173.8 118.1h0.72M173.5 78.8h0.72M180.0 71.5h0.72M149.8 62.6h0.72M172.7 98.4h0.72M167.3 96.9h0.72M153.7 75.3h0.72M173.2 87.4h0.72M169.0 119.6h0.72M167.4 108.9h0.72M147.5 92.9h0.72M147.1 74.5h0.72M153.7 86.2h0.72M152.3 120.9h0.72M159.2 81.2h0.72M148.0 85.3h0.72M182.9 96.4h0.72M188.3 100.9h0.72M176.1 88.9h0.72M185.4 90.3h0.72M151.3 76.1h0.72M183.6 65.6h0.72M153.3 101.5h0.72M177.9 91.3h0.72M176.5 88.5h0.72M173.4 64.4h0.72M164.7 123.4h0.72M172.7 83.5h0.72M175.0 123.5h0.72M167.3 88.2h0.72M184.8 115.6h0.72M155.6 104.1h0.72M159.1 84.3h0.72M183.8 84.8h0.72M189.3 92.6h0.72M187.0 70.1h0.72M164.3 64.1h0.72M186.5 118.0h0.72M168.3 91.3h0.72M192.1 86.4h0.72M159.5 70.7h0.72M189.5 112.5h0.72M170.3 108.0h0.72M185.5 104.1h0.72M149.8 102.9h0.72M187.2 92.0h0.72M165.4 102.6h0.72M153.8 76.2h0.72M177.8 124.6h0.72M150.1 103.9h0.72M169.2 64.4h0.72M152.4 81.2h0.72M178.4 70.4h0.72M162.8 101.1h0.72M181.5 124.7h0.72M185.6 74.0h0.72M171.9 100.2h0.72M171.6 99.6h0.72M163.3 77.0h0.72M177.2 117.0h0.72M177.9 103.5h0.72M191.4 78.0h0.72M172.7 114.1h0.72M176.5 62.1h0.72M169.5 113.5h0.72M154.4 86.8h0.72M192.6 90.6h0.72M171.1 99.6h0.72M186.1 90.7h0.72M188.5 106.4h0.72M164.2 100.7h0.72M159.2 65.3h0.72M168.3 64.9h0.72M159.2 115.1h0.72M192.1 74.5h0.72M152.6 84.3h0.72M166.6 70.9h0.72M184.0 71.9h0.72M170.9 79.1h0.72M176.2 69.3h0.72M168.7 115.4h0.72M145.3 74.2h0.72M148.0 114.7h0.72M177.4 77.3h0.72M188.6 72.9h0.72M168.4 108.0h0.72M174.0 66.1h0.72M146.8 73.6h0.72M190.8 118.6h0.72M159.2 65.0h0.72M175.6 74.5h0.72M188.2 119.9h0.72M182.8 110.9h0.72M182.6 114.4h0.72M163.1 107.5h0.72M145.1 105.8h0.72M166.3 124.0h0.72M183.0 90.5h0.72M179.1 98.9h0.72M174.7 62.5h0.72M155.5 78.2h0.72M179.0 119.7h0.72M175.3 109.8h0.72M175.7 71.2h0.72M157.0 98.6h0.72M181.4 88.4h0.72M178.6 83.1h0.72M159.9 72.6h0.72M164.8 98.5h0.72M149.9 120.6h0.72M144.9 108.1h0.72M161.5 121.1h0.72M158.5 63.6h0.72M178.3 85.8h0.72M184.6 104.0h0.72M166.1 103.6h0.72M177.9 82.7h0.72M154.0 103.2h0.72M172.4 65.0h0.72M152.4 89.1h0.72M148.9 95.0h0.72M163.9 80.6h0.72M181.3 108.5h0.72M147.8 99.6h0.72M193.1 100.2h0.72M192.8 76.7h0.72M155.3 82.6h0.72M156.0 72.1h0.72M157.0 93.6h0.72M184.3 110.7h0.72M146.4 110.3h0.72M175.8 78.8h0.72M144.8 116.2h0.72M151.1 78.0h0.72M159.4 112.2h0.72M190.8 119.7h0.72M186.1 115.3h0.72M167.6 65.5h0.72M156.0 70.9h0.72M150.2 70.5h0.72M160.1 65.2h0.72M159.0 115.9h0.72M156.3 94.1h0.72M186.2 63.0h0.72M180.1 96.2h0.72M146.0 118.1h0.72M183.5 68.4h0.72M191.6 98.4h0.72M175.6 75.4h0.72M146.0 106.4h0.72M179.5 73.4h0.72M146.2 98.2h0.72M159.6 83.7h0.72M187.0 97.6h0.72M150.3 106.0h0.72M179.8 97.8h0.72M191.2 92.0h0.72M176.3 65.5h0.72M159.3 80.9h0.72M165.6 94.2h0.72M150.1 105.5h0.72M147.2 77.9h0.72M173.2 63.5h0.72M160.6 113.0h0.72M180.3 85.7h0.72M152.7 109.3h0.72M187.1 67.1h0.72M165.0 96.5h0.72M178.5 74.8h0.72M184.8 100.4h0.72M183.6 121.7h0.72M178.0 104.2h0.72M159.1 79.2h0.72M162.8 113.1h0.72M173.7 79.5h0.72M188.7 94.6h0.72M192.5 103.1h0.72M180.5 83.7h0.72M193.1 92.2h0.72M177.5 87.4h0.72M170.1 73.1h0.72M162.6 88.0h0.72M180.9 72.0h0.72M154.2 102.6h0.72M167.7 117.6h0.72M145.5 89.9h0.72M185.2 109.6h0.72M161.8 94.5h0.72M164.0 62.3h0.72M148.5 76.4h0.72M187.2 74.1h0.72M158.5 97.1h0.72M178.7 102.8h0.72M159.6 83.5h0.72M145.1 112.0h0.72M163.0 80.4h0.72M154.7 93.1h0.72M151.8 82.5h0.72M149.7 74.0h0.72M170.3 82.7h0.72M149.8 116.9h0.72M147.4 88.0h0.72M158.9 65.6h0.72M159.0 89.8h0.72M178.3 78.3h0.72M163.1 118.7h0.72M175.6 90.1h0.72M154.9 111.5h0.72M190.1 77.1h0.72M186.2 85.6h0.72M168.0 63.6h0.72M156.4 77.2h0.72M154.4 114.0h0.72M191.1 82.1h0.72M183.8 81.0h0.72M173.0 74.3h0.72M189.1 94.5h0.72M173.4 112.0h0.72M170.2 92.9h0.72M179.4 91.9h0.72M172.7 80.8h0.72M152.0 76.1h0.72M192.1 99.2h0.72M145.4 73.8h0.72M173.1 94.2h0.72M193.0 118.9h0.72M148.0 112.8h0.72M192.7 109.0h0.72M191.2 86.0h0.72M175.3 105.2h0.72M183.5 107.1h0.72M184.7 83.3h0.72M183.5 99.6h0.72M191.6 82.4h0.72M174.9 116.2h0.72M181.7 105.9h0.72M151.6 71.8h0.72M160.1 103.1h0.72M146.1 103.6h0.72M150.4 74.2h0.72M158.1 96.6h0.72M179.7 121.6h0.72M155.7 67.4h0.72M186.5 99.2h0.72M189.5 107.1h0.72M150.9 84.8h0.72M155.2 90.4h0.72M158.5 116.3h0.72M188.4 73.9h0.72M193.5 122.6h0.72M163.4 117.1h0.72M190.9 108.3h0.72M162.3 101.7h0.72M182.1 83.4h0.72M167.8 67.6h0.72M152.2 112.1h0.72M159.6 106.2h0.72M165.5 106.8h0.72M158.5 67.5h0.72M177.2 78.2h0.72M154.5 91.2h0.72M168.8 118.1h0.72M178.7 89.4h0.72M166.1 99.8h0.72M150.9 80.8h0.72M174.1 121.2h0.72M173.9 75.2h0.72M191.9 112.2h0.72M155.4 85.2h0.72M146.1 110.0h0.72M155.2 114.1h0.72M179.7 110.9h0.72M172.2 77.3h0.72M146.3 99.4h0.72M145.1 94.7h0.72M182.4 70.8h0.72M165.9 96.1h0.72M151.9 74.7h0.72M174.4 72.9h0.72M152.0 75.9h0.72M190.4 118.5h0.72M150.0 98.1h0.72M164.6 63.9h0.72M156.8 103.0h0.72M145.5 122.4h0.72M158.5 83.9h0.72M191.0 70.8h0.72M150.9 91.8h0.72M159.8 82.1h0.72M173.1 121.9h0.72M164.8 64.8h0.72M162.8 115.7h0.72M165.7 65.8h0.72M156.7 76.3h0.72M161.7 82.0h0.72M177.4 107.3h0.72M146.7 71.2h0.72M184.8 117.2h0.72M183.1 73.2h0.72M178.5 66.7h0.72M177.6 75.9h0.72M185.6 115.1h0.72M167.4 107.7h0.72M190.8 118.3h0.72M176.2 100.8h0.72M162.0 105.1h0.72M151.4 90.9h0.72M148.7 67.8h0.72M177.2 88.9h0.72M154.7 121.8h0.72M158.7 96.0h0.72M168.5 73.6h0.72M193.2 109.8h0.72M188.2 80.9h0.72M189.1 119.3h0.72M190.6 73.2h0.72M152.1 67.3h0.72M148.9 106.2h0.72M147.0 91.3h0.72M161.9 107.9h0.72M146.8 107.4h0.72M191.4 80.7h0.72M164.3 108.7h0.72M159.5 115.3h0.72M193.3 76.0h0.72M167.5 71.2h0.72M171.8 86.8h0.72M192.1 107.8h0.72M193.1 113.1h0.72M184.9 86.1h0.72M177.1 69.1h0.72M161.6 120.0h0.72M192.5 72.9h0.72M168.7 87.5h0.72M174.9 99.4h0.72M157.3 117.4h0.72M166.6 110.9h0.72M179.9 123.8h0.72M169.7 99.1h0.72M182.3 76.5h0.72M146.7 113.2h0.72M178.5 109.2h0.72M183.7 74.6h0.72M187.5 102.3h0.72M190.8 97.0h0.72M186.9 65.6h0.72M152.6 96.8h0.72M177.2 86.3h0.72M148.0 117.8h0.72M148.0 118.0h0.72M155.9 106.5h0.72M173.6 76.9h0.72M160.6 77.2h0.72M170.6 79.5h0.72M171.1 79.8h0.72M150.4 105.9h0.72M157.3 121.8h0.72M164.4 78.5h0.72M179.7 118.8h0.72M162.6 108.2h0.72M160.7 124.6h0.72M159.2 64.3h0.72M144.7 96.2h0.72M175.1 80.0h0.72M164.8 87.7h0.72M162.3 73.9h0.72M171.2 104.0h0.72M145.8 117.5h0.72M157.2 91.9h0.72M155.2 104.4h0.72M164.4 98.6h0.72M164.5 94.0h0.72M148.7 123.8h0.72M165.4 82.9h0.72M186.0 80.5h0.72M183.3 88.7h0.72M150.2 98.2h0.72M158.2 74.7h0.72M193.0 121.0h0.72M167.6 112.9h0.72M177.3 81.1h0.72M150.8 98.6h0.72M153.8 109.6h0.72M173.6 75.9h0.72M182.6 123.0h0.72M168.0 123.1h0.72M166.5 63.1h0.72M167.1 84.2h0.72M189.5 94.9h0.72M191.6 72.2h0.72M163.3 62.9h0.72M147.0 106.8h0.72M146.1 76.0h0.72M165.8 120.0h0.72M156.1 62.3h0.72M178.9 105.9h0.72M151.3 120.5h0.72M186.9 121.0h0.72M184.9 96.4h0.72M178.9 69.8h0.72M176.0 84.3h0.72M161.0 81.7h0.72M148.5 113.1h0.72M182.0 62.6h0.72M169.6 63.4h0.72M171.2 72.5h0.72M191.6 82.1h0.72M170.2 78.5h0.72M188.8 62.5h0.72M159.3 76.2h0.72M181.1 85.4h0.72M186.7 82.6h0.72M150.7 90.7h0.72M148.7 71.6h0.72M170.1 98.2h0.72M155.0 73.3h0.72M170.1 90.1h0.72M168.1 104.3h0.72M151.4 62.7h0.72M147.7 112.1h0.72M178.9 71.7h0.72M160.7 81.4h0.72M189.7 88.0h0.72M179.5 67.4h0.72M146.5 76.2h0.72M175.9 90.2h0.72M187.2 113.8h0.72M177.1 124.8h0.72M191.5 117.6h0.72M148.9 87.2h0.72M151.6 100.6h0.72M169.3 67.8h0.72M148.4 91.3h0.72M175.1 87.6h0.72M167.6 102.0h0.72M178.7 106.6h0.72M164.8 72.8h0.72M187.1 64.6h0.72M154.6 74.0h0.72M173.6 101.2h0.72M149.4 94.4h0.72M172.7 105.3h0.72M148.1 107.8h0.72M157.7 86.2h0.72M150.6 115.1h0.72M174.8 113.2h0.72M169.7 69.0h0.72M164.2 67.0h0.72M149.3 112.8h0.72M144.5 86.5h0.72M146.5 110.2h0.72M193.0 64.1h0.72M162.3 123.5h0.72M156.8 81.5h0.72M192.9 120.0h0.72M163.4 104.2h0.72M183.4 84.3h0.72M144.6 85.6h0.72M178.4 122.8h0.72M166.1 87.9h0.72M163.2 100.2h0.72M145.6 119.5h0.72M191.3 64.0h0.72M144.8 81.8h0.72M151.7 110.5h0.72M187.1 96.4h0.72M190.8 76.4h0.72M154.1 86.2h0.72M166.6 74.5h0.72M189.6 109.3h0.72M158.6 76.3h0.72M158.4 86.9h0.72M176.6 110.9h0.72M191.0 67.1h0.72M154.1 85.9h0.72M191.1 90.8h0.72M179.7 114.2h0.72M167.1 85.8h0.72M182.5 102.3h0.72M193.2 79.1h0.72M191.2 92.6h0.72M187.1 102.4h0.72M172.1 115.9h0.72M148.4 79.7h0.72M168.4 113.6h0.72M153.6 111.1h0.72M148.8 84.1h0.72M167.2 107.0h0.72M170.1 115.5h0.72M178.4 86.2h0.72M170.0 86.5h0.72M187.3 81.1h0.72M153.4 77.4h0.72M156.8 113.0h0.72M178.2 77.5h0.72M165.1 118.4h0.72M191.6 76.0h0.72M190.7 65.7h0.72M193.4 82.2h0.72M191.3 64.0h0.72M178.2 120.2h0.72M184.7 98.0h0.72M152.1 76.9h0.72M190.7 116.6h0.72M155.3 83.7h0.72M174.5 81.1h0.72M155.0 116.7h0.72M149.9 101.9h0.72M164.4 91.6h0.72M187.2 109.0h0.72M182.4 63.0h0.72M184.2 111.9h0.72M144.5 76.2h0.72M180.3 116.8h0.72M170.9 118.0h0.72M148.8 78.4h0.72M184.7 112.0h0.72M155.4 97.9h0.72M166.0 108.5h0.72M164.0 82.1h0.72M181.8 105.8h0.72M162.2 107.0h0.72M157.4 93.5h0.72M153.7 83.7h0.72M165.0 67.6h0.72M159.8 84.2h0.72M160.5 93.9h0.72M188.6 115.5h0.72M159.0 70.5h0.72M148.8 117.8h0.72M181.7 108.5h0.72M189.0 87.3h0.72M152.9 67.7h0.72M164.1 110.4h0.72M148.7 89.6h0.72M148.5 75.5h0.72M171.6 103.0h0.72M190.7 82.2h0.72M155.9 65.9h0.72M153.7 64.2h0.72M144.6 69.3h0.72M170.8 90.8h0.72M188.9 92.6h0.72M148.8 71.2h0.72M178.8 123.7h0.72M181.2 76.8h0.72M161.4 89.6h0.72M165.7 79.8h0.72M152.1 63.7h0.72M187.6 123.4h0.72M192.4 85.9h0.72M178.2 75.0h0.72M150.0 62.2h0.72M160.8 112.3h0.72M170.4 76.7h0.72M168.1 96.1h0.72M154.1 90.2h0.72M190.0 90.2h0.72M193.0 107.6h0.72M150.8 119.9h0.72M178.4 89.9h0.72M153.8 103.5h0.72M153.8 91.1h0.72M151.9 88.1h0.72M191.9 99.7h0.72M169.6 101.0h0.72M176.6 100.0h0.72M158.5 75.4h0.72M174.2 120.5h0.72M187.2 92.8h0.72M159.0 99.0h0.72M146.8 93.3h0.72M182.9 123.0h0.72M149.0 74.6h0.72M168.0 100.4h0.72M191.7 68.8h0.72M150.8 92.5h0.72M183.4 63.8h0.72M163.1 106.8h0.72M165.1 73.3h0.72M148.0 109.9h0.72M169.5 95.9h0.72M178.0 110.1h0.72M164.2 85.0h0.72M189.5 66.8h0.72M182.6 91.0h0.72M170.6 77.8h0.72M190.7 81.1h0.72M160.2 65.7h0.72M188.2 114.3h0.72M147.0 71.3h0.72M158.6 63.8h0.72M168.9 115.4h0.72M179.8 93.7h0.72M192.5 81.2h0.72M160.1 78.7h0.72M174.0 91.4h0.72M150.6 93.0h0.72M191.9 117.3h0.72M175.1 116.3h0.72M168.3 93.3h0.72M178.6 74.7h0.72M173.6 93.6h0.72M159.1 93.3h0.72M153.2 102.5h0.72M150.1 90.1h0.72M147.2 96.0h0.72M149.3 113.9h0.72M145.4 112.8h0.72M159.1 122.1h0.72M160.6 71.1h0.72M177.3 77.3h0.72M184.3 92.1h0.72M157.6 99.2h0.72M155.4 78.7h0.72M148.5 77.0h0.72M155.2 72.0h0.72M164.9 90.3h0.72M173.6 96.7h0.72M177.9 100.7h0.72M167.6 115.8h0.72M151.4 79.3h0.72M145.1 119.3h0.72M187.6 87.7h0.72M185.8 97.4h0.72M190.1 118.8h0.72M160.7 79.6h0.72M164.9 122.2h0.72M167.4 84.8h0.72M145.7 86.2h0.72M189.8 88.4h0.72M183.5 118.5h0.72M190.4 108.2h0.72M168.8 80.9h0.72M190.6 112.7h0.72M180.9 65.5h0.72M176.3 105.5h0.72M151.1 82.6h0.72M166.8 78.0h0.72M149.8 71.6h0.72M166.9 62.8h0.72M183.4 88.3h0.72M158.2 77.8h0.72M160.0 99.7h0.72M179.5 89.1h0.72M179.5 98.1h0.72M184.3 107.9h0.72M182.0 63.5h0.72M161.7 69.3h0.72M185.2 72.3h0.72M189.8 83.6h0.72M152.0 105.9h0.72M153.6 84.9h0.72M166.0 101.9h0.72M169.9 103.8h0.72M183.3 122.9h0.72M174.9 88.9h0.72M168.8 83.9h0.72M185.4 96.4h0.72M178.6 113.6h0.72M178.6 117.9h0.72M166.7 105.9h0.72M187.9 92.7h0.72M184.7 79.6h0.72M152.3 115.7h0.72M171.5 122.6h0.72M173.8 78.2h0.72M150.5 118.6h0.72M156.9 72.4h0.72M170.4 107.2h0.72M172.6 65.0h0.72M182.8 104.5h0.72M160.4 120.1h0.72M168.7 110.4h0.72M149.0 81.4h0.72M181.5 105.1h0.72M178.9 105.7h0.72M145.9 115.9h0.72M146.5 77.3h0.72M159.3 93.5h0.72M149.2 89.0h0.72M151.4 83.1h0.72M161.4 69.1h0.72M183.8 63.9h0.72M154.4 118.3h0.72M164.4 121.6h0.72M159.6 94.7h0.72M170.3 87.5h0.72M193.0 87.3h0.72M183.6 93.9h0.72M161.6 115.3h0.72M189.8 63.0h0.72M173.8 109.5h0.72M169.4 87.5h0.72M179.7 71.9h0.72M167.8 74.6h0.72M186.9 111.5h0.72M163.9 111.5h0.72M171.1 103.2h0.72M156.2 110.6h0.72M176.3 124.8h0.72M157.4 87.3h0.72M182.7 78.3h0.72M182.0 115.5h0.72M152.6 107.9h0.72M158.7 79.2h0.72M161.8 111.1h0.72M175.8 86.2h0.72M177.9 113.1h0.72M154.1 116.5h0.72M170.0 102.1h0.72M186.7 75.5h0.72M167.4 106.7h0.72M145.3 86.7h0.72M171.0 90.3h0.72M169.2 114.7h0.72M150.1 107.4h0.72M158.3 67.3h0.72M167.1 70.1h0.72M167.0 72.6h0.72M166.3 70.6h0.72M193.3 75.2h0.72M166.2 100.1h0.72M177.5 70.2h0.72M186.0 85.4h0.72M148.6 89.1h0.72M175.0 84.7h0.72M180.2 81.6h0.72M184.5 120.8h0.72M184.5 65.9h0.72M165.1 95.5h0.72M163.3 73.7h0.72M173.3 69.5h0.72M152.7 88.3h0.72M193.3 86.2h0.72M191.8 104.4h0.72M176.2 119.6h0.72M173.1 108.6h0.72M167.6 112.1h0.72M187.4 62.1h0.72M190.3 64.0h0.72M175.9 66.6h0.72M181.6 89.3h0.72M151.2 115.1h0.72M156.6 118.8h0.72M163.3 97.2h0.72M166.3 110.0h0.72M161.9 94.3h0.72M155.8 83.2h0.72M149.9 78.5h0.72M158.1 105.4h0.72M151.6 71.7h0.72M192.2 102.4h0.72M148.7 116.5h0.72M181.7 100.4h0.72M191.6 95.6h0.72M151.3 62.7h0.72M148.9 91.2h0.72M171.6 114.5h0.72M148.0 66.5h0.72M149.2 84.9h0.72M190.4 111.2h0.72M146.6 99.2h0.72M153.4 76.2h0.72M160.3 77.5h0.72M159.0 76.1h0.72M161.4 99.2h0.72M172.1 107.9h0.72M158.2 63.7h0.72M172.5 81.7h0.72M154.8 87.8h0.72M190.9 99.7h0.72M179.6 64.8h0.72M171.1 106.1h0.72M186.9 109.9h0.72M147.0 124.2h0.72M145.3 110.5h0.72M167.6 120.5h0.72M190.9 109.1h0.72M148.6 102.8h0.72M150.3 88.8h0.72M150.9 81.0h0.72M147.1 96.0h0.72M149.0 77.4h0.72M182.6 80.5h0.72M172.9 116.5h0.72M175.7 113.6h0.72M190.2 77.5h0.72M153.6 124.6h0.72M189.5 82.3h0.72M189.9 67.4h0.72M155.6 116.4h0.72M149.6 116.3h0.72M155.4 110.5h0.72M150.7 93.6h0.72M172.7 97.2h0.72M186.8 64.2h0.72M179.2 115.7h0.72M170.1 76.8h0.72M183.6 89.1h0.72M157.3 110.7h0.72M181.9 113.9h0.72M168.7 62.9h0.72M145.7 96.8h0.72M146.3 101.2h0.72M151.0 110.9h0.72M189.3 101.3h0.72M145.9 109.4h0.72M172.6 96.2h0.72M178.2 100.1h0.72M177.6 103.4h0.72M150.5 116.2h0.72M169.6 87.6h0.72M170.2 102.8h0.72M152.7 89.0h0.72M172.2 111.5h0.72M176.3 122.6h0.72M164.7 117.0h0.72M164.6 95.3h0.72M164.2 108.1h0.72M153.6 99.1h0.72M169.3 111.2h0.72M161.5 109.1h0.72M157.3 102.4h0.72M168.2 112.2h0.72M190.1 98.2h0.72M172.2 120.5h0.72M178.3 98.3h0.72M171.6 89.9h0.72M154.0 94.0h0.72M181.3 96.9h0.72M166.6 104.4h0.72M162.0 94.0h0.72M164.7 110.4h0.72M162.0 103.7h0.72M170.1 105.3h0.72M159.9 114.8h0.72M173.1 116.2h0.72M166.7 85.7h0.72M172.4 87.9h0.72M156.4 117.0h0.72M170.5 96.6h0.72M163.5 105.4h0.72M158.7 102.4h0.72M155.3 107.9h0.72M190.0 112.6h0.72M163.4 91.6h0.72M168.9 97.5h0.72M152.7 104.4h0.72M169.3 109.4h0.72M174.0 80.8h0.72M156.0 108.1h0.72M171.1 110.2h0.72M146.6 105.7h0.72M158.0 101.1h0.72M153.2 113.7h0.72M177.5 104.9h0.72M145.4 102.0h0.72M164.4 107.8h0.72M156.6 103.2h0.72M160.6 82.6h0.72M153.6 121.0h0.72M178.4 90.7h0.72M177.5 103.3h0.72M152.9 113.5h0.72M155.8 103.0h0.72M165.6 105.9h0.72M158.5 108.0h0.72M165.3 105.8h0.72M171.3 97.1h0.72M184.4 103.4h0.72M168.8 96.6h0.72M147.5 96.0h0.72M151.0 103.3h0.72M164.9 88.1h0.72M156.8 107.7h0.72M171.2 109.9h0.72M159.8 103.7h0.72M161.6 109.6h0.72M154.5 104.6h0.72M167.5 100.4h0.72M148.5 119.5h0.72M173.0 94.3h0.72M151.8 103.2h0.72M173.6 116.0h0.72M186.5 105.0h0.72M166.3 109.8h0.72M153.1 99.9h0.72M173.5 104.3h0.72M168.9 94.1h0.72M169.1 90.2h0.72M179.6 101.4h0.72M155.3 101.6h0.72M154.4 118.5h0.72M165.6 106.3h0.72M150.5 94.9h0.72M169.0 99.3h0.72M173.1 112.2h0.72M163.5 109.2h0.72M168.0 105.6h0.72M157.3 107.7h0.72M172.0 103.4h0.72M158.3 92.1h0.72M148.8 121.3h0.72M181.0 103.8h0.72M169.8 101.8h0.72M175.8 110.8h0.72M161.4 107.6h0.72M180.1 86.9h0.72M150.8 101.6h0.72M147.3 103.4h0.72M152.2 102.9h0.72M172.7 92.0h0.72M166.8 116.3h0.72M168.3 92.4h0.72M156.0 116.4h0.72M161.3 99.1h0.72M177.4 95.3h0.72M148.1 112.8h0.72M165.6 98.1h0.72M172.5 112.7h0.72M182.0 101.8h0.72M172.4 107.2h0.72M155.1 100.9h0.72M152.6 97.6h0.72M182.2 100.9h0.72M156.4 89.1h0.72M167.9 103.1h0.72M149.4 106.1h0.72M146.5 112.1h0.72M166.8 84.5h0.72M148.1 101.3h0.72M177.5 107.2h0.72M175.0 117.4h0.72M160.9 100.2h0.72M174.0 94.8h0.72M151.9 115.2h0.72M185.2 84.0h0.72M172.6 102.6h0.72M179.3 98.3h0.72M163.5 117.2h0.72M156.2 109.5h0.72M175.0 101.2h0.72M178.8 106.2h0.72M178.1 86.2h0.72M149.4 109.7h0.72M183.3 113.7h0.72M165.5 97.2h0.72M148.5 89.5h0.72M157.6 110.7h0.72M164.2 90.8h0.72M163.8 104.8h0.72M153.8 119.4h0.72M172.1 112.8h0.72M166.9 94.9h0.72M182.0 111.0h0.72M156.3 93.6h0.72M177.9 96.5h0.72M147.5 106.6h0.72M173.8 95.6h0.72M165.9 113.0h0.72M176.8 87.7h0.72M176.3 118.1h0.72M179.5 100.6h0.72M171.0 88.7h0.72M156.3 101.0h0.72M150.4 122.2h0.72M184.2 85.5h0.72M162.3 89.2h0.72M181.3 80.4h0.72M173.6 105.7h0.72M178.5 92.6h0.72M178.8 99.0h0.72M173.3 104.6h0.72M186.6 88.3h0.72M162.8 110.6h0.72M146.8 108.3h0.72M176.4 117.4h0.72M157.6 114.0h0.72M185.9 90.6h0.72M161.1 87.9h0.72M151.9 110.5h0.72M176.4 115.0h0.72M155.9 84.8h0.72M149.8 112.4h0.72M165.0 110.5h0.72M160.7 110.9h0.72M150.4 97.9h0.72M162.9 88.6h0.72M184.3 98.2h0.72M150.3 99.0h0.72M150.5 107.9h0.72M159.7 113.0h0.72M147.7 106.7h0.72M186.1 99.0h0.72M178.9 100.9h0.72M148.6 99.1h0.72M148.1 110.4h0.72M190.8 107.0h0.72M150.4 107.9h0.72M154.3 116.8h0.72M144.7 114.9h0.72M146.6 103.3h0.72M167.9 104.8h0.72M164.4 103.6h0.72M152.1 105.5h0.72M164.2 95.7h0.72M174.0 104.0h0.72M153.7 118.1h0.72M156.5 88.3h0.72M184.6 97.0h0.72M187.7 103.8h0.72M151.7 116.8h0.72M172.3 111.2h0.72M165.9 118.2h0.72M179.5 98.3h0.72M166.3 94.8h0.72M162.3 118.3h0.72M158.0 115.7h0.72M151.0 97.8h0.72M179.6 99.8h0.72M168.6 112.8h0.72M190.2 88.0h0.72M174.2 104.4h0.72M167.5 120.1h0.72M161.6 99.3h0.72M173.0 84.0h0.72M170.9 94.8h0.72M170.2 96.3h0.72M173.0 100.3h0.72M154.3 111.0h0.72M176.7 87.2h0.72M145.5 105.3h0.72M159.4 117.3h0.72M189.5 103.9h0.72M182.0 97.9h0.72M169.1 114.0h0.72M155.4 91.1h0.72M162.1 109.1h0.72M161.9 100.0h0.72M166.4 102.1h0.72M186.5 88.0h0.72M169.3 89.2h0.72M164.6 108.2h0.72M170.3 105.9h0.72M153.7 92.9h0.72M179.8 98.1h0.72M176.5 76.1h0.72M170.2 114.5h0.72M165.4 88.7h0.72M162.7 100.6h0.72M169.6 101.5h0.72M173.8 91.2h0.72M156.8 100.9h0.72M171.5 87.1h0.72M166.7 112.9h0.72M190.6 78.6h0.72M193.3 80.5h0.72M179.7 74.8h0.72M182.8 66.9h0.72M188.6 86.3h0.72M169.6 75.6h0.72M175.8 87.6h0.72M185.6 76.0h0.72M170.9 73.3h0.72M189.9 75.4h0.72M188.4 74.9h0.72M187.1 62.4h0.72M193.2 76.4h0.72M187.6 81.2h0.72M189.0 83.1h0.72M183.3 73.2h0.72M191.4 75.1h0.72M191.6 89.9h0.72M186.5 77.3h0.72M184.5 81.3h0.72M192.0 68.9h0.72M181.4 64.5h0.72M187.6 77.5h0.72M185.8 75.0h0.72M191.2 98.7h0.72M191.2 78.1h0.72M185.4 83.5h0.72M184.9 69.7h0.72M177.2 78.9h0.72M189.2 81.3h0.72M182.6 64.1h0.72M192.6 85.6h0.72M174.3 65.5h0.72M185.5 68.4h0.72M188.2 68.3h0.72M177.4 75.6h0.72M191.1 68.6h0.72M190.3 63.5h0.72M187.2 72.8h0.72M186.1 75.3h0.72M179.1 63.1h0.72M182.9 83.1h0.72M181.8 67.0h0.72M186.7 67.5h0.72M192.3 91.4h0.72M185.6 83.7h0.72M189.2 94.9h0.72M179.1 79.5h0.72M186.9 72.2h0.72M186.3 82.7h0.72M186.5 74.7h0.72M192.1 74.8h0.72M181.9 79.6h0.72M184.5 70.1h0.72M190.5 98.1h0.72M183.4 66.8h0.72M174.5 80.5h0.72M189.5 67.9h0.72M186.5 85.5h0.72M186.0 83.7h0.72M191.4 83.4h0.72M192.4 96.7h0.72M179.1 79.5h0.72M180.6 98.5h0.72M185.5 72.5h0.72M189.8 75.6h0.72M192.2 86.3h0.72M192.6 63.2h0.72M185.5 73.3h0.72M187.3 72.4h0.72M185.5 91.1h0.72M189.4 65.4h0.72M192.0 73.9h0.72M188.9 80.8h0.72M191.7 90.6h0.72M178.4 75.1h0.72M179.9 82.5h0.72M182.7 72.8h0.72M186.4 80.4h0.72M178.7 62.4h0.72M191.6 89.2h0.72M185.6 80.0h0.72M192.3 77.1h0.72M189.8 70.6h0.72M187.9 87.7h0.72M183.7 77.2h0.72M184.4 63.1h0.72M192.1 62.2h0.72M187.8 74.8h0.72M186.6 85.9h0.72M192.0 71.7h0.72M183.8 73.3h0.72M181.1 74.3h0.72M189.0 87.0h0.72M186.2 99.7h0.72M185.5 77.3h0.72M189.7 70.0h0.72M183.6 82.5h0.72M175.4 91.8h0.72M186.2 82.8h0.72M186.6 90.7h0.72M183.8 77.6h0.72M192.0 81.7h0.72M187.0 75.3h0.72M185.0 79.8h0.72M179.9 76.4h0.72M191.1 75.6h0.72M175.5 69.0h0.72M186.1 78.0h0.72M162.8 81.5h0.72M187.2 65.3h0.72M187.5 82.3h0.72M183.3 79.5h0.72M178.3 76.9h0.72M180.0 83.5h0.72M180.9 82.0h0.72M172.8 77.7h0.72M190.4 67.5h0.72M190.9 81.2h0.72M191.6 63.1h0.72M177.5 72.7h0.72M169.3 79.6h0.72M193.3 85.1h0.72M192.2 71.6h0.72M189.1 74.0h0.72M188.9 79.0h0.72M185.3 75.6h0.72M185.0 67.4h0.72M192.9 67.8h0.72M172.6 75.7h0.72M190.3 86.7h0.72M190.7 85.9h0.72M191.2 63.3h0.72M190.9 84.4h0.72M180.4 92.9h0.72M193.4 78.2h0.72M170.9 85.2h0.72M189.0 68.2h0.72M193.2 69.8h0.72M190.8 66.5h0.72M182.5 70.7h0.72M170.6 73.6h0.72M178.5 77.5h0.72M188.0 76.1h0.72M190.2 71.3h0.72M190.9 75.3h0.72M183.7 72.8h0.72M185.0 63.1h0.72M191.3 87.4h0.72M192.9 87.8h0.72M188.5 79.7h0.72M192.3 72.1h0.72M187.6 80.3h0.72M187.7 74.0h0.72M181.7 79.6h0.72M188.1 69.0h0.72M179.9 75.0h0.72M188.3 78.9h0.72M189.0 78.4h0.72M186.0 82.8h0.72M182.1 92.9h0.72M157.8 62.2h0.72M188.8 79.6h0.72M191.6 71.8h0.72M178.6 70.4h0.72M180.7 78.4h0.72M177.8 78.1h0.72M181.6 72.5h0.72M189.7 65.3h0.72M186.8 87.0h0.72M175.9 94.7h0.72M190.1 80.5h0.72M192.6 66.4h0.72M187.4 69.8h0.72M187.6 99.7h0.72M176.6 70.9h0.72M184.1 83.7h0.72M172.8 87.6h0.72M189.0 71.4h0.72M188.7 76.4h0.72M184.6 78.7h0.72M178.7 84.0h0.72M185.3 85.0h0.72M189.6 95.3h0.72M185.5 69.3h0.72M187.4 92.7h0.72M185.4 75.7h0.72M183.7 73.9h0.72M182.4 64.7h0.72M192.0 82.5h0.72M181.5 67.7h0.72M180.7 81.5h0.72M192.4 86.0h0.72M177.5 66.7h0.72M188.9 71.5h0.72M192.6 87.1h0.72M191.0 68.0h0.72M189.5 68.8h0.72M184.2 94.4h0.72M188.1 75.3h0.72M179.0 78.3h0.72M179.8 77.0h0.72M189.8 70.2h0.72M177.1 67.7h0.72M191.4 73.1h0.72M189.8 70.2h0.72M193.3 71.2h0.72M184.1 79.2h0.72M187.2 88.0h0.72M184.0 64.2h0.72M187.9 86.2h0.72M188.7 82.4h0.72M191.8 87.5h0.72M186.5 80.6h0.72M188.0 90.2h0.72M192.8 79.5h0.72M181.4 71.0h0.72M188.4 62.8h0.72M189.5 71.3h0.72M191.0 76.9h0.72M174.9 91.7h0.72M182.7 67.2h0.72M183.0 83.4h0.72M180.2 92.1h0.72M187.2 79.3h0.72M189.9 95.0h0.72M181.7 75.0h0.72M185.7 78.7h0.72M188.1 80.4h0.72M184.3 89.0h0.72M184.1 67.4h0.72M180.2 74.0h0.72M180.1 83.0h0.72M184.0 81.1h0.72M176.5 84.8h0.72M192.3 98.8h0.72M191.3 92.2h0.72M186.0 76.0h0.72M192.1 77.8h0.72M188.0 86.0h0.72M177.3 71.4h0.72M178.0 63.4h0.72M181.1 86.5h0.72M191.3 83.0h0.72M189.0 86.1h0.72M186.5 88.9h0.72M177.3 65.1h0.72M192.2 65.7h0.72M188.5 74.4h0.72M191.1 71.4h0.72M183.5 80.3h0.72M191.3 81.2h0.72M181.0 72.0h0.72M192.7 75.1h0.72M187.9 81.2h0.72M189.4 73.6h0.72M189.0 80.0h0.72M173.4 101.7h0.72M182.2 64.8h0.72M177.9 96.4h0.72M190.0 80.9h0.72M188.4 73.5h0.72M192.2 68.7h0.72M187.1 75.4h0.72M174.2 82.1h0.72M191.8 81.5h0.72M184.9 83.4h0.72M186.0 83.7h0.72M177.6 76.7h0.72M181.1 95.2h0.72M191.7 63.4h0.72M176.9 89.1h0.72M181.4 80.1h0.72M187.2 74.6h0.72M186.2 76.1h0.72M184.3 65.2h0.72M182.4 81.7h0.72M191.4 86.1h0.72M193.2 77.2h0.72M190.2 78.3h0.72M190.4 82.6h0.72M182.6 86.6h0.72M183.7 84.1h0.72M189.1 81.4h0.72M184.6 82.3h0.72M188.8 76.6h0.72M175.3 71.1h0.72M184.7 68.8h0.72M180.3 71.3h0.72M189.2 88.4h0.72M178.9 81.3h0.72M182.8 90.7h0.72M180.1 89.4h0.72M178.3 75.4h0.72M181.7 76.1h0.72M191.8 81.7h0.72M187.7 67.4h0.72M181.6 76.7h0.72M187.5 76.1h0.72M184.7 100.5h0.72M184.0 90.1h0.72M182.6 68.4h0.72M179.9 65.4h0.72M175.9 68.0h0.72M188.0 82.9h0.72M174.6 80.4h0.72M189.1 76.0h0.72M171.4 80.8h0.72M187.5 88.2h0.72M190.7 67.1h0.72M192.1 75.8h0.72M187.9 82.6h0.72M174.4 79.0h0.72M178.9 71.0h0.72M191.8 88.2h0.72M189.9 67.0h0.72M166.6 75.1h0.72M183.7 70.1h0.72M190.9 63.0h0.72M186.5 78.1h0.72M180.0 78.0h0.72M193.1 87.7h0.72M193.3 68.3h0.72M191.1 87.3h0.72M184.6 76.7h0.72M172.0 90.6h0.72M181.1 94.7h0.72M191.9 78.8h0.72M186.5 90.9h0.72M184.2 70.9h0.72M187.4 71.7h0.72M190.5 78.1h0.72M159.6 71.3h0.72M183.9 72.1h0.72M168.0 78.8h0.72M193.0 91.0h0.72M186.7 79.3h0.72M172.1 75.2h0.72M184.6 95.7h0.72M189.0 87.2h0.72M178.2 86.7h0.72M188.0 95.8h0.72M191.1 62.7h0.72M182.7 89.8h0.72M176.7 84.3h0.72M182.8 71.1h0.72M185.7 86.8h0.72M186.2 71.0h0.72M187.6 81.6h0.72M188.5 85.9h0.72M184.1 68.1h0.72M193.4 62.3h0.72M183.1 77.4h0.72M193.0 71.6h0.72M189.2 88.3h0.72M186.8 76.1h0.72M175.3 82.9h0.72M176.3 76.7h0.72M178.6 79.6h0.72M188.7 82.5h0.72M186.7 83.5h0.72M184.3 86.3h0.72M184.7 84.0h0.72M188.2 78.3h0.72M183.9 82.3h0.72M177.3 73.0h0.72M177.4 80.1h0.72M179.2 87.1h0.72M185.9 75.2h0.72M184.9 87.9h0.72M192.8 70.2h0.72M191.5 72.7h0.72M185.0 75.4h0.72M193.3 106.1h0.72M193.2 92.9h0.72M180.5 92.9h0.72M186.9 95.3h0.72M182.8 86.6h0.72M185.0 88.8h0.72M182.7 86.6h0.72M193.4 65.0h0.72M189.0 66.0h0.72M191.9 84.8h0.72M182.7 84.2h0.72M174.1 77.1h0.72M192.4 66.3h0.72M191.4 62.6h0.72M170.3 75.1h0.72M193.0 86.7h0.72M184.9 71.8h0.72M185.4 65.0h0.72M178.8 80.1h0.72M182.0 83.8h0.72M185.9 75.4h0.72M189.3 90.6h0.72M192.9 74.4h0.72M184.5 86.3h0.72M184.1 80.2h0.72M183.6 66.7h0.72M184.1 89.5h0.72M203.2 114.8h0.72M217.6 76.8h0.72M208.2 84.9h0.72M221.5 76.8h0.72M194.6 76.1h0.72M220.3 101.1h0.72M214.4 92.8h0.72M213.6 89.0h0.72M208.5 103.0h0.72M216.1 121.3h0.72M211.7 114.0h0.72M198.1 74.8h0.72M219.5 66.1h0.72M206.6 77.3h0.72M209.0 81.1h0.72M219.3 68.5h0.72M217.0 122.2h0.72M205.1 112.8h0.72M211.1 76.2h0.72M208.3 70.0h0.72M202.3 66.7h0.72M198.6 117.8h0.72M208.0 116.5h0.72M206.6 81.4h0.72M207.4 84.8h0.72M221.3 64.2h0.72M199.1 75.8h0.72M208.0 86.5h0.72M197.0 100.4h0.72M218.6 96.4h0.72M203.1 93.4h0.72M200.5 64.7h0.72M202.2 86.1h0.72M215.6 87.8h0.72M218.4 69.5h0.72M202.4 73.1h0.72M216.0 72.5h0.72M209.5 93.8h0.72M214.4 95.1h0.72M201.7 121.7h0.72M207.3 72.3h0.72M209.0 94.4h0.72M196.2 64.6h0.72M207.7 107.2h0.72M203.8 102.5h0.72M200.9 107.8h0.72M216.2 95.6h0.72M219.7 87.7h0.72M204.3 62.6h0.72M204.2 110.1h0.72M215.5 89.1h0.72M206.2 100.2h0.72M195.1 94.9h0.72M217.6 70.0h0.72M195.7 93.3h0.72M210.9 85.8h0.72M205.4 120.9h0.72M221.8 123.8h0.72M198.4 82.2h0.72M201.0 119.2h0.72M211.1 97.1h0.72M196.0 112.1h0.72M221.3 76.4h0.72M201.8 62.7h0.72M217.5 76.9h0.72M198.3 116.9h0.72M212.7 90.0h0.72M200.4 122.2h0.72M203.3 108.5h0.72M211.7 86.4h0.72M221.2 88.2h0.72M200.9 76.3h0.72M194.5 90.4h0.72M220.0 107.9h0.72M203.4 81.1h0.72M216.4 113.8h0.72M202.4 77.8h0.72M201.0 113.2h0.72M207.1 104.5h0.72M212.8 112.4h0.72M208.9 63.6h0.72M212.4 77.2h0.72M217.9 98.8h0.72M213.1 105.3h0.72M217.8 113.5h0.72M219.7 114.0h0.72M200.7 109.0h0.72M203.5 109.4h0.72M209.4 98.2h0.72M196.2 73.5h0.72M197.1 68.2h0.72M218.2 119.3h0.72M203.5 90.7h0.72M209.9 105.8h0.72M195.9 123.3h0.72M194.4 69.2h0.72M214.1 82.7h0.72M211.7 97.2h0.72M207.2 94.6h0.72M216.7 87.5h0.72M215.3 99.1h0.72M218.7 68.7h0.72M201.9 63.5h0.72M194.3 96.2h0.72M206.5 73.5h0.72M197.9 74.6h0.72M218.9 97.3h0.72M205.4 97.8h0.72M205.9 93.0h0.72M195.6 124.0h0.72M210.2 107.6h0.72M219.1 68.3h0.72M195.2 76.1h0.72M198.4 74.3h0.72M204.7 114.3h0.72M210.4 107.4h0.72M207.7 120.3h0.72M218.6 70.2h0.72M212.7 121.9h0.72M216.8 96.7h0.72M204.8 67.6h0.72M201.2 67.7h0.72M195.5 111.0h0.72M207.9 85.1h0.72M213.8 82.1h0.72M219.6 76.6h0.72M199.2 75.9h0.72M220.7 117.7h0.72M199.2 120.5h0.72M194.5 106.0h0.72M206.6 76.3h0.72M210.5 76.1h0.72M208.5 108.9h0.72M205.5 118.8h0.72M219.0 73.5h0.72M199.5 62.7h0.72M203.5 66.7h0.72M202.1 69.6h0.72M207.2 78.2h0.72M219.9 112.2h0.72M203.6 95.8h0.72M195.9 65.9h0.72M216.8 67.5h0.72M204.0 76.9h0.72M199.5 75.7h0.72M199.8 120.8h0.72M200.3 103.0h0.72M200.3 120.7h0.72M219.0 94.1h0.72M220.4 107.7h0.72M219.1 94.9h0.72M195.7 66.8h0.72M217.4 122.5h0.72M205.4 117.9h0.72M219.3 81.8h0.72M215.1 111.1h0.72M212.6 76.6h0.72M195.0 82.9h0.72M201.2 94.9h0.72M203.6 87.2h0.72M202.5 70.7h0.72M201.5 104.0h0.72M201.5 118.3h0.72M218.3 90.9h0.72M201.9 103.2h0.72M218.8 113.5h0.72M199.5 75.4h0.72M194.9 121.4h0.72M201.5 86.8h0.72M215.3 80.3h0.72M214.1 63.1h0.72M205.1 63.7h0.72M216.9 80.0h0.72M216.7 109.6h0.72M196.7 80.9h0.72M216.1 105.1h0.72M205.5 70.3h0.72M198.3 84.0h0.72M207.5 103.2h0.72M218.3 105.6h0.72M209.3 95.3h0.72M211.0 65.3h0.72M194.7 96.3h0.72M205.8 116.6h0.72M200.1 83.9h0.72M200.7 103.2h0.72M216.4 68.3h0.72M204.5 104.9h0.72M214.6 110.5h0.72M198.2 107.4h0.72M206.3 117.9h0.72M199.1 114.8h0.72M219.6 100.3h0.72M198.3 83.9h0.72M204.0 117.5h0.72M198.4 88.1h0.72M204.0 95.5h0.72M214.3 63.9h0.72M200.1 67.2h0.72M207.5 102.8h0.72M209.5 74.8h0.72M218.5 121.3h0.72M211.6 92.7h0.72M200.1 80.4h0.72M198.8 102.6h0.72M201.2 94.9h0.72M204.1 102.7h0.72M215.6 103.0h0.72M211.5 104.6h0.72M218.5 83.1h0.72M208.8 85.6h0.72M207.4 90.3h0.72M207.8 100.7h0.72M198.3 63.9h0.72M208.9 104.6h0.72M204.4 109.2h0.72M205.6 98.6h0.72M212.2 76.2h0.72M210.4 70.0h0.72M199.9 95.3h0.72M209.2 79.6h0.72M207.4 107.2h0.72M196.0 99.1h0.72M215.6 77.9h0.72M215.1 97.8h0.72M205.0 93.1h0.72M206.8 93.3h0.72M205.7 84.7h0.72M213.1 111.8h0.72M205.8 108.6h0.72M201.9 78.7h0.72M211.3 95.6h0.72M210.1 82.2h0.72M204.4 104.2h0.72M217.8 95.8h0.72M209.6 63.6h0.72M202.7 107.4h0.72M219.8 83.7h0.72M198.3 88.2h0.72M203.0 88.8h0.72M200.6 100.2h0.72M209.1 78.3h0.72M196.4 116.1h0.72M210.8 95.3h0.72M195.7 117.0h0.72M200.1 94.3h0.72M209.3 84.8h0.72M207.9 87.8h0.72M202.8 87.0h0.72M209.9 111.4h0.72M205.4 117.2h0.72M204.1 94.2h0.72M205.5 74.1h0.72M206.5 90.6h0.72M201.4 101.3h0.72M209.7 89.5h0.72M201.1 96.3h0.72M201.6 83.4h0.72M203.6 103.5h0.72M205.1 91.1h0.72M204.7 99.6h0.72M205.9 102.2h0.72M205.9 102.4h0.72M205.0 84.6h0.72M209.7 90.7h0.72M203.9 109.0h0.72M203.6 84.3h0.72M204.7 109.0h0.72M198.0 106.0h0.72M210.4 88.5h0.72M204.6 84.9h0.72M197.5 75.1h0.72M203.9 99.6h0.72M200.6 89.3h0.72M201.7 90.7h0.72M209.5 106.5h0.72M210.8 97.2h0.72M216.0 101.0h0.72M210.1 99.4h0.72M212.3 81.5h0.72M200.9 94.0h0.72M194.9 90.0h0.72M204.6 96.6h0.72M211.4 107.6h0.72M209.0 109.1h0.72M202.6 97.7h0.72M205.7 82.5h0.72M208.4 103.8h0.72M204.4 94.1h0.72M214.0 91.0h0.72M204.6 96.4h0.72M209.7 97.6h0.72M215.0 98.0h0.72M198.7 74.9h0.72M206.1 111.8h0.72M207.0 88.2h0.72M208.5 99.0h0.72M215.0 78.8h0.72M211.8 95.2h0.72M212.2 105.2h0.72M210.0 84.3h0.72M205.8 104.9h0.72M196.7 102.9h0.72M212.0 112.7h0.72M201.1 86.2h0.72M213.3 89.9h0.72M209.4 63.9h0.72M195.7 98.7h0.72M210.0 84.0h0.72M208.2 82.8h0.72M207.5 86.6h0.72M199.8 100.9h0.72M206.6 93.5h0.72M198.4 85.2h0.72M204.8 86.4h0.72M208.9 93.4h0.72M205.1 91.2h0.72M209.3 104.4h0.72M199.4 103.8h0.72M212.6 101.9h0.72M202.9 95.4h0.72M220.7 78.2h0.72M212.2 90.1h0.72M217.7 94.6h0.72M212.3 86.1h0.72M203.3 111.1h0.72M198.1 87.2h0.72M204.9 79.1h0.72M210.8 79.3h0.72M206.9 90.4h0.72M196.3 93.4h0.72M212.1 96.1h0.72M214.1 111.3h0.72M211.5 90.9h0.72M205.8 100.1h0.72M198.3 81.4h0.72M206.5 112.6h0.72M199.2 95.8h0.72M201.9 101.1h0.72M208.9 92.6h0.72M212.7 90.2h0.72M195.5 116.6h0.72M205.9 96.5h0.72M211.8 83.9h0.72M203.5 84.6h0.72M210.4 97.5h0.72M207.9 78.4h0.72M201.1 76.8h0.72M197.5 84.7h0.72M208.6 98.6h0.72M194.6 100.1h0.72M209.0 110.8h0.72M212.3 76.1h0.72M209.9 95.6h0.72M208.8 84.8h0.72M216.2 94.1h0.72M202.7 72.7h0.72M204.9 77.5h0.72M196.8 111.3h0.72M206.2 104.0h0.72M214.0 101.3h0.72M203.7 79.8h0.72M205.5 94.4h0.72M205.6 89.6h0.72M207.5 76.8h0.72M213.7 79.7h0.72M207.4 83.1h0.72M215.7 86.7h0.72M200.4 88.8h0.72M212.5 79.0h0.72M197.9 87.0h0.72M212.8 118.5h0.72M205.4 103.5h0.72M205.7 72.0h0.72M203.7 99.9h0.72M199.1 89.6h0.72M202.2 97.4h0.72M197.9 111.8h0.72M204.6 88.2h0.72M209.9 101.6h0.72M208.1 96.9h0.72M207.8 79.3h0.72M211.9 102.8h0.72M201.3 73.0h0.72M202.6 95.0h0.72M216.1 95.5h0.72M207.0 95.7h0.72M196.4 88.8h0.72M207.5 100.8h0.72M212.1 111.7h0.72M202.0 88.0h0.72M203.6 98.5h0.72M220.1 95.0h0.72M207.7 82.5h0.72M198.0 113.1h0.72M206.0 109.0h0.72M212.2 87.3h0.72M208.3 82.6h0.72M210.9 91.2h0.72M211.9 107.1h0.72M202.7 102.0h0.72M209.6 86.9h0.72M208.5 107.1h0.72M207.7 104.0h0.72M209.0 107.3h0.72M205.8 89.1h0.72M210.9 66.8h0.72M203.2 110.4h0.72M201.6 114.0h0.72M217.5 87.3h0.72M201.6 97.4h0.72M212.8 112.8h0.72M217.0 84.8h0.72M212.5 87.1h0.72M214.0 98.2h0.72M216.4 91.9h0.72M212.3 78.4h0.72M200.1 98.7h0.72M207.4 102.9h0.72M198.7 80.8h0.72M202.5 106.1h0.72M209.3 89.5h0.72M211.3 91.0h0.72M208.4 92.7h0.72M197.5 102.2h0.72M207.9 118.3h0.72M207.4 86.0h0.72M207.9 84.5h0.72M206.5 88.6h0.72M209.0 82.3h0.72M206.0 88.1h0.72M200.1 92.0h0.72M211.4 101.2h0.72M208.9 91.5h0.72M213.2 89.6h0.72M211.3 73.0h0.72M198.6 84.4h0.72M214.5 89.8h0.72M209.9 80.2h0.72M196.5 124.9h0.72M218.0 112.9h0.72M206.8 85.2h0.72M208.5 90.0h0.72M203.6 64.4h0.72M208.3 67.5h0.72M203.3 75.2h0.72M220.4 78.0h0.72M204.1 97.0h0.72M204.6 95.6h0.72M213.1 85.4h0.72M210.3 91.2h0.72M197.8 96.0h0.72M199.5 104.6h0.72M206.8 94.7h0.72M213.6 83.2h0.72M201.4 109.2h0.72M211.7 97.6h0.72M200.3 85.7h0.72M195.6 73.8h0.72M203.8 97.0h0.72M203.3 90.6h0.72M207.4 108.1h0.72M202.8 94.1h0.72M212.5 78.9h0.72M199.6 87.5h0.72M216.6 86.8h0.72M198.2 71.0h0.72M208.0 104.8h0.72M201.4 87.9h0.72M199.2 84.2h0.72M213.9 86.3h0.72M199.6 99.6h0.72M208.7 92.0h0.72M221.1 96.0h0.72M214.9 78.3h0.72M206.4 107.2h0.72M212.1 103.1h0.72M196.6 89.3h0.72M218.6 109.4h0.72M216.4 101.7h0.72M207.5 101.7h0.72M215.5 81.4h0.72M214.3 101.7h0.72M203.3 110.8h0.72M215.8 102.8h0.72M203.7 95.8h0.72M206.7 111.7h0.72M221.0 97.6h0.72M202.1 84.2h0.72M217.8 96.2h0.72M202.2 90.3h0.72M204.2 91.0h0.72M219.7 84.6h0.72M210.5 103.4h0.72M221.5 85.4h0.72M204.8 87.9h0.72M198.1 92.5h0.72M201.4 89.9h0.72M208.0 101.2h0.72M207.4 120.2h0.72M209.3 98.5h0.72M210.7 91.4h0.72M213.8 94.3h0.72M197.4 86.4h0.72M217.5 73.9h0.72M219.5 93.8h0.72M208.8 106.8h0.72M208.6 87.0h0.72M198.6 100.5h0.72M207.7 81.6h0.72M215.4 102.6h0.72M198.2 93.6h0.72M212.4 102.6h0.72M197.5 97.9h0.72M211.8 97.0h0.72M195.4 87.1h0.72M206.1 89.8h0.72M213.5 88.0h0.72M193.8 68.0h0.72M210.4 83.1h0.72M206.7 105.1h0.72M203.2 92.0h0.72M196.6 78.5h0.72M211.2 105.7h0.72M202.3 90.2h0.72M209.4 87.3h0.72M207.5 87.8h0.72M211.3 86.4h0.72M203.6 76.7h0.72M201.5 75.2h0.72M206.0 103.8h0.72M197.8 82.5h0.72M201.5 97.6h0.72M204.8 88.6h0.72M200.1 89.2h0.72M204.5 83.0h0.72M217.1 97.9h0.72M205.9 95.8h0.72M203.2 91.9h0.72M215.2 97.5h0.72M205.0 93.4h0.72M199.0 88.5h0.72M204.1 89.4h0.72M216.8 92.6h0.72M215.4 92.2h0.72M196.2 106.1h0.72M203.1 90.9h0.72M214.9 108.1h0.72M208.2 106.7h0.72M203.5 99.6h0.72M200.5 103.4h0.72M203.0 99.6h0.72M198.4 108.6h0.72M218.7 89.2h0.72M207.5 81.3h0.72M205.6 75.7h0.72M212.2 91.4h0.72M215.4 92.2h0.72M205.4 82.7h0.72M211.6 90.7h0.72M198.4 75.2h0.72M213.9 91.0h0.72M206.5 85.9h0.72M203.2 92.0h0.72M208.4 78.6h0.72M215.1 84.8h0.72M197.2 98.2h0.72M202.6 92.1h0.72M218.9 92.2h0.72M216.6 83.3h0.72M193.9 87.7h0.72M204.2 99.8h0.72M210.2 69.7h0.72M199.0 87.2h0.72M201.8 84.8h0.72M204.6 93.9h0.72M196.2 81.6h0.72M200.5 105.7h0.72M205.8 75.3h0.72M210.5 102.6h0.72M195.4 78.3h0.72M210.2 92.7h0.72M211.4 110.2h0.72M211.8 103.4h0.72M203.5 108.0h0.72M202.0 95.9h0.72M212.6 81.7h0.72M203.6 67.6h0.72M204.5 77.3h0.72M207.4 86.6h0.72M202.1 88.3h0.72M204.0 92.0h0.72M205.1 104.9h0.72M214.6 63.7h0.72M216.6 89.6h0.72M209.6 81.8h0.72M211.4 98.5h0.72M203.0 79.3h0.72M210.7 97.0h0.72M200.5 67.9h0.72M199.0 96.5h0.72M216.1 81.0h0.72M202.9 79.8h0.72M209.5 83.1h0.72M219.1 98.6h0.72M205.6 87.4h0.72M214.3 87.5h0.72M204.3 93.2h0.72M214.6 108.0h0.72M204.6 78.2h0.72M200.5 90.1h0.72M211.6 62.5h0.72M211.7 96.5h0.72M208.5 75.3h0.72M207.8 86.2h0.72M200.4 98.7h0.72M216.0 94.0h0.72M211.2 103.1h0.72M207.3 87.2h0.72M217.7 85.0h0.72M205.0 95.7h0.72M204.1 81.2h0.72M214.9 91.7h0.72M202.2 85.4h0.72M211.3 101.0h0.72M208.6 104.8h0.72M207.1 109.7h0.72M213.6 79.1h0.72M206.5 95.6h0.72M207.1 80.9h0.72M210.5 91.2h0.72M196.7 77.6h0.72M204.4 102.2h0.72M206.9 94.0h0.72M213.9 89.4h0.72M207.3 91.1h0.72M213.6 84.6h0.72M209.9 83.8h0.72M207.8 104.2h0.72M201.7 97.3h0.72M207.8 94.4h0.72M210.9 92.8h0.72M210.7 112.0h0.72M202.4 79.9h0.72M212.5 96.2h0.72M221.2 84.9h0.72M212.3 85.8h0.72M203.9 85.3h0.72M201.6 81.4h0.72M205.0 90.1h0.72M207.6 100.9h0.72M201.0 90.9h0.72M201.2 101.1h0.72M200.9 88.0h0.72M201.8 103.8h0.72M198.9 79.2h0.72M204.6 87.9h0.72M200.9 104.4h0.72M203.5 68.7h0.72M205.9 77.2h0.72M202.7 86.4h0.72M201.0 87.2h0.72M204.5 98.7h0.72M204.1 104.4h0.72M219.0 100.5h0.72M205.5 113.4h0.72M207.9 105.1h0.72M203.5 78.2h0.72M216.5 82.1h0.72M200.1 93.4h0.72M200.9 99.3h0.72M207.8 89.6h0.72M203.4 108.1h0.72M216.7 104.5h0.72M198.3 110.2h0.72M208.0 110.9h0.72M210.9 84.4h0.72M195.9 84.5h0.72M215.5 86.9h0.72M218.6 77.7h0.72M211.7 90.6h0.72M197.7 96.1h0.72M204.5 88.7h0.72M202.7 90.2h0.72M201.6 114.5h0.72M204.4 94.2h0.72M205.0 106.0h0.72M211.2 103.0h0.72M196.7 93.7h0.72M206.2 99.0h0.72M202.7 93.5h0.72M200.5 88.0h0.72M209.7 86.3h0.72M201.4 90.4h0.72M209.4 96.5h0.72M199.1 87.2h0.72M199.2 80.8h0.72M212.0 88.7h0.72M213.1 109.1h0.72M215.6 100.0h0.72M199.1 95.5h0.72M216.2 82.4h0.72M212.2 78.2h0.72M204.8 60.4h0.72M226.2 97.2h0.72M213.4 80.8h0.72M208.6 81.5h0.72M207.2 74.3h0.72M214.8 60.3h0.72M222.4 71.6h0.72M214.1 80.2h0.72M224.3 89.4h0.72M196.0 66.7h0.72M210.3 60.9h0.72M214.7 73.9h0.72M201.0 82.2h0.72M199.5 68.6h0.72M208.5 82.4h0.72M206.7 72.0h0.72M210.5 71.8h0.72M190.4 82.9h0.72M213.3 84.4h0.72M209.8 79.0h0.72M192.2 63.2h0.72M189.6 85.1h0.72M201.7 86.4h0.72M212.7 71.1h0.72M207.5 68.1h0.72M204.1 77.9h0.72M215.1 70.8h0.72M192.9 84.7h0.72M197.5 81.1h0.72M193.5 67.2h0.72M188.8 80.6h0.72M212.7 101.6h0.72M226.8 76.1h0.72M188.2 73.0h0.72M210.9 78.1h0.72M209.9 66.3h0.72M205.3 91.2h0.72M202.9 71.6h0.72M196.5 69.6h0.72M220.1 78.1h0.72M203.2 71.8h0.72M216.3 70.1h0.72M200.4 72.3h0.72M183.1 84.8h0.72M200.2 81.5h0.72M208.1 83.7h0.72M203.0 96.1h0.72M213.6 73.1h0.72M205.5 93.6h0.72M211.5 62.4h0.72M192.9 78.2h0.72M214.4 73.2h0.72M222.5 77.1h0.72M228.1 82.2h0.72M215.6 81.7h0.72M222.9 80.1h0.72M212.1 77.7h0.72M210.2 79.8h0.72M224.0 61.2h0.72M203.8 62.4h0.72M202.4 77.4h0.72M210.0 78.3h0.72M215.4 78.7h0.72M204.9 73.9h0.72M197.6 71.2h0.72M207.1 78.2h0.72M192.5 84.5h0.72M207.4 61.7h0.72M206.5 79.9h0.72M209.0 71.4h0.72M199.3 76.9h0.72M209.7 77.6h0.72M204.3 85.5h0.72M190.1 74.9h0.72M192.0 58.3h0.72M209.8 82.1h0.72M205.2 78.8h0.72M206.2 84.8h0.72M202.2 79.6h0.72M211.3 61.5h0.72M219.5 70.0h0.72M196.8 69.3h0.72M216.4 71.5h0.72M215.7 66.9h0.72M210.5 60.2h0.72M205.1 86.0h0.72M202.8 76.5h0.72M190.1 89.2h0.72M205.7 78.8h0.72M204.1 66.1h0.72M204.5 72.2h0.72M197.7 73.6h0.72M198.3 70.8h0.72M180.1 66.6h0.72M211.0 76.8h0.72M205.5 78.5h0.72M224.7 78.0h0.72M209.1 74.2h0.72M211.2 80.4h0.72M186.1 92.9h0.72M217.2 79.0h0.72M201.9 74.0h0.72M200.3 86.3h0.72M201.1 61.2h0.72M205.6 67.7h0.72M209.7 76.2h0.72M199.5 61.9h0.72M204.5 64.0h0.72M205.9 76.4h0.72M203.9 76.3h0.72M203.8 88.9h0.72M190.4 65.7h0.72M218.7 64.6h0.72M213.8 73.1h0.72M207.7 63.0h0.72M203.7 73.7h0.72M186.8 75.1h0.72M209.2 71.9h0.72M192.8 84.6h0.72M206.4 65.3h0.72M198.9 77.4h0.72M202.2 80.9h0.72M195.4 77.1h0.72M212.0 79.3h0.72M199.6 66.9h0.72M196.4 75.6h0.72M187.3 98.4h0.72M204.8 85.0h0.72M204.4 86.0h0.72M204.9 83.4h0.72M217.2 77.3h0.72M195.2 78.4h0.72M208.9 72.3h0.72M205.2 80.7h0.72M187.4 79.5h0.72M223.0 69.2h0.72M219.3 71.0h0.72M204.5 71.9h0.72M207.2 68.4h0.72M201.6 72.9h0.72M198.5 74.3h0.72M217.3 67.9h0.72M209.3 68.5h0.72M196.3 74.7h0.72M204.6 83.2h0.72M214.2 75.6h0.72M201.1 86.2h0.72M194.7 68.4h0.72M214.4 78.2h0.72M213.4 73.0h0.72M214.4 84.6h0.72M188.8 79.2h0.72M216.7 66.2h0.72M198.2 77.9h0.72M213.3 74.7h0.72M191.6 76.6h0.72M206.4 71.7h0.72M208.3 69.8h0.72M212.9 72.1h0.72M224.0 76.3h0.72M202.2 61.2h0.72M204.8 74.4h0.72M222.5 77.9h0.72M209.1 67.2h0.72M209.4 66.7h0.72M193.8 78.5h0.72M203.1 63.6h0.72M218.4 84.9h0.72M211.7 61.1h0.72M199.3 66.7h0.72M209.8 103.1h0.72M216.1 73.9h0.72M199.3 63.2h0.72M200.4 76.2h0.72M205.0 79.0h0.72M212.4 65.3h0.72M215.4 75.0h0.72M222.9 73.6h0.72M204.0 73.8h0.72M219.2 79.0h0.72M218.7 83.4h0.72M210.6 94.1h0.72M206.6 72.8h0.72M218.2 65.1h0.72M210.5 83.0h0.72M198.9 59.0h0.72M193.8 84.2h0.72M231.5 67.3h0.72M194.9 64.3h0.72M222.6 81.1h0.72M214.1 68.7h0.72M213.9 68.6h0.72M213.0 68.4h0.72M195.4 71.0h0.72M211.6 77.4h0.72M202.3 82.3h0.72M192.1 58.4h0.72M213.4 73.4h0.72M207.2 70.9h0.72M212.7 76.6h0.72M220.9 66.8h0.72M195.5 73.6h0.72M205.2 72.2h0.72M186.9 77.7h0.72M223.9 77.7h0.72M219.6 79.6h0.72M210.2 78.0h0.72M218.2 78.5h0.72M214.0 74.2h0.72M200.5 77.6h0.72M203.8 79.5h0.72M186.2 89.4h0.72M220.5 87.3h0.72M211.6 65.9h0.72M203.9 65.0h0.72M211.8 74.8h0.72M209.4 59.3h0.72M221.5 78.9h0.72M208.4 71.7h0.72M190.5 71.6h0.72M203.9 67.7h0.72M209.5 81.4h0.72M215.8 62.2h0.72M180.7 86.2h0.72M221.8 73.3h0.72M205.4 77.5h0.72M218.5 75.7h0.72M204.7 76.5h0.72M211.7 91.8h0.72M208.3 67.0h0.72M226.7 87.2h0.72M222.5 66.8h0.72M202.3 63.2h0.72M206.9 85.8h0.72M217.3 75.1h0.72M210.4 78.8h0.72M206.8 65.9h0.72M201.4 88.5h0.72M199.0 65.2h0.72M213.8 71.9h0.72M204.9 76.0h0.72M206.9 60.9h0.72M217.5 76.5h0.72M225.1 81.8h0.72M202.6 71.1h0.72M215.5 69.1h0.72M218.0 76.2h0.72M207.2 88.3h0.72M199.1 89.4h0.72M204.6 92.7h0.72M219.8 70.4h0.72M225.7 78.3h0.72M211.8 71.4h0.72M207.9 71.3h0.72M205.1 81.4h0.72M216.5 85.1h0.72M220.3 74.1h0.72M215.9 72.7h0.72M214.1 80.0h0.72M212.2 68.1h0.72M196.9 89.1h0.72M200.7 69.6h0.72M212.3 71.6h0.72M212.7 86.2h0.72M193.3 75.6h0.72M214.4 63.1h0.72M215.8 87.1h0.72M208.9 78.8h0.72M205.6 83.0h0.72M203.5 74.9h0.72M202.0 68.8h0.72M219.9 74.4h0.72M217.4 61.5h0.72M196.9 67.3h0.72M227.3 84.6h0.72M230.5 71.1h0.72M214.6 77.9h0.72M206.0 79.8h0.72M208.3 78.8h0.72M191.1 66.1h0.72M198.8 88.9h0.72M217.3 66.8h0.72M213.5 70.1h0.72M197.5 67.1h0.72M207.7 85.2h0.72M211.4 65.6h0.72M229.8 93.2h0.72M216.4 67.7h0.72M208.0 75.8h0.72M197.7 96.9h0.72M208.7 70.2h0.72M206.0 72.1h0.72M183.8 76.0h0.72M220.1 76.7h0.72M213.0 74.2h0.72M191.4 79.8h0.72M215.3 66.2h0.72M197.5 70.0h0.72M204.7 69.9h0.72M209.8 84.8h0.72M199.7 61.9h0.72M207.6 80.5h0.72M222.8 82.7h0.72M209.9 75.2h0.72M191.6 80.6h0.72M216.3 74.2h0.72M205.7 78.3h0.72M212.9 79.2h0.72M212.7 62.1h0.72M203.1 61.1h0.72M216.4 96.4h0.72M200.8 73.7h0.72M211.1 69.0h0.72M225.3 76.6h0.72M229.8 93.9h0.72M213.4 68.5h0.72M221.6 72.6h0.72M200.6 73.1h0.72M219.7 68.2h0.72M206.4 82.1h0.72M205.8 82.2h0.72M220.6 70.7h0.72M197.0 65.0h0.72M221.1 79.4h0.72M209.3 71.6h0.72M219.1 70.9h0.72M235.3 77.5h0.72M192.8 83.6h0.72M211.1 74.7h0.72M206.8 84.8h0.72M203.8 87.8h0.72M201.1 82.4h0.72M193.8 82.8h0.72M199.0 72.8h0.72M215.9 68.4h0.72M213.8 74.8h0.72M221.4 82.3h0.72M211.0 73.2h0.72M199.7 86.5h0.72M206.2 64.4h0.72M200.6 59.1h0.72M199.9 71.1h0.72M210.9 82.4h0.72M216.6 59.7h0.72M203.8 79.7h0.72M211.8 74.6h0.72M200.7 80.6h0.72M207.6 72.7h0.72M207.3 72.8h0.72M211.4 83.8h0.72M209.1 69.5h0.72M207.3 73.5h0.72M213.3 81.0h0.72M224.6 82.1h0.72M191.8 67.7h0.72M196.0 77.2h0.72M231.4 78.5h0.72M202.9 86.2h0.72M214.5 68.0h0.72M199.0 86.9h0.72M201.0 79.4h0.72M195.1 74.7h0.72M199.7 60.9h0.72M203.3 70.3h0.72M211.1 60.5h0.72M210.9 71.7h0.72M192.6 84.7h0.72M203.9 78.2h0.72M223.7 78.1h0.72M217.5 76.5h0.72M202.6 76.3h0.72M192.8 78.7h0.72M216.5 78.3h0.72M201.6 64.7h0.72M201.0 72.3h0.72M194.2 90.6h0.72M200.3 75.8h0.72M203.6 75.8h0.72M187.0 66.2h0.72M208.0 74.4h0.72M212.2 70.3h0.72M216.4 76.5h0.72M207.8 74.9h0.72M218.7 74.4h0.72M223.6 75.8h0.72M210.7 74.7h0.72M211.2 78.6h0.72M202.1 81.3h0.72M233.6 79.2h0.72M209.4 68.1h0.72M200.7 67.9h0.72M210.8 69.0h0.72M224.1 71.2h0.72M199.4 67.2h0.72M207.3 73.5h0.72M217.4 68.7h0.72M211.5 82.6h0.72M205.4 60.3h0.72M210.6 83.2h0.72M212.1 74.8h0.72M189.1 88.1h0.72M206.3 64.9h0.72M204.9 76.0h0.72M208.6 67.3h0.72M232.0 85.0h0.72M218.1 80.0h0.72M204.3 65.0h0.72M195.6 83.6h0.72M209.0 88.2h0.72M185.8 85.7h0.72M212.8 70.2h0.72M216.9 69.2h0.72M205.4 79.0h0.72M209.7 77.1h0.72M210.3 83.3h0.72M199.8 58.1h0.72M227.4 69.2h0.72M207.8 77.5h0.72M200.5 70.6h0.72M210.7 74.8h0.72M216.2 72.7h0.72M201.5 62.6h0.72M191.4 76.9h0.72M211.3 71.3h0.72M214.5 64.8h0.72M204.8 72.8h0.72M200.7 72.3h0.72M210.9 94.5h0.72M208.2 80.6h0.72M216.3 66.8h0.72M212.9 71.3h0.72M217.0 69.9h0.72M218.8 67.3h0.72M203.5 81.7h0.72M218.3 81.9h0.72M227.9 83.2h0.72M208.1 82.5h0.72M199.9 81.4h0.72M212.1 73.5h0.72M201.0 83.5h0.72M188.2 73.3h0.72M194.1 71.8h0.72M203.8 67.8h0.72M202.1 77.1h0.72M227.7 89.1h0.72M206.2 71.2h0.72M214.2 67.7h0.72M193.4 82.8h0.72M204.1 87.3h0.72M211.5 62.6h0.72M211.1 78.7h0.72M208.7 63.4h0.72M193.2 90.2h0.72M180.3 66.7h0.72M216.1 89.6h0.72M214.6 74.5h0.72M211.9 84.2h0.72M202.9 85.3h0.72M210.6 76.4h0.72M212.5 77.3h0.72M199.0 87.6h0.72M203.3 72.5h0.72M184.8 61.0h0.72M213.8 73.9h0.72M207.1 71.6h0.72M214.3 69.3h0.72M193.4 61.2h0.72M200.2 77.3h0.72M222.4 79.4h0.72M201.4 63.7h0.72M216.4 78.9h0.72M207.6 79.9h0.72M214.0 78.9h0.72M221.3 61.9h0.72M201.7 70.3h0.72M198.3 91.1h0.72M211.7 78.2h0.72M216.0 72.7h0.72M216.5 73.0h0.72M215.6 79.4h0.72M221.1 62.1h0.72M199.0 68.4h0.72M200.0 77.9h0.72M217.8 71.8h0.72M218.8 82.1h0.72M202.3 80.2h0.72M222.4 70.7h0.72M186.4 79.3h0.72M211.0 79.9h0.72M213.3 74.3h0.72M208.1 68.0h0.72M227.6 87.7h0.72M206.8 67.6h0.72M212.5 88.1h0.72M208.7 67.9h0.72M217.6 76.9h0.72M200.3 72.9h0.72M209.8 65.5h0.72M211.1 85.4h0.72M218.7 85.2h0.72M215.7 74.0h0.72M214.4 85.0h0.72M208.7 79.1h0.72M202.1 74.9h0.72M203.5 65.9h0.72M212.2 93.3h0.72M191.5 70.8h0.72M210.2 68.6h0.72M209.9 81.9h0.72M192.2 74.0h0.72M214.1 79.6h0.72M226.4 76.5h0.72M220.6 70.1h0.72M199.4 70.4h0.72M204.0 82.3h0.72M215.8 75.0h0.72M199.5 76.1h0.72M204.2 71.7h0.72M191.2 88.0h0.72M214.1 99.7h0.72M234.9 75.3h0.72M230.3 71.4h0.72M235.9 74.5h0.72M190.2 74.8h0.72M216.3 89.2h0.72M218.0 89.7h0.72M210.2 62.2h0.72M210.0 67.5h0.72M198.7 65.2h0.72M209.5 83.6h0.72M205.4 64.0h0.72M203.4 73.6h0.72M219.9 75.9h0.72M226.1 93.4h0.72M203.3 97.7h0.72M193.1 82.8h0.72M195.5 69.8h0.72M213.4 76.8h0.72M211.3 73.4h0.72M190.1 61.3h0.72M200.0 66.5h0.72M203.8 60.6h0.72M207.2 79.0h0.72M203.5 86.2h0.72M210.5 82.8h0.72M199.6 76.7h0.72M194.3 59.0h0.72M191.0 71.5h0.72M210.8 92.9h0.72M211.6 71.8h0.72M218.9 75.9h0.72M208.5 76.1h0.72M218.1 88.5h0.72M194.3 75.8h0.72M203.7 75.1h0.72M232.0 73.0h0.72M184.0 82.2h0.72M203.7 67.1h0.72M230.5 91.9h0.72M218.6 77.1h0.72M201.2 87.3h0.72M206.0 76.9h0.72M206.7 76.3h0.72M188.6 64.6h0.72M196.8 70.7h0.72M206.5 74.2h0.72M204.1 83.8h0.72M187.7 70.4h0.72M206.0 67.6h0.72M222.1 73.9h0.72M219.4 79.6h0.72M205.7 83.3h0.72M193.8 64.5h0.72M204.1 73.2h0.72M191.0 66.1h0.72M195.3 95.0h0.72M220.9 80.0h0.72M210.5 86.2h0.72M209.4 85.4h0.72M217.2 92.9h0.72M219.0 70.1h0.72M214.5 84.4h0.72M215.1 93.5h0.72M211.3 71.4h0.72M217.3 84.6h0.72M208.3 79.3h0.72M209.8 77.1h0.72M212.1 71.5h0.72M215.8 78.0h0.72M225.8 77.5h0.72M209.6 64.5h0.72M231.0 72.9h0.72M203.4 72.6h0.72M208.5 74.0h0.72M225.4 70.8h0.72M206.2 71.1h0.72M214.5 61.0h0.72M218.4 71.8h0.72M194.2 87.4h0.72M195.2 80.8h0.72M208.6 69.2h0.72M191.9 68.8h0.72M216.0 74.3h0.72M202.7 83.1h0.72M208.8 75.5h0.72M199.8 63.1h0.72M203.8 77.3h0.72M204.3 77.5h0.72M205.9 72.8h0.72M208.0 77.8h0.72M186.1 74.7h0.72M206.4 71.0h0.72M218.2 84.6h0.72M219.9 81.0h0.72M213.0 75.9h0.72M216.0 69.2h0.72M207.1 77.5h0.72M206.9 64.3h0.72M207.5 71.3h0.72M202.0 80.0h0.72M219.1 75.5h0.72M196.9 73.3h0.72M206.5 65.9h0.72M202.3 75.9h0.72M202.5 78.5h0.72M195.3 80.2h0.72M201.4 75.8h0.72M208.6 70.4h0.72M218.8 59.7h0.72M210.4 80.1h0.72M205.9 74.2h0.72M196.9 74.3h0.72M210.0 69.7h0.72M208.5 71.6h0.72M198.1 74.0h0.72M200.5 82.0h0.72M200.5 86.4h0.72M208.1 74.4h0.72M201.0 78.3h0.72M198.0 61.7h0.72M219.7 70.2h0.72M224.1 76.6h0.72M224.8 62.4h0.72M203.9 76.8h0.72M202.7 75.2h0.72M206.7 80.1h0.72M214.6 64.9h0.72M224.7 62.2h0.72M199.9 78.9h0.72M206.6 80.3h0.72M212.0 68.1h0.72M191.9 84.3h0.72M206.1 73.7h0.72M205.2 72.4h0.72M201.0 75.0h0.72M210.8 64.2h0.72M192.4 79.2h0.72M217.1 70.0h0.72M206.6 70.4h0.72M212.3 73.9h0.72M202.7 68.2h0.72M212.8 77.6h0.72M203.9 77.9h0.72M177.1 70.9h0.72M202.4 76.5h0.72M221.0 77.8h0.72M195.8 82.0h0.72M205.5 81.4h0.72M194.2 60.9h0.72M192.2 79.5h0.72M220.3 76.6h0.72M210.1 73.6h0.72M210.3 66.0h0.72M220.7 81.2h0.72M218.0 73.9h0.72M216.8 82.7h0.72M233.7 83.5h0.72M200.8 67.9h0.72M217.1 78.7h0.72M213.9 75.0h0.72M200.1 75.7h0.72M193.6 76.9h0.72M231.4 80.6h0.72M199.7 67.3h0.72M232.7 80.0h0.72M203.1 79.4h0.72M205.0 65.7h0.72M209.8 78.8h0.72M221.5 64.1h0.72M223.3 72.5h0.72M188.2 82.8h0.72M218.4 79.0h0.72M216.8 67.1h0.72M213.6 60.9h0.72M201.7 95.6h0.72M225.2 77.8h0.72M213.5 75.3h0.72M214.8 76.3h0.72M198.9 71.6h0.72M188.9 67.3h0.72M206.7 77.7h0.72M231.1 61.1h0.72M229.8 71.0h0.72M204.0 73.9h0.72M230.7 65.6h0.72M204.5 79.1h0.72M218.1 77.8h0.72M209.6 82.8h0.72M198.4 87.7h0.72M203.4 77.7h0.72M199.0 69.5h0.72M218.5 79.3h0.72M206.5 81.3h0.72M187.4 76.1h0.72M190.9 83.0h0.72M200.0 74.6h0.72M199.9 91.7h0.72M224.0 60.5h0.72M215.2 72.1h0.72M223.4 77.4h0.72M200.8 71.0h0.72M208.9 88.7h0.72M209.4 70.3h0.72M204.4 81.6h0.72M205.3 89.2h0.72M217.5 75.9h0.72M209.5 71.9h0.72M184.2 84.4h0.72M223.9 72.9h0.72M211.3 63.4h0.72M206.4 76.1h0.72M207.6 75.1h0.72M218.6 80.5h0.72M216.5 69.8h0.72M203.2 74.7h0.72M192.1 62.7h0.72M211.8 74.7h0.72M209.3 84.5h0.72M186.5 78.0h0.72M206.1 63.8h0.72M215.3 86.3h0.72M193.3 75.0h0.72M218.3 75.0h0.72M203.8 82.7h0.72M190.9 74.3h0.72M201.8 74.0h0.72M195.6 76.1h0.72M221.1 78.4h0.72M195.2 70.4h0.72M200.7 62.3h0.72M216.0 78.8h0.72M206.6 86.9h0.72M215.8 69.8h0.72M208.9 73.5h0.72M208.4 85.6h0.72M221.4 66.7h0.72M228.6 61.4h0.72M205.7 94.9h0.72M215.5 84.4h0.72M209.9 78.9h0.72M201.8 86.9h0.72M206.4 70.3h0.72M193.2 92.9h0.72M193.2 66.2h0.72M213.5 75.0h0.72M226.2 79.9h0.72M211.9 68.2h0.72M214.1 62.8h0.72M200.7 86.2h0.72M211.3 65.1h0.72M202.0 73.6h0.72M211.7 76.4h0.72M215.9 59.2h0.72M203.8 75.8h0.72M219.3 69.6h0.72M194.9 67.9h0.72M211.1 94.7h0.72M195.8 70.5h0.72M201.2 84.2h0.72M214.3 73.5h0.72M211.7 87.9h0.72M205.6 65.4h0.72M208.8 64.5h0.72M210.8 82.0h0.72M204.8 82.5h0.72M220.9 90.1h0.72M204.9 79.7h0.72M216.8 81.6h0.72M218.3 78.9h0.72M215.7 82.5h0.72M213.6 79.7h0.72M211.5 74.3h0.72M190.0 74.3h0.72M208.9 70.3h0.72M204.0 85.3h0.72M203.2 73.9h0.72M221.2 77.4h0.72M213.9 70.4h0.72M202.8 61.7h0.72M215.1 75.1h0.72M201.3 75.4h0.72M219.9 82.6h0.72M216.7 84.5h0.72M211.1 74.9h0.72M208.6 78.9h0.72M191.2 77.3h0.72M209.0 67.6h0.72M202.9 84.5h0.72M204.6 74.1h0.72M223.8 66.9h0.72M208.2 71.4h0.72M203.3 73.4h0.72M214.2 72.7h0.72M218.2 81.0h0.72M197.7 75.4h0.72M206.8 64.2h0.72M190.5 83.3h0.72M211.6 85.0h0.72M224.5 81.3h0.72M212.4 85.5h0.72M207.3 71.7h0.72M218.5 80.3h0.72M203.4 71.5h0.72M195.7 92.2h0.72M204.8 70.8h0.72M202.5 70.6h0.72M209.9 75.2h0.72M210.0 88.7h0.72M209.1 70.0h0.72M228.8 70.6h0.72M215.6 76.9h0.72M207.1 66.6h0.72M210.2 76.6h0.72M227.0 62.4h0.72M192.9 79.5h0.72M205.2 84.3h0.72M190.1 62.5h0.72M223.6 67.6h0.72M199.6 73.5h0.72M224.8 73.3h0.72M216.5 73.5h0.72M197.7 77.0h0.72M190.2 83.3h0.72M192.2 76.0h0.72M186.8 74.0h0.72M212.7 68.7h0.72M228.2 74.8h0.72M213.0 62.7h0.72M203.4 76.8h0.72M216.1 79.7h0.72M194.4 62.6h0.72M197.2 84.1h0.72M190.8 64.6h0.72M209.7 74.4h0.72M207.8 68.0h0.72M212.0 73.9h0.72M206.6 76.7h0.72M206.2 73.2h0.72M219.9 80.6h0.72M209.3 75.9h0.72M222.3 63.8h0.72M189.0 75.1h0.72M191.1 66.0h0.72M210.7 76.5h0.72M205.0 68.5h0.72M193.7 68.9h0.72M200.2 74.5h0.72M217.8 72.3h0.72M197.0 78.3h0.72M220.7 77.4h0.72M203.9 71.6h0.72M205.2 66.1h0.72M217.7 72.2h0.72M227.9 84.7h0.72M203.5 96.0h0.72M203.6 68.3h0.72M190.6 74.8h0.72M212.4 71.8h0.72M207.3 78.6h0.72M200.5 74.3h0.72M205.8 87.2h0.72M215.2 74.0h0.72M198.1 73.6h0.72M200.4 71.8h0.72M212.0 81.4h0.72M218.6 70.0h0.72M210.3 74.5h0.72M216.9 92.8h0.72M218.6 82.2h0.72M210.9 79.1h0.72M188.5 77.6h0.72M206.9 74.5h0.72M215.7 100.6h0.72M211.2 64.9h0.72M204.6 81.6h0.72M215.5 76.4h0.72M214.0 68.4h0.72M205.0 68.6h0.72M203.8 76.7h0.72M209.6 82.8h0.72M227.5 79.0h0.72M199.2 75.0h0.72M200.7 68.4h0.72M204.4 82.6h0.72M200.5 77.6h0.72M200.9 82.0h0.72M220.1 63.1h0.72M215.9 67.8h0.72M211.8 74.1h0.72M217.0 64.6h0.72M227.5 77.7h0.72M202.0 85.3h0.72M222.1 79.2h0.72M203.5 68.3h0.72M199.6 88.1h0.72M209.1 74.7h0.72M204.9 84.9h0.72M204.9 81.9h0.72M190.7 68.5h0.72M211.8 67.1h0.72M227.7 58.1h0.72M212.4 79.3h0.72M213.0 74.4h0.72M207.4 103.9h0.72M211.2 69.8h0.72M181.5 90.2h0.72M208.3 89.7h0.72M208.3 83.9h0.72M222.1 70.3h0.72M185.4 84.6h0.72M227.7 62.7h0.72M203.5 74.3h0.72M205.9 79.9h0.72M207.4 79.8h0.72M200.4 62.0h0.72M226.7 77.1h0.72M212.5 65.5h0.72M213.1 74.5h0.72M213.4 76.0h0.72M219.0 86.4h0.72M205.0 71.8h0.72M215.8 63.1h0.72M201.4 72.0h0.72M187.5 90.7h0.72M205.8 73.2h0.72M196.7 79.4h0.72M204.0 65.2h0.72M211.9 87.5h0.72M193.6 74.7h0.72M230.2 73.3h0.72M201.4 88.1h0.72M210.8 82.6h0.72M225.0 80.3h0.72M211.8 90.8h0.72M193.5 65.7h0.72M206.3 69.9h0.72M206.8 59.5h0.72M192.4 80.8h0.72M206.6 78.4h0.72M204.6 74.8h0.72M193.4 89.5h0.72M219.0 64.0h0.72M204.0 77.9h0.72M204.3 74.6h0.72M210.6 59.8h0.72M216.0 78.9h0.72M198.8 73.5h0.72M207.6 72.8h0.72M209.0 62.5h0.72M209.1 78.4h0.72M212.4 78.7h0.72M202.8 76.1h0.72M218.1 75.6h0.72M210.7 75.5h0.72M213.8 64.4h0.72M207.9 82.0h0.72M199.5 79.6h0.72M203.9 71.5h0.72M197.3 67.5h0.72M220.2 63.0h0.72M209.9 63.8h0.72M228.7 80.8h0.72M200.6 65.6h0.72M205.7 77.8h0.72M225.1 87.0h0.72M198.7 76.9h0.72M217.7 69.1h0.72M203.8 82.6h0.72M194.7 75.3h0.72M207.8 72.6h0.72M208.7 61.6h0.72M216.7 71.3h0.72M228.1 91.3h0.72M203.9 90.9h0.72M222.6 68.4h0.72M205.9 84.9h0.72M201.2 72.1h0.72M183.4 63.4h0.72M196.8 69.1h0.72M201.2 77.1h0.72M211.0 72.0h0.72M194.9 77.0h0.72M214.6 74.6h0.72M222.2 71.3h0.72M216.9 77.2h0.72M221.7 88.4h0.72M196.9 60.1h0.72M218.8 77.6h0.72M211.9 71.4h0.72M201.0 84.9h0.72M213.2 70.6h0.72M209.0 77.4h0.72M195.5 69.8h0.72M213.6 76.2h0.72M194.8 77.6h0.72M228.3 80.1h0.72M195.3 71.2h0.72M202.3 68.6h0.72M200.3 70.2h0.72M207.6 64.8h0.72M217.7 77.7h0.72M227.9 81.9h0.72M218.1 79.3h0.72M207.4 66.2h0.72M215.2 75.8h0.72M202.0 78.4h0.72M211.8 69.7h0.72M222.9 71.1h0.72M209.8 83.8h0.72M203.3 72.5h0.72M213.1 72.4h0.72M203.5 65.8h0.72M210.8 71.9h0.72M216.7 83.4h0.72M208.3 81.4h0.72M201.5 88.2h0.72M203.0 74.0h0.72M204.8 71.0h0.72M216.4 75.1h0.72M199.7 81.4h0.72M208.9 79.8h0.72M210.6 71.3h0.72M190.6 72.6h0.72M199.7 85.0h0.72M206.4 87.2h0.72M231.4 84.6h0.72M232.2 67.5h0.72M203.6 66.6h0.72M195.2 64.6h0.72M217.4 68.6h0.72M205.3 79.8h0.72M204.5 87.8h0.72M220.4 81.0h0.72M225.1 79.5h0.72M210.4 84.1h0.72M218.9 64.1h0.72M219.5 83.5h0.72M186.1 91.8h0.72M210.2 86.7h0.72M196.9 76.9h0.72M201.7 68.3h0.72M211.3 63.3h0.72M208.3 80.8h0.72M201.1 66.3h0.72M214.1 82.7h0.72M217.6 70.8h0.72M204.5 86.4h0.72M217.3 77.9h0.72M210.9 73.9h0.72M214.6 80.9h0.72M209.0 77.4h0.72M194.8 74.1h0.72M224.3 77.0h0.72M195.0 71.4h0.72M209.5 87.0h0.72M229.8 74.9h0.72M207.1 76.3h0.72M197.6 86.0h0.72M196.7 81.2h0.72M204.0 66.8h0.72M211.8 88.8h0.72M196.6 77.0h0.72M201.7 84.0h0.72M194.0 64.8h0.72M204.8 64.7h0.72M218.3 63.1h0.72M209.2 71.2h0.72M218.3 70.9h0.72M206.6 89.0h0.72M215.0 85.5h0.72M222.6 79.3h0.72M211.6 61.6h0.72M191.5 71.9h0.72M211.4 84.3h0.72M200.9 72.6h0.72M229.1 66.2h0.72M206.7 74.4h0.72M201.6 87.4h0.72M192.8 72.9h0.72M191.9 69.5h0.72M223.9 58.9h0.72M192.0 75.3h0.72M212.1 69.3h0.72M212.9 73.6h0.72M204.7 76.0h0.72M220.7 65.6h0.72M217.0 77.5h0.72M206.4 69.3h0.72M211.9 81.8h0.72M199.2 81.3h0.72M208.9 82.0h0.72M211.2 73.6h0.72M210.6 80.5h0.72M194.2 75.3h0.72M184.5 76.9h0.72M203.8 75.4h0.72M218.4 82.8h0.72M222.7 82.9h0.72M206.4 68.8h0.72M234.1 69.7h0.72M205.0 78.7h0.72M200.4 76.5h0.72M210.6 70.9h0.72M198.3 75.5h0.72M212.8 67.2h0.72M209.9 76.1h0.72M199.7 78.6h0.72M195.0 82.6h0.72M201.5 83.6h0.72M209.5 75.7h0.72M195.3 81.4h0.72M197.6 93.4h0.72M212.8 76.9h0.72M208.8 80.8h0.72M213.1 78.5h0.72M217.2 74.0h0.72M224.5 62.9h0.72M192.2 80.0h0.72M208.3 62.9h0.72M196.6 69.4h0.72M221.1 80.5h0.72M192.1 64.3h0.72M209.9 65.2h0.72M202.4 70.5h0.72M209.0 80.0h0.72M201.5 71.0h0.72M211.2 88.5h0.72M212.6 72.3h0.72M217.8 74.1h0.72M194.9 80.6h0.72M224.8 66.1h0.72M216.1 65.2h0.72M207.7 74.3h0.72M205.1 74.3h0.72M215.3 71.1h0.72M206.3 72.7h0.72M211.2 70.0h0.72M216.3 77.7h0.72M202.7 64.8h0.72M205.9 83.5h0.72M214.9 75.3h0.72M228.6 87.9h0.72M213.7 86.6h0.72M206.0 72.3h0.72M210.8 59.8h0.72M208.8 71.1h0.72M221.9 79.8h0.72M224.0 71.5h0.72M223.2 76.4h0.72M213.8 78.5h0.72M196.0 82.6h0.72M204.1 80.4h0.72M208.1 67.2h0.72M205.5 77.6h0.72M205.6 89.1h0.72M220.6 76.0h0.72M205.0 87.0h0.72M209.0 84.7h0.72M195.1 58.9h0.72M216.2 82.7h0.72M207.0 73.8h0.72M213.1 79.5h0.72M207.8 75.3h0.72M210.9 84.0h0.72M212.1 72.7h0.72M219.3 81.1h0.72M203.4 74.5h0.72M185.5 74.1h0.72M197.7 76.2h0.72M201.5 85.3h0.72M221.4 72.2h0.72M199.8 85.8h0.72M195.2 72.3h0.72M204.8 77.2h0.72M209.1 67.7h0.72M217.3 78.3h0.72M211.8 88.1h0.72M227.2 77.3h0.72M204.5 72.9h0.72M207.4 66.4h0.72M201.6 71.0h0.72M213.8 81.2h0.72M184.1 62.0h0.72M202.5 66.4h0.72M208.3 60.8h0.72M206.3 76.8h0.72M212.5 71.6h0.72M212.7 81.3h0.72M205.1 66.5h0.72M203.5 77.5h0.72M211.3 61.3h0.72M193.7 61.9h0.72M226.5 78.6h0.72M210.3 65.4h0.72M187.5 91.7h0.72M224.5 78.3h0.72M208.1 77.2h0.72M217.5 58.8h0.72M211.4 64.6h0.72M204.5 73.4h0.72M204.3 69.0h0.72M210.3 71.8h0.72M211.2 81.3h0.72M200.0 73.5h0.72M200.0 81.8h0.72M215.8 83.5h0.72M219.1 76.1h0.72M198.6 68.9h0.72M220.6 76.2h0.72M216.5 70.4h0.72M206.3 90.8h0.72M218.3 62.1h0.72M201.7 76.3h0.72M219.0 83.0h0.72M217.0 85.1h0.72M215.5 82.1h0.72M199.8 65.2h0.72M203.5 85.5h0.72M222.0 66.3h0.72M205.8 75.7h0.72M214.3 77.8h0.72M223.3 77.3h0.72M206.4 73.1h0.72M219.3 73.0h0.72M213.8 71.7h0.72M205.6 68.6h0.72M216.6 72.0h0.72M199.3 81.1h0.72M204.3 92.2h0.72M204.0 75.7h0.72M200.9 87.6h0.72M211.4 73.2h0.72M207.6 58.1h0.72M221.0 75.2h0.72M220.1 68.2h0.72M222.9 69.7h0.72M208.9 91.6h0.72M203.6 75.3h0.72M207.0 76.0h0.72M210.0 73.9h0.72M212.9 71.5h0.72M221.7 80.7h0.72M197.2 70.8h0.72M205.3 82.9h0.72M189.3 84.2h0.72M189.1 70.0h0.72M200.0 72.3h0.72M216.3 82.7h0.72M207.5 73.4h0.72M198.9 84.7h0.72M203.7 97.3h0.72M193.0 69.7h0.72M215.4 90.1h0.72M205.4 78.7h0.72M202.4 76.9h0.72M187.5 80.4h0.72M203.2 78.6h0.72M207.2 67.2h0.72M193.1 67.0h0.72M208.1 81.0h0.72M219.6 83.0h0.72M229.0 83.3h0.72M226.4 81.6h0.72M211.7 61.0h0.72M218.2 74.0h0.72M204.7 64.2h0.72M221.0 75.0h0.72M204.3 68.7h0.72M207.6 78.7h0.72M214.5 76.0h0.72M210.7 75.6h0.72M204.3 84.5h0.72M207.2 70.4h0.72M225.6 67.4h0.72M204.0 76.1h0.72M206.8 74.4h0.72M218.1 83.3h0.72M155.1 59.7h0.72M157.5 50.5h0.72M185.2 50.5h0.72M157.1 56.4h0.72M182.5 55.0h0.72M196.0 57.0h0.72M168.1 52.3h0.72M181.2 52.4h0.72M178.9 56.5h0.72M178.9 49.3h0.72M199.6 53.5h0.72M180.2 48.5h0.72M174.5 49.7h0.72M198.6 52.2h0.72M154.4 53.3h0.72M161.2 53.9h0.72M161.0 48.3h0.72M172.2 52.8h0.72M163.1 55.9h0.72M187.6 53.4h0.72M173.7 54.9h0.72M188.7 54.3h0.72M158.3 55.8h0.72M179.8 52.0h0.72M152.2 55.4h0.72M183.6 55.2h0.72M177.3 57.8h0.72M173.4 47.8h0.72M172.9 54.3h0.72M186.6 55.5h0.72M185.4 55.2h0.72M179.4 50.1h0.72M170.3 56.9h0.72M199.4 45.3h0.72M172.8 52.4h0.72M187.8 47.5h0.72M166.6 54.3h0.72M163.0 48.3h0.72M175.9 55.7h0.72M172.7 52.7h0.72M189.1 56.7h0.72M198.6 52.3h0.72M156.9 51.7h0.72M146.5 54.8h0.72M159.3 55.1h0.72M197.0 53.4h0.72M172.9 53.9h0.72M165.6 54.8h0.72M171.2 54.2h0.72M162.8 55.4h0.72M179.9 51.0h0.72M173.9 49.3h0.72M153.8 50.2h0.72M180.9 52.5h0.72M174.2 54.6h0.72M170.7 53.2h0.72M166.4 60.6h0.72M162.6 55.7h0.72M171.2 59.5h0.72M157.8 53.4h0.72M180.7 52.2h0.72M180.9 48.4h0.72M181.1 49.9h0.72M183.2 54.9h0.72M173.0 52.0h0.72M162.7 51.7h0.72M197.9 51.2h0.72M170.3 55.0h0.72M154.5 52.4h0.72M191.8 54.5h0.72M183.2 56.0h0.72M174.3 46.3h0.72M186.1 55.5h0.72M195.9 50.1h0.72M188.9 58.3h0.72M173.1 52.9h0.72M159.7 55.8h0.72M178.4 55.5h0.72M173.9 53.9h0.72M165.8 57.1h0.72M172.6 57.7h0.72M188.1 51.4h0.72M158.1 57.0h0.72M180.7 52.6h0.72M190.4 47.3h0.72M183.3 52.6h0.72M185.8 51.9h0.72M167.7 55.9h0.72M180.3 49.2h0.72M182.6 55.9h0.72M150.2 50.7h0.72M157.8 50.6h0.72M164.4 59.7h0.72M159.8 50.7h0.72M171.0 57.9h0.72M168.7 56.7h0.72M190.1 52.4h0.72M180.7 56.9h0.72M178.2 58.8h0.72M180.6 58.7h0.72M159.9 54.5h0.72M166.4 52.4h0.72M171.4 55.4h0.72M153.1 48.3h0.72M186.0 54.7h0.72M188.9 56.4h0.72M179.4 52.1h0.72M182.2 50.8h0.72M155.2 52.7h0.72M194.7 53.2h0.72M157.1 51.7h0.72M171.8 55.5h0.72M163.9 54.4h0.72M163.4 53.7h0.72M169.7 54.6h0.72M162.8 52.8h0.72M185.6 53.7h0.72M145.9 57.3h0.72M180.2 59.8h0.72M162.2 54.8h0.72M161.1 56.2h0.72M166.1 57.8h0.72M176.2 46.8h0.72M157.7 55.8h0.72M185.8 56.9h0.72M182.2 52.3h0.72M176.6 53.9h0.72M174.8 56.9h0.72M160.7 52.7h0.72M194.3 53.3h0.72M182.9 52.0h0.72M175.5 57.8h0.72M198.5 53.8h0.72M165.1 58.5h0.72M146.3 53.1h0.72M190.3 53.3h0.72M173.7 53.5h0.72M160.4 52.4h0.72M179.4 48.4h0.72M162.6 44.3h0.72M188.6 54.1h0.72M149.9 49.0h0.72M164.1 58.9h0.72M181.8 50.2h0.72M167.0 48.5h0.72M160.3 48.2h0.72M193.9 55.1h0.72M163.4 56.8h0.72M181.7 51.4h0.72M149.9 53.6h0.72M156.3 52.8h0.72M188.9 55.4h0.72M176.7 52.8h0.72M177.4 50.6h0.72M186.1 58.7h0.72M165.4 48.8h0.72M174.7 48.2h0.72M180.8 54.3h0.72M166.9 51.3h0.72M158.4 60.0h0.72M175.7 57.1h0.72M197.0 52.7h0.72M166.9 52.4h0.72M180.1 50.5h0.72M188.9 52.9h0.72M163.0 55.9h0.72M196.0 50.8h0.72M171.7 53.1h0.72M182.5 56.2h0.72M172.7 50.7h0.72M165.5 56.5h0.72M191.8 51.3h0.72M155.5 50.7h0.72M159.5 51.2h0.72M168.9 49.5h0.72M183.4 50.2h0.72M170.9 55.5h0.72M170.8 56.8h0.72M166.6 57.4h0.72M164.5 51.8h0.72M152.5 54.7h0.72M184.9 53.7h0.72M196.2 55.7h0.72M179.8 48.4h0.72M171.9 54.8h0.72M156.5 58.4h0.72M179.5 58.5h0.72M155.8 59.4h0.72M195.3 54.1h0.72M169.3 58.9h0.72M159.7 53.0h0.72M191.5 53.4h0.72M162.2 49.9h0.72M167.1 57.7h0.72M156.1 55.7h0.72M171.9 52.3h0.72M172.3 58.0h0.72M186.2 51.2h0.72M182.3 49.7h0.72M191.6 47.1h0.72M167.9 56.6h0.72M144.6 53.0h0.72M188.6 55.7h0.72M180.4 51.8h0.72M145.3 52.1h0.72M176.9 51.5h0.72M161.5 54.9h0.72M169.5 54.2h0.72M190.8 51.3h0.72M189.6 50.0h0.72M187.9 55.0h0.72M182.1 56.0h0.72M177.8 48.0h0.72M177.7 53.8h0.72M180.5 52.9h0.72M154.2 49.8h0.72M158.2 58.9h0.72M178.9 50.0h0.72M162.8 51.5h0.72M191.9 56.1h0.72M170.7 52.9h0.72M163.8 54.0h0.72M158.8 56.5h0.72M173.1 56.7h0.72M198.4 54.6h0.72M160.5 54.5h0.72M161.3 57.2h0.72M169.6 53.1h0.72M166.9 57.9h0.72M182.4 53.5h0.72M187.9 52.8h0.72M162.2 53.5h0.72M171.0 57.2h0.72M164.1 50.2h0.72M195.2 56.6h0.72M169.1 54.1h0.72M150.0 59.1h0.72M166.4 46.6h0.72M172.7 55.3h0.72M184.6 54.4h0.72M178.4 53.1h0.72M173.4 52.9h0.72M176.8 46.9h0.72M174.1 55.5h0.72M185.4 48.6h0.72M173.6 58.8h0.72M171.7 53.0h0.72M183.8 53.4h0.72M166.6 51.6h0.72M148.4 54.3h0.72M183.4 55.6h0.72M163.2 55.0h0.72M158.7 48.3h0.72M184.4 49.5h0.72M153.5 52.6h0.72M169.6 58.7h0.72M190.4 60.5h0.72M177.5 48.3h0.72M155.2 54.5h0.72M153.8 55.1h0.72M190.6 55.6h0.72M148.9 57.3h0.72M172.7 56.4h0.72M190.0 58.5h0.72M172.4 51.4h0.72M171.6 51.3h0.72M176.1 52.6h0.72M186.5 51.4h0.72M188.8 51.1h0.72M193.4 57.6h0.72M174.3 52.9h0.72M180.0 55.1h0.72M159.1 56.0h0.72M146.5 49.8h0.72M156.5 54.3h0.72M162.0 45.9h0.72M191.2 51.8h0.72M169.7 54.8h0.72M180.2 55.6h0.72M155.1 54.7h0.72M189.5 56.1h0.72M197.2 48.9h0.72M193.1 48.9h0.72M157.6 54.3h0.72M172.7 54.0h0.72M191.5 49.6h0.72M169.4 51.7h0.72M193.1 55.5h0.72M179.6 57.7h0.72M171.0 50.7h0.72M188.7 47.7h0.72M179.1 53.6h0.72M150.3 54.3h0.72M161.6 58.2h0.72M186.5 56.6h0.72M189.8 53.7h0.72M191.8 55.7h0.72M183.5 57.2h0.72M167.9 48.9h0.72M155.8 56.0h0.72M160.1 53.0h0.72M166.3 56.9h0.72M199.4 54.1h0.72M164.4 51.8h0.72M172.0 48.3h0.72M156.4 54.3h0.72M178.6 54.3h0.72M180.1 51.3h0.72M173.2 50.4h0.72M178.5 47.1h0.72M182.9 54.5h0.72M168.6 54.2h0.72M190.5 53.9h0.72M176.7 53.0h0.72M157.0 50.2h0.72M178.0 54.1h0.72M180.3 59.2h0.72M181.3 55.0h0.72M171.5 50.1h0.72M168.1 53.4h0.72M185.8 55.9h0.72M159.6 53.3h0.72M186.5 49.0h0.72M171.3 48.9h0.72M164.6 57.5h0.72M180.6 60.8h0.72M159.4 56.7h0.72M172.6 48.5h0.72M178.0 54.4h0.72M170.9 57.6h0.72M170.3 56.1h0.72M175.1 52.0h0.72M180.9 57.2h0.72M196.8 57.6h0.72M149.5 49.3h0.72M171.1 57.6h0.72M146.5 54.2h0.72M157.1 56.3h0.72M190.7 52.8h0.72M195.6 56.1h0.72M172.8 58.4h0.72M179.0 54.8h0.72M187.5 52.4h0.72M171.8 57.6h0.72M173.3 58.1h0.72M179.3 59.3h0.72M197.5 49.9h0.72M185.7 52.9h0.72M166.2 56.6h0.72M191.2 55.4h0.72M191.9 59.1h0.72M180.7 55.8h0.72M182.6 58.7h0.72M162.2 53.5h0.72M157.1 51.9h0.72M180.7 52.6h0.72M164.0 53.0h0.72M192.3 60.5h0.72M177.3 51.4h0.72M178.3 51.7h0.72M180.3 56.0h0.72M173.4 51.0h0.72M191.6 50.6h0.72M194.9 59.7h0.72M149.7 57.3h0.72M174.6 60.4h0.72M172.2 53.5h0.72M161.8 55.9h0.72M195.3 51.2h0.72M187.9 55.4h0.72M199.1 53.5h0.72M164.0 54.5h0.72M182.4 52.9h0.72M161.4 55.9h0.72M151.6 50.0h0.72M173.7 49.3h0.72M183.1 48.5h0.72M172.6 55.2h0.72M195.8 51.0h0.72M179.7 57.7h0.72M163.3 55.0h0.72M192.5 57.4h0.72M174.5 55.0h0.72M164.8 55.6h0.72M181.9 52.1h0.72M163.0 53.9h0.72M182.9 50.4h0.72M161.9 56.2h0.72M174.4 53.6h0.72M191.2 52.9h0.72M153.1 50.1h0.72M173.2 53.2h0.72M169.7 50.9h0.72M149.1 53.0h0.72M181.8 54.7h0.72M157.9 51.8h0.72M177.9 45.9h0.72M186.0 53.5h0.72M173.9 53.8h0.72M172.0 51.6h0.72M192.0 54.9h0.72M180.3 52.9h0.72M146.9 52.2h0.72M180.8 52.9h0.72M176.6 59.0h0.72M183.8 57.1h0.72M170.5 52.7h0.72M154.4 58.6h0.72M192.5 53.5h0.72M182.4 54.6h0.72M195.9 55.5h0.72M173.9 50.3h0.72M171.7 57.7h0.72M164.6 53.0h0.72M184.7 59.1h0.72M167.9 56.5h0.72M169.4 48.0h0.72M169.0 50.2h0.72M154.5 60.3h0.72M152.5 52.7h0.72M193.5 53.7h0.72M144.6 53.8h0.72M174.8 58.2h0.72M162.8 48.7h0.72M169.2 50.1h0.72M178.2 55.9h0.72M174.1 53.6h0.72M156.6 49.2h0.72M179.7 58.4h0.72M160.0 46.7h0.72M174.4 54.6h0.72M162.3 47.5h0.72M195.7 47.5h0.72M182.8 56.5h0.72M195.1 53.5h0.72M189.3 52.9h0.72M186.3 58.1h0.72M174.6 48.0h0.72M196.3 51.7h0.72M166.7 57.0h0.72M188.5 55.4h0.72M166.3 56.1h0.72M177.2 52.5h0.72M163.0 55.3h0.72M163.6 58.0h0.72M147.7 50.4h0.72M177.9 48.1h0.72M165.7 52.3h0.72M177.7 58.3h0.72M168.5 52.0h0.72M194.7 53.7h0.72M186.9 53.9h0.72M167.2 51.7h0.72M159.9 51.1h0.72M177.7 53.6h0.72M187.1 54.1h0.72M181.3 50.8h0.72M150.2 57.1h0.72M188.3 50.8h0.72M161.2 55.0h0.72M188.1 55.6h0.72M191.9 54.0h0.72M172.8 54.0h0.72M161.5 52.5h0.72M149.6 49.8h0.72M186.9 51.9h0.72M186.9 53.5h0.72M173.7 55.6h0.72M192.6 52.7h0.72M178.7 60.3h0.72M184.2 51.9h0.72M162.3 52.2h0.72M192.7 46.9h0.72M184.6 52.3h0.72M184.7 54.3h0.72M150.9 52.1h0.72M144.6 53.2h0.72M163.3 56.7h0.72M147.1 54.6h0.72M160.1 52.0h0.72M149.1 59.8h0.72M171.5 54.0h0.72M173.5 50.6h0.72M170.8 52.3h0.72M182.8 56.2h0.72M176.0 57.6h0.72M170.0 49.4h0.72M149.0 56.5h0.72M169.6 55.3h0.72M185.9 50.7h0.72M194.8 56.1h0.72M157.5 55.6h0.72M177.0 48.9h0.72M188.4 52.9h0.72M181.3 59.1h0.72M195.0 52.3h0.72M186.2 57.1h0.72M177.4 57.3h0.72M183.9 52.2h0.72M196.5 52.9h0.72M167.7 52.4h0.72M147.7 57.2h0.72M156.6 47.7h0.72M180.1 46.5h0.72M170.6 56.2h0.72M180.3 54.9h0.72M170.6 50.5h0.72M179.4 56.3h0.72M174.1 56.9h0.72M177.5 49.5h0.72M166.7 53.4h0.72M162.5 52.9h0.72M189.7 53.7h0.72M191.0 55.2h0.72M167.1 54.0h0.72M189.1 51.8h0.72M165.0 57.8h0.72M187.8 55.8h0.72M167.0 53.1h0.72M181.0 55.1h0.72M188.4 50.1h0.72M188.7 50.4h0.72M160.3 52.1h0.72M166.9 57.2h0.72M193.4 60.7h0.72M164.5 54.2h0.72M195.1 48.0h0.72M187.3 60.0h0.72M190.0 51.3h0.72M173.7 54.2h0.72M164.7 50.3h0.72M192.7 50.8h0.72M191.3 50.1h0.72M163.0 46.1h0.72M165.2 52.4h0.72M188.0 48.9h0.72M175.0 57.5h0.72M187.4 58.6h0.72M173.0 48.7h0.72M175.3 55.5h0.72M159.3 52.7h0.72M174.6 61.0h0.72M165.0 51.1h0.72M172.1 51.6h0.72M175.8 52.0h0.72M156.1 51.4h0.72M145.7 59.3h0.72M196.1 53.3h0.72M178.3 56.0h0.72M180.0 50.7h0.72M161.7 56.4h0.72M171.0 55.1h0.72M168.9 56.6h0.72M172.8 54.5h0.72M183.9 47.0h0.72M189.0 58.1h0.72M167.8 48.3h0.72M181.1 50.8h0.72M159.9 58.9h0.72M173.4 50.1h0.72M155.4 55.0h0.72M180.2 55.0h0.72M157.7 51.4h0.72M174.8 52.4h0.72M176.1 52.6h0.72M174.3 54.3h0.72M184.9 58.0h0.72M174.4 46.9h0.72M196.9 48.7h0.72M178.9 57.7h0.72M184.6 58.1h0.72M183.2 48.2h0.72M186.1 52.6h0.72M191.6 51.4h0.72M188.0 49.4h0.72M170.8 53.3h0.72M192.5 51.0h0.72M180.1 57.4h0.72M147.6 58.9h0.72M173.7 54.4h0.72M186.1 57.9h0.72M197.4 57.8h0.72M165.9 55.0h0.72M153.2 49.6h0.72M170.5 52.7h0.72M166.5 51.1h0.72M183.2 49.5h0.72M179.9 50.9h0.72M149.2 47.0h0.72M192.9 57.8h0.72M170.8 53.1h0.72M180.3 48.5h0.72M168.2 48.2h0.72M166.3 53.7h0.72M170.3 59.5h0.72M184.6 51.8h0.72M178.6 52.2h0.72M163.1 58.8h0.72M172.4 51.8h0.72M196.7 52.8h0.72M190.4 44.9h0.72M185.6 49.9h0.72M169.2 56.7h0.72M195.4 52.7h0.72M167.8 57.2h0.72M173.1 51.8h0.72M171.7 52.9h0.72M167.3 57.3h0.72M165.0 53.2h0.72M163.3 54.0h0.72M177.3 53.7h0.72M163.9 54.7h0.72M155.7 52.4h0.72M172.7 53.8h0.72M187.7 53.1h0.72M159.8 55.1h0.72M172.9 56.3h0.72M174.7 50.4h0.72M178.5 53.0h0.72M163.7 48.6h0.72M192.5 50.4h0.72M190.6 57.2h0.72M160.8 55.0h0.72M173.8 48.8h0.72M165.5 54.1h0.72M189.5 51.2h0.72M171.8 57.2h0.72M168.8 51.4h0.72M151.8 55.1h0.72M164.2 50.4h0.72M167.9 51.2h0.72M186.5 49.4h0.72M187.9 54.9h0.72M160.5 50.0h0.72M164.1 53.4h0.72M186.7 53.4h0.72M163.2 50.4h0.72M199.6 52.1h0.72M169.3 52.4h0.72M182.5 56.4h0.72M169.3 55.4h0.72M155.4 48.2h0.72M150.7 52.1h0.72M164.8 56.0h0.72M169.6 52.2h0.72M170.3 48.7h0.72M156.0 60.1h0.72M183.6 48.8h0.72M156.4 54.9h0.72M167.7 51.7h0.72M186.6 50.1h0.72M155.5 55.1h0.72M160.2 54.1h0.72M146.2 52.4h0.72M173.9 53.3h0.72M176.8 53.2h0.72M186.0 51.4h0.72M160.6 54.3h0.72M178.3 47.6h0.72M186.1 52.4h0.72M189.6 53.7h0.72M156.0 52.4h0.72M185.2 57.1h0.72M172.2 55.8h0.72M194.8 54.6h0.72M196.6 55.8h0.72M160.5 49.5h0.72M162.4 59.4h0.72M192.6 50.6h0.72M174.4 60.6h0.72M162.5 53.7h0.72M169.6 56.5h0.72M146.4 54.8h0.72M177.7 57.5h0.72M181.4 55.0h0.72M160.6 54.6h0.72M167.2 59.8h0.72M179.8 53.8h0.72M177.3 53.9h0.72M169.0 55.9h0.72M174.7 50.7h0.72M188.4 56.2h0.72M192.1 52.3h0.72M189.1 58.8h0.72M184.8 55.1h0.72M174.3 48.5h0.72M159.6 53.5h0.72M190.8 55.5h0.72M167.0 54.4h0.72M173.3 51.3h0.72M174.5 56.6h0.72M157.9 52.3h0.72M174.4 50.3h0.72M161.0 55.2h0.72M167.3 59.1h0.72M177.3 47.4h0.72M166.8 47.2h0.72M170.2 58.6h0.72M189.9 52.6h0.72M165.4 52.4h0.72M158.9 50.6h0.72M180.3 54.2h0.72M178.0 53.2h0.72M152.8 55.6h0.72M175.4 56.5h0.72M177.5 50.4h0.72M189.3 56.4h0.72M171.2 56.2h0.72M181.8 52.2h0.72M178.5 51.2h0.72M195.3 52.3h0.72M189.5 59.8h0.72M176.0 56.0h0.72M197.2 47.5h0.72M156.9 54.3h0.72M195.9 57.3h0.72M165.5 55.0h0.72M176.7 51.9h0.72M167.2 53.1h0.72M149.5 50.6h0.72M166.6 57.2h0.72M158.7 56.7h0.72M169.0 51.2h0.72M149.8 54.3h0.72M173.9 56.4h0.72M165.9 46.9h0.72M183.4 58.3h0.72M175.6 54.2h0.72M182.6 54.7h0.72M182.9 56.8h0.72M183.2 48.1h0.72M181.2 52.7h0.72M160.3 56.9h0.72M165.3 55.2h0.72M164.7 55.8h0.72M195.2 51.0h0.72M163.3 56.9h0.72M161.7 57.3h0.72M180.9 50.8h0.72M166.8 58.2h0.72M187.9 54.3h0.72M178.5 57.5h0.72M166.1 55.0h0.72M182.1 58.3h0.72M169.7 53.2h0.72M179.2 53.1h0.72M171.4 55.7h0.72M167.9 52.9h0.72M179.1 54.2h0.72M169.7 53.6h0.72M157.1 51.4h0.72M164.5 50.2h0.72M197.8 60.9h0.72M171.6 53.5h0.72M173.1 52.6h0.72M166.8 56.9h0.72M183.1 49.5h0.72M178.4 51.1h0.72M184.6 51.3h0.72M179.7 51.4h0.72M172.3 55.1h0.72M185.5 49.2h0.72M167.0 51.1h0.72M149.9 54.6h0.72M171.9 52.8h0.72M163.0 59.8h0.72M161.9 45.1h0.72M169.8 54.8h0.72M159.0 53.4h0.72M176.0 50.7h0.72M158.7 50.3h0.72M167.1 57.3h0.72M176.6 51.8h0.72M167.7 56.4h0.72M165.0 50.8h0.72M186.6 53.8h0.72M194.7 53.0h0.72M170.5 55.2h0.72M178.0 53.9h0.72M161.0 51.6h0.72M163.7 52.1h0.72M194.2 50.8h0.72M182.0 55.3h0.72M151.9 57.2h0.72M178.5 55.0h0.72M178.0 57.1h0.72M180.9 51.6h0.72M165.7 50.9h0.72M163.4 51.0h0.72M178.5 57.0h0.72M172.0 57.2h0.72M191.8 56.1h0.72M150.5 45.2h0.72M191.1 55.4h0.72M154.1 51.3h0.72M178.4 53.7h0.72M155.8 53.6h0.72M153.0 53.0h0.72M184.2 54.7h0.72M166.4 55.9h0.72M177.0 49.0h0.72M186.8 48.4h0.72M171.7 56.8h0.72M162.9 45.7h0.72M170.6 48.9h0.72M160.2 52.7h0.72M175.9 57.0h0.72M195.8 56.0h0.72M152.0 49.9h0.72M186.5 49.3h0.72M194.2 56.4h0.72M176.2 56.5h0.72M164.3 57.2h0.72M176.5 51.8h0.72M163.2 46.8h0.72M170.1 55.5h0.72M168.9 52.2h0.72M154.7 57.9h0.72M174.6 53.7h0.72M162.7 52.9h0.72M179.6 55.2h0.72M166.4 52.0h0.72M184.7 58.8h0.72M168.6 55.5h0.72M186.1 54.9h0.72M161.2 53.8h0.72M176.3 50.0h0.72M175.8 53.7h0.72M164.5 59.2h0.72M179.6 50.9h0.72M192.9 52.8h0.72M160.0 49.8h0.72M191.1 49.8h0.72M180.0 55.3h0.72M166.5 56.2h0.72M190.6 53.5h0.72M175.1 56.0h0.72M176.2 58.1h0.72M186.5 54.0h0.72M178.5 52.4h0.72M185.0 51.3h0.72M174.5 49.6h0.72M175.9 55.3h0.72M150.1 58.6h0.72M150.5 55.8h0.72M169.3 56.2h0.72M184.8 54.6h0.72M190.2 52.7h0.72M178.8 52.7h0.72M164.8 50.1h0.72M156.5 57.6h0.72M176.9 50.4h0.72M167.5 48.7h0.72M171.5 58.7h0.72M180.6 53.2h0.72M150.7 44.9h0.72M156.3 53.5h0.72M166.2 57.7h0.72M156.5 60.3h0.72M147.7 55.4h0.72M171.0 58.5h0.72M149.0 57.4h0.72M185.6 53.1h0.72M186.5 55.3h0.72M176.4 49.5h0.72M191.3 48.3h0.72M174.8 44.0h0.72M154.7 47.6h0.72M195.4 46.5h0.72M188.5 47.2h0.72M176.2 54.1h0.72M186.1 58.9h0.72M148.4 49.4h0.72M177.4 58.1h0.72M182.9 60.2h0.72M170.1 57.6h0.72M164.8 60.8h0.72M152.0 59.3h0.72M154.8 53.7h0.72M194.4 56.7h0.72M195.9 57.5h0.72M185.0 60.6h0.72M184.5 57.5h0.72M146.0 59.9h0.72M195.6 51.0h0.72M149.2 51.8h0.72M163.6 47.5h0.72M183.4 54.4h0.72M178.3 60.5h0.72M155.8 59.1h0.72M180.4 48.4h0.72M199.0 54.1h0.72M145.1 45.0h0.72M176.8 60.7h0.72M147.3 45.0h0.72M184.3 54.6h0.72M190.1 44.9h0.72M174.3 51.1h0.72M157.4 59.6h0.72M193.9 55.1h0.72M190.2 57.6h0.72M175.1 60.3h0.72M147.8 59.1h0.72M167.5 48.9h0.72M173.1 59.2h0.72M180.4 56.5h0.72M182.2 49.8h0.72M188.3 54.1h0.72M152.2 46.9h0.72M150.5 51.4h0.72M153.3 53.7h0.72M150.8 57.0h0.72M192.5 57.7h0.72M159.9 55.8h0.72M164.3 50.5h0.72M152.5 57.5h0.72M168.8 47.4h0.72M160.0 47.6h0.72M172.6 58.5h0.72M199.9 52.8h0.72M153.0 57.7h0.72M189.3 45.7h0.72M182.4 54.3h0.72M175.9 45.8h0.72M194.5 52.9h0.72M173.0 47.7h0.72M159.8 54.1h0.72M158.2 55.3h0.72M186.4 60.6h0.72M184.8 52.4h0.72M186.3 50.2h0.72M197.4 50.5h0.72M159.8 59.5h0.72M180.9 46.6h0.72M162.1 49.1h0.72M145.9 44.6h0.72M195.8 54.2h0.72M152.0 52.2h0.72M191.1 46.9h0.72M159.4 52.4h0.72M167.7 60.9h0.72M165.1 54.3h0.72M150.5 47.8h0.72M193.5 48.1h0.72M144.9 56.8h0.72M197.9 49.4h0.72M160.8 52.5h0.72M172.5 50.5h0.72M182.0 58.0h0.72M144.7 50.9h0.72M172.6 58.0h0.72M148.3 60.5h0.72M162.8 45.6h0.72M165.7 45.1h0.72M162.9 44.5h0.72M162.6 50.8h0.72M180.9 59.3h0.72M175.7 57.9h0.72M156.5 46.9h0.72M190.3 57.6h0.72M168.8 57.1h0.72M147.5 58.4h0.72M159.4 51.6h0.72M149.4 58.7h0.72M191.7 45.2h0.72M178.3 47.8h0.72M169.6 53.4h0.72M197.6 51.8h0.72M150.9 51.5h0.72M175.8 44.1h0.72M195.9 57.1h0.72M177.1 48.8h0.72M166.4 50.3h0.72M196.3 47.6h0.72M189.2 58.6h0.72M157.9 60.2h0.72M192.8 55.1h0.72M194.4 52.1h0.72M152.0 50.4h0.72M164.0 60.1h0.72M175.0 55.2h0.72M151.0 50.4h0.72M191.8 45.3h0.72M148.4 49.9h0.72M160.7 52.9h0.72M196.9 57.2h0.72M183.1 52.2h0.72M170.8 52.9h0.72M191.4 57.6h0.72M163.2 45.4h0.72M163.3 51.6h0.72M199.5 47.1h0.72M147.2 53.5h0.72M149.1 53.9h0.72M159.7 56.4h0.72M167.3 48.5h0.72M183.0 49.6h0.72M165.5 57.6h0.72M150.6 57.8h0.72M169.2 59.1h0.72M156.5 47.4h0.72M154.5 47.8h0.72M154.7 53.3h0.72M189.1 46.5h0.72M170.9 59.6h0.72M174.6 59.5h0.72M186.6 44.1h0.72M161.7 58.7h0.72M165.7 58.3h0.72M175.6 44.7h0.72M156.7 46.2h0.72M169.6 57.8h0.72M172.6 44.2h0.72M190.1 44.1h0.72M194.1 55.0h0.72M166.7 50.0h0.72M159.9 50.7h0.72M173.0 60.7h0.72M157.9 58.1h0.72M193.6 54.8h0.72M194.2 54.6h0.72M192.9 46.0h0.72M167.3 56.6h0.72M195.9 47.5h0.72M178.9 52.1h0.72M159.3 52.5h0.72M173.1 45.5h0.72M183.5 53.8h0.72M181.5 48.0h0.72M145.9 53.2h0.72M199.6 53.9h0.72M157.2 55.3h0.72M146.3 46.0h0.72M150.1 47.1h0.72M195.8 53.9h0.72M182.0 50.8h0.72M148.9 54.9h0.72M162.3 47.4h0.72M148.1 59.3h0.72M185.6 50.3h0.72M156.4 60.6h0.72M197.9 53.3h0.72M167.1 58.0h0.72M176.1 49.9h0.72M198.4 59.7h0.72M159.1 60.6h0.72M191.7 60.8h0.72M197.6 49.2h0.72M188.9 47.2h0.72M154.4 48.3h0.72M161.2 49.6h0.72M191.3 54.8h0.72M145.4 58.0h0.72M153.6 57.3h0.72M158.4 60.3h0.72M180.0 54.5h0.72M159.9 58.5h0.72M148.8 58.1h0.72M175.6 50.9h0.72M166.9 44.4h0.72M171.8 52.1h0.72M165.1 47.4h0.72M176.8 51.7h0.72M156.4 47.9h0.72M154.1 44.4h0.72M184.3 47.1h0.72M182.2 50.4h0.72M150.2 47.7h0.72M184.6 49.5h0.72M175.7 45.4h0.72M197.2 51.8h0.72M189.0 47.8h0.72M196.7 48.0h0.72M182.5 59.3h0.72M179.6 45.9h0.72M192.7 57.3h0.72M182.2 54.6h0.72M147.5 49.1h0.72M163.0 48.0h0.72M189.0 46.2h0.72M159.0 47.0h0.72M154.1 58.9h0.72M146.6 44.8h0.72M187.2 49.1h0.72M160.7 46.8h0.72M178.1 45.9h0.72M168.3 54.8h0.72M144.6 51.5h0.72M152.0 44.6h0.72M188.5 44.4h0.72M154.8 60.3h0.72M147.1 51.5h0.72M183.7 53.7h0.72M198.3 51.3h0.72M193.6 48.4h0.72M166.0 60.9h0.72M168.1 54.2h0.72M191.5 58.9h0.72M195.4 44.4h0.72M164.7 59.9h0.72M164.8 47.9h0.72M158.2 58.3h0.72M175.9 50.5h0.72M155.0 48.6h0.72M158.3 52.4h0.72M147.6 53.1h0.72M177.7 56.7h0.72M174.8 56.9h0.72M153.9 58.1h0.72M156.3 49.9h0.72M178.0 45.8h0.72M189.8 57.8h0.72M184.3 49.6h0.72M154.7 47.3h0.72M157.0 54.7h0.72M157.6 53.6h0.72M187.2 59.0h0.72M186.0 49.6h0.72M184.8 60.1h0.72M180.7 45.4h0.72M174.1 52.1h0.72M145.3 48.9h0.72M191.9 52.0h0.72M195.7 58.5h0.72M170.8 53.1h0.72M154.6 55.1h0.72M152.6 53.1h0.72M171.1 55.8h0.72M183.8 59.7h0.72M194.1 58.3h0.72M205.3 74.4h0.72M225.3 72.2h0.72M200.0 87.6h0.72M203.9 36.2h0.72M206.1 54.9h0.72M208.0 70.9h0.72M226.9 89.1h0.72M214.4 68.4h0.72M216.5 65.4h0.72M231.9 70.1h0.72M226.9 84.4h0.72M215.8 87.7h0.72M228.1 77.2h0.72M223.9 59.9h0.72M224.3 54.9h0.72M210.2 118.9h0.72M225.0 92.2h0.72M210.8 86.2h0.72M210.7 53.9h0.72M223.1 46.1h0.72M201.1 94.3h0.72M212.8 65.0h0.72M222.7 113.9h0.72M223.6 45.4h0.72M227.4 83.7h0.72M233.5 43.7h0.72M212.7 41.5h0.72M210.9 75.9h0.72M216.1 65.6h0.72M226.6 118.8h0.72M176.5 38.6h0.72M189.0 40.1h0.72M178.6 36.5h0.72M175.5 40.9h0.72M151.4 39.9h0.72M178.0 39.7h0.72M183.3 43.3h0.72M197.1 43.4h0.72M190.7 35.6h0.72M184.4 41.2h0.72" stroke="#000" stroke-width="0.72" stroke-opacity="0.55" fill="none"/>
</g>
<rect x="41.5" y="33.8" width="92.0" height="91.8" fill="none" stroke="#000" stroke-width="0.9"/>
<rect x="144.5" y="33.8" width="91.7" height="91.8" fill="none" stroke="#000" stroke-width="0.9"/>
<rect x="42.2" y="43.6" width="54.8" height="17.6" fill="none" stroke="#000" stroke-width="1.8"/>
<rect x="42.2" y="62.0" width="48.6" height="63.2" fill="none" stroke="#000" stroke-width="1.8"/>
<rect x="90.8" y="62.0" width="27.8" height="63.2" fill="none" stroke="#000" stroke-width="1.8"/>
<rect x="145.2" y="43.4" width="55.0" height="17.8" fill="none" stroke="#000" stroke-width="1.8"/>
<rect x="145.2" y="62.0" width="48.4" height="63.2" fill="none" stroke="#000" stroke-width="1.8"/>
<rect x="193.6" y="62.0" width="28.2" height="63.2" fill="none" stroke="#000" stroke-width="1.8"/>
<text x="42" y="43.1" font-size="8.7" textLength="16.5" lengthAdjust="spacingAndGlyphs">31.9</text>
<text x="112" y="60" font-size="8.5" textLength="16.5" lengthAdjust="spacingAndGlyphs">31.3</text>
<text x="145.8" y="43.1" font-size="8.7" textLength="15.5" lengthAdjust="spacingAndGlyphs">14.1</text>
<text x="215.2" y="60" font-size="8.5" textLength="15.5" lengthAdjust="spacingAndGlyphs">71.1</text>
</g>
<g id="panelB">
<text x="-0.9" y="170.9" font-size="17" textLength="12.9" lengthAdjust="spacingAndGlyphs" stroke="#000" stroke-width="0.35">B</text>
<rect x="39.5" y="174" width="200.5" height="133" fill="none" stroke="#000" stroke-width="1.9"/>
<path d="M33.8 174L39.5 174" stroke="#000" stroke-width="1.9" fill="none"/>
<text x="34" y="177.2" font-size="9" text-anchor="end">6</text>
<path d="M33.8 218.3L39.5 218.3" stroke="#000" stroke-width="1.9" fill="none"/>
<text x="34" y="221.5" font-size="9" text-anchor="end">4</text>
<path d="M33.8 262.7L39.5 262.7" stroke="#000" stroke-width="1.9" fill="none"/>
<text x="34" y="265.9" font-size="9" text-anchor="end">2</text>
<path d="M33.8 307L39.5 307" stroke="#000" stroke-width="1.9" fill="none"/>
<text x="34" y="310.2" font-size="9" text-anchor="end">0</text>
<rect x="56.2" y="278" width="32.8" height="29" fill="#fff" stroke="#000" stroke-width="1.9"/>
<path d="M73 278V268.7M63.5 268.7H82.5" stroke="#000" stroke-width="1.9" fill="none"/>
<rect x="89" y="285" width="34.5" height="22" fill="#000" stroke="#000" stroke-width="1.9"/>
<path d="M106.5 285V274M97.5 274H115.5" stroke="#000" stroke-width="1.9" fill="none"/>
<rect x="156" y="287.5" width="33" height="19.5" fill="#fff" stroke="#000" stroke-width="1.9"/>
<path d="M173 287.5V274.7M164.0 274.7H182.0" stroke="#000" stroke-width="1.9" fill="none"/>
<rect x="189" y="219.8" width="34" height="87.2" fill="#000" stroke="#000" stroke-width="1.9"/>
<path d="M207 219.8V194.4M197.75 194.4H216.25" stroke="#000" stroke-width="1.9" fill="none"/>
<text x="205.9" y="192.62" font-size="14" text-anchor="middle">***</text>
<path d="M89.5 307L89.5 311.3" stroke="#000" stroke-width="1.9" fill="none"/>
<path d="M189 307L189 311.3" stroke="#000" stroke-width="1.9" fill="none"/>
<text x="90.5" y="320.9" font-size="10" text-anchor="middle" textLength="56.5" lengthAdjust="spacingAndGlyphs">Neutrophils</text>
<text x="189.8" y="320.9" font-size="10" text-anchor="middle" textLength="52" lengthAdjust="spacingAndGlyphs">Monocytes</text>
<rect x="49.7" y="184.5" width="13.1" height="4.8" fill="#fff" stroke="#000" stroke-width="1.4"/>
<rect x="49.7" y="196.4" width="13.1" height="5.6" fill="#000" stroke="#000" stroke-width="1.4"/>
<text x="71" y="190.1" font-size="9.5">WT</text>
<text x="71" y="202.6" font-size="9.5" textLength="36" lengthAdjust="spacingAndGlyphs">CD70TG</text>
<text x="15.8" y="305.2" font-size="10.3" textLength="129.5" lengthAdjust="spacingAndGlyphs" transform="rotate(-90 15.8 305.2)">Number of cells (x10<tspan font-size="7.5" dy="-3.3">6</tspan><tspan dy="3.3">)/ml</tspan></text>
</g>
<g id="panelC">
<text x="273.5" y="171" font-size="17" stroke="#000" stroke-width="0.35">C</text>
<rect x="317" y="174" width="199" height="133" fill="none" stroke="#000" stroke-width="1.9"/>
<path d="M311.5 174L317 174" stroke="#000" stroke-width="1.9" fill="none"/>
<text x="311.7" y="177.2" font-size="9" text-anchor="end">40</text>
<path d="M311.5 207.3L317 207.3" stroke="#000" stroke-width="1.9" fill="none"/>
<text x="311.7" y="210.5" font-size="9" text-anchor="end">30</text>
<path d="M311.5 240.5L317 240.5" stroke="#000" stroke-width="1.9" fill="none"/>
<text x="311.7" y="243.7" font-size="9" text-anchor="end">20</text>
<path d="M311.5 273.8L317 273.8" stroke="#000" stroke-width="1.9" fill="none"/>
<text x="311.7" y="277.0" font-size="9" text-anchor="end">10</text>
<path d="M311.5 307L317 307" stroke="#000" stroke-width="1.9" fill="none"/>
<text x="311.7" y="310.2" font-size="9" text-anchor="end">0</text>
<rect x="333" y="208.8" width="34.5" height="98.2" fill="#fff" stroke="#000" stroke-width="1.9"/>
<path d="M350 208.8V196.5M340.5 196.5H359.5" stroke="#000" stroke-width="1.9" fill="none"/>
<rect x="367.5" y="252.7" width="32.8" height="54.3" fill="#000" stroke="#000" stroke-width="1.9"/>
<path d="M384.3 252.7V243M375.8 243H392.8" stroke="#000" stroke-width="1.9" fill="none"/>
<text x="384.3" y="238.52" font-size="14" text-anchor="middle">***</text>
<rect x="433" y="289" width="33.3" height="18" fill="#fff" stroke="#000" stroke-width="1.9"/>
<path d="M450.3 289V285.4M441.3 285.4H459.3" stroke="#000" stroke-width="1.9" fill="none"/>
<rect x="466.3" y="276" width="34.3" height="31" fill="#000" stroke="#000" stroke-width="1.9"/>
<path d="M484 276V265.8M475.0 265.8H493.0" stroke="#000" stroke-width="1.9" fill="none"/>
<text x="484" y="262.62" font-size="14" text-anchor="middle">**</text>
<path d="M367.3 307L367.3 311.3" stroke="#000" stroke-width="1.9" fill="none"/>
<path d="M466.6 307L466.6 311.3" stroke="#000" stroke-width="1.9" fill="none"/>
<text x="367.7" y="321.4" font-size="10" text-anchor="middle" textLength="57" lengthAdjust="spacingAndGlyphs">Neutrophils</text>
<text x="467.3" y="321.4" font-size="10" text-anchor="middle" textLength="52" lengthAdjust="spacingAndGlyphs">Monocytes</text>
<rect x="455" y="181" width="14.8" height="5.2" fill="#fff" stroke="#000" stroke-width="1.4"/>
<rect x="455" y="193.8" width="14.8" height="5.4" fill="#000" stroke="#000" stroke-width="1.4"/>
<text x="478" y="186.5" font-size="9.5">WT</text>
<text x="478" y="199.5" font-size="9.5" textLength="36" lengthAdjust="spacingAndGlyphs">CD70TG</text>
<text x="288.2" y="299.2" font-size="10.3" textLength="117" lengthAdjust="spacingAndGlyphs" transform="rotate(-90 288.2 299.2)">Number of cells (x10<tspan font-size="7.5" dy="-3.3">6</tspan><tspan dy="3.3">)</tspan></text>
</g>
<g id="panelD">
<text x="-1.0" y="362.7" font-size="17" textLength="12.9" lengthAdjust="spacingAndGlyphs" stroke="#000" stroke-width="0.35">D</text>
<rect x="39.5" y="367" width="201.2" height="133.8" fill="none" stroke="#000" stroke-width="1.9"/>
<path d="M33.6 367L39.5 367" stroke="#000" stroke-width="1.9" fill="none"/>
<text x="33.8" y="370.2" font-size="9" text-anchor="end">20</text>
<path d="M33.6 400.5L39.5 400.5" stroke="#000" stroke-width="1.9" fill="none"/>
<text x="33.8" y="403.7" font-size="9" text-anchor="end">15</text>
<path d="M33.6 434L39.5 434" stroke="#000" stroke-width="1.9" fill="none"/>
<text x="33.8" y="437.2" font-size="9" text-anchor="end">10</text>
<path d="M33.6 467.4L39.5 467.4" stroke="#000" stroke-width="1.9" fill="none"/>
<text x="33.8" y="470.59999999999997" font-size="9" text-anchor="end">5</text>
<path d="M33.6 500.8L39.5 500.8" stroke="#000" stroke-width="1.9" fill="none"/>
<text x="33.8" y="504.0" font-size="9" text-anchor="end">0</text>
<path d="M64 500.8L64 505" stroke="#000" stroke-width="1.9" fill="none"/>
<text x="64" y="515.1" font-size="10" text-anchor="middle">0</text>
<path d="M114.5 500.8L114.5 505" stroke="#000" stroke-width="1.9" fill="none"/>
<text x="114.5" y="515.1" font-size="10" text-anchor="middle">12</text>
<path d="M165 500.8L165 505" stroke="#000" stroke-width="1.9" fill="none"/>
<text x="165" y="515.1" font-size="10" text-anchor="middle">18</text>
<path d="M215.5 500.8L215.5 505" stroke="#000" stroke-width="1.9" fill="none"/>
<text x="215.5" y="515.1" font-size="10" text-anchor="middle">24</text>
<text x="139.6" y="530.4" font-size="11" text-anchor="middle" textLength="31.8" lengthAdjust="spacingAndGlyphs">Hours</text>
<path d="M64 500.8L114.5 405.2L165 397L215.5 420" stroke="#000" stroke-width="2.3" fill="none"/>
<path d="M64 500.8L114.5 447.2L165 466.2L215.5 472.6" stroke="#000" stroke-width="2.3" fill="none"/>
<path d="M64 494.75L70.0 505.75H58.0Z" fill="#000"/>
<path d="M114.5 405.2V395.5M108.25 395.5H120.75" stroke="#000" stroke-width="1.9" fill="none"/>
<path d="M114.5 399.15L120.5 410.15H108.5Z" fill="#000"/>
<path d="M165 397V382.5M158.75 382.5H171.25" stroke="#000" stroke-width="1.9" fill="none"/>
<path d="M165 390.95L171.0 401.95H159.0Z" fill="#000"/>
<path d="M215.5 420V400.8M209.25 400.8H221.75" stroke="#000" stroke-width="1.9" fill="none"/>
<path d="M215.5 413.95L221.5 424.95H209.5Z" fill="#000"/>
<circle cx="64" cy="500.8" r="5.5" fill="#000"/>
<path d="M114.5 447.2V441.7M108.25 441.7H120.75" stroke="#000" stroke-width="1.9" fill="none"/>
<circle cx="114.5" cy="447.2" r="5.5" fill="#000"/>
<circle cx="165" cy="466.2" r="5.5" fill="#000"/>
<circle cx="215.5" cy="472.6" r="5.5" fill="#000"/>
<text x="115.3" y="394.52" font-size="14" text-anchor="middle">**</text>
<text x="165" y="381.02" font-size="14" text-anchor="middle">**</text>
<text x="215.5" y="399.77" font-size="14" text-anchor="middle">*</text>
<path d="M44.5 375.8L60.8 375.8" stroke="#000" stroke-width="1.9" fill="none"/>
<circle cx="52.6" cy="375.8" r="4.8" fill="#000"/>
<path d="M44.5 392.5L60.8 392.5" stroke="#000" stroke-width="1.9" fill="none"/>
<path d="M52.6 386.2L58 396.3H47.2Z" fill="#000"/>
<text x="67.5" y="379" font-size="9">WT</text>
<text x="67.5" y="394" font-size="9" textLength="35.5" lengthAdjust="spacingAndGlyphs">CD70TG</text>
<text x="17.1" y="479" font-size="10" textLength="90.5" lengthAdjust="spacingAndGlyphs" transform="rotate(-90 17.1 479)">%BrdU<tspan font-size="7" dy="-3.3">+</tspan><tspan dy="3.3"> monocytes</tspan></text>
</g>
<g id="panelE">
<text x="275.3" y="362.9" font-size="17" stroke="#000" stroke-width="0.35">E</text>
<rect x="317.5" y="367" width="200.5" height="133.8" fill="none" stroke="#000" stroke-width="1.9"/>
<path d="M311.8 367L317.5 367" stroke="#000" stroke-width="1.9" fill="none"/>
<text x="312" y="370.2" font-size="9" text-anchor="end">80</text>
<path d="M311.8 400.5L317.5 400.5" stroke="#000" stroke-width="1.9" fill="none"/>
<text x="312" y="403.7" font-size="9" text-anchor="end">60</text>
<path d="M311.8 434L317.5 434" stroke="#000" stroke-width="1.9" fill="none"/>
<text x="312" y="437.2" font-size="9" text-anchor="end">40</text>
<path d="M311.8 467.4L317.5 467.4" stroke="#000" stroke-width="1.9" fill="none"/>
<text x="312" y="470.59999999999997" font-size="9" text-anchor="end">20</text>
<path d="M311.8 500.8L317.5 500.8" stroke="#000" stroke-width="1.9" fill="none"/>
<text x="312" y="504.0" font-size="9" text-anchor="end">0</text>
<path d="M334.3 500.8L334.3 505" stroke="#000" stroke-width="1.9" fill="none"/>
<text x="334.3" y="515.1" font-size="10" text-anchor="middle">0</text>
<path d="M367.6 500.8L367.6 505" stroke="#000" stroke-width="1.9" fill="none"/>
<text x="367.6" y="515.1" font-size="10" text-anchor="middle">1</text>
<path d="M401.2 500.8L401.2 505" stroke="#000" stroke-width="1.9" fill="none"/>
<text x="401.2" y="515.1" font-size="10" text-anchor="middle">2</text>
<path d="M434.8 500.8L434.8 505" stroke="#000" stroke-width="1.9" fill="none"/>
<text x="434.8" y="515.1" font-size="10" text-anchor="middle">3</text>
<path d="M468.4 500.8L468.4 505" stroke="#000" stroke-width="1.9" fill="none"/>
<text x="468.4" y="515.1" font-size="10" text-anchor="middle">4</text>
<path d="M502 500.8L502 505" stroke="#000" stroke-width="1.9" fill="none"/>
<text x="502" y="515.1" font-size="10" text-anchor="middle">5</text>
<text x="418.4" y="530.4" font-size="11" text-anchor="middle" textLength="25.8" lengthAdjust="spacingAndGlyphs">Days</text>
<path d="M334.3 500.8L367.6 500L401.2 474L434.8 407.3L468.4 434L502 470.5" stroke="#000" stroke-width="2.3" fill="none"/>
<path d="M334.3 500.8L367.6 500L401.2 490L434.8 401L468.4 417L502 459.7" stroke="#000" stroke-width="2.3" fill="none"/>
<path d="M334.3 495.3L340.05 505.3H328.55Z" fill="#000"/>
<path d="M367.6 494.5L373.35 504.5H361.85Z" fill="#000"/>
<path d="M401.2 468.5L406.95 478.5H395.45Z" fill="#000"/>
<path d="M434.8 401.8L440.55 411.8H429.05Z" fill="#000"/>
<path d="M468.4 428.5L474.15 438.5H462.65Z" fill="#000"/>
<path d="M502 465.0L507.75 475.0H496.25Z" fill="#000"/>
<circle cx="334.3" cy="500.8" r="5.3" fill="#000"/>
<circle cx="367.6" cy="500" r="5.3" fill="#000"/>
<circle cx="401.2" cy="490" r="5.3" fill="#000"/>
<path d="M434.8 401V392.5M428.55 392.5H441.05" stroke="#000" stroke-width="1.9" fill="none"/>
<circle cx="434.8" cy="401" r="5.3" fill="#000"/>
<path d="M468.4 417V409.8M462.15 409.8H474.65" stroke="#000" stroke-width="1.9" fill="none"/>
<circle cx="468.4" cy="417" r="5.3" fill="#000"/>
<path d="M502 459.7V451.2M495.75 451.2H508.25" stroke="#000" stroke-width="1.9" fill="none"/>
<circle cx="502" cy="459.7" r="5.3" fill="#000"/>
<path d="M326.8 379.3L342 379.3" stroke="#000" stroke-width="1.9" fill="none"/>
<circle cx="334.3" cy="379.3" r="4.8" fill="#000"/>
<path d="M326.8 395.6L342 395.6" stroke="#000" stroke-width="1.9" fill="none"/>
<path d="M334.3 390L339.6 399.4H329Z" fill="#000"/>
<text x="350" y="382.3" font-size="9">WT</text>
<text x="350" y="397.7" font-size="9" textLength="35.7" lengthAdjust="spacingAndGlyphs">CD70TG</text>
<text x="295.2" y="480.2" font-size="10" textLength="93.2" lengthAdjust="spacingAndGlyphs" transform="rotate(-90 295.2 480.2)">%BrdU<tspan font-size="7" dy="-3.3">+</tspan><tspan dy="3.3"> neutrophils</tspan></text>
</g>
<g id="panelF">
<text x="2.7" y="556.9" font-size="17" stroke="#000" stroke-width="0.35">F</text>
<rect x="38" y="559.5" width="84.8" height="128.4" fill="none" stroke="#000" stroke-width="1.9"/>
<path d="M35.2 559.5L38 559.5" stroke="#000" stroke-width="1.9" fill="none"/>
<text x="34.6" y="562.7" font-size="9" text-anchor="end">60</text>
<path d="M35.2 602.3L38 602.3" stroke="#000" stroke-width="1.9" fill="none"/>
<text x="34.6" y="605.5" font-size="9" text-anchor="end">40</text>
<path d="M35.2 645L38 645" stroke="#000" stroke-width="1.9" fill="none"/>
<text x="34.6" y="648.2" font-size="9" text-anchor="end">20</text>
<path d="M35.2 687.7L38 687.7" stroke="#000" stroke-width="1.9" fill="none"/>
<text x="34.6" y="690.9000000000001" font-size="9" text-anchor="end">0</text>
<rect x="45.6" y="613.8" width="27.6" height="73.9" fill="#cfcfcf" stroke="#000" stroke-width="1.6"/>
<rect x="45.6" y="641.3" width="27.6" height="46.4" fill="#fff" stroke="#000" stroke-width="1.6"/>
<rect x="45.6" y="657.9" width="27.6" height="29.8" fill="#000" stroke="#000" stroke-width="1.6"/>
<path d="M60 613.8V605M52.5 605H67.5" stroke="#000" stroke-width="1.6" fill="none"/>
<path d="M60 641.3V632.5M52.5 632.5H67.5" stroke="#000" stroke-width="1.6" fill="none"/>
<path d="M60 657.9V642.6M52.5 642.6H67.5" stroke="#000" stroke-width="1.6" fill="none"/>
<rect x="87.9" y="588.3" width="26.6" height="99.4" fill="#cfcfcf" stroke="#000" stroke-width="1.6"/>
<rect x="87.9" y="631.3" width="26.6" height="56.4" fill="#fff" stroke="#000" stroke-width="1.6"/>
<rect x="87.9" y="645.2" width="26.6" height="42.5" fill="#000" stroke="#000" stroke-width="1.6"/>
<path d="M101.5 588.3V578.7M94.0 578.7H109.0" stroke="#000" stroke-width="1.6" fill="none"/>
<path d="M101.5 631.3V625.6M94.0 625.6H109.0" stroke="#000" stroke-width="1.6" fill="none"/>
<path d="M101.5 645.2V639.5M94.0 639.5H109.0" stroke="#000" stroke-width="1.6" fill="none"/>
<path d="M60 687.7L60 692" stroke="#000" stroke-width="1.9" fill="none"/>
<path d="M101.5 687.7L101.5 692" stroke="#000" stroke-width="1.9" fill="none"/>
<text x="59.5" y="704.5" font-size="10" text-anchor="middle" textLength="15.5" lengthAdjust="spacingAndGlyphs">WT</text>
<text x="102" y="704.5" font-size="10" text-anchor="middle" textLength="38.7" lengthAdjust="spacingAndGlyphs">CD70TG</text>
<rect x="43" y="564" width="11.3" height="5.3" fill="#cfcfcf" stroke="#000" stroke-width="1.3"/>
<rect x="43" y="575.8" width="11.3" height="5.2" fill="#fff" stroke="#000" stroke-width="1.3"/>
<rect x="43" y="587.3" width="11.3" height="5.4" fill="#000" stroke="#000" stroke-width="1.3"/>
<text x="59.3" y="569.8" font-size="8.5">M</text>
<text x="59.3" y="581.6" font-size="8.5">G</text>
<text x="59.3" y="593.4" font-size="8.5">GM</text>
<text x="19.2" y="692.7" font-size="10" textLength="130.5" lengthAdjust="spacingAndGlyphs" transform="rotate(-90 19.2 692.7)"># Colonies / 25000 BM cells</text>
<rect x="165" y="560" width="85.7" height="128.9" fill="none" stroke="#000" stroke-width="1.9"/>
<path d="M161.5 581.8L165 581.8" stroke="#000" stroke-width="1.9" fill="none"/>
<text x="161.6" y="585.1999999999999" font-size="10" text-anchor="end">100</text>
<path d="M161.5 635.3L165 635.3" stroke="#000" stroke-width="1.9" fill="none"/>
<text x="161.6" y="638.6999999999999" font-size="10" text-anchor="end">50</text>
<path d="M161.5 688.9L165 688.9" stroke="#000" stroke-width="1.9" fill="none"/>
<text x="161.6" y="692.3" font-size="10" text-anchor="end">0</text>
<rect x="172.5" y="581.8" width="28.0" height="107.1" fill="#cfcfcf" stroke="#000" stroke-width="1.6"/>
<rect x="172.5" y="620.8" width="28.0" height="68.1" fill="#fff" stroke="#000" stroke-width="1.6"/>
<rect x="172.5" y="643.8" width="28.0" height="45.1" fill="#000" stroke="#000" stroke-width="1.6"/>
<path d="M186.7 581.8V578M178.95 578H194.45" stroke="#000" stroke-width="1.6" fill="none"/>
<path d="M186.7 620.8V618M178.95 618H194.45" stroke="#000" stroke-width="1.6" fill="none"/>
<path d="M186.7 643.8V639M178.95 639H194.45" stroke="#000" stroke-width="1.6" fill="none"/>
<rect x="215.6" y="581.8" width="28.2" height="107.1" fill="#cfcfcf" stroke="#000" stroke-width="1.6"/>
<rect x="215.6" y="628" width="28.2" height="60.9" fill="#fff" stroke="#000" stroke-width="1.6"/>
<rect x="215.6" y="641.6" width="28.2" height="47.3" fill="#000" stroke="#000" stroke-width="1.6"/>
<path d="M229.8 581.8V578M222.05 578H237.55" stroke="#000" stroke-width="1.6" fill="none"/>
<path d="M229.8 628V622.7M222.05 622.7H237.55" stroke="#000" stroke-width="1.6" fill="none"/>
<path d="M229.8 641.6V637.5M222.05 637.5H237.55" stroke="#000" stroke-width="1.6" fill="none"/>
<text x="230" y="578.77" font-size="14" text-anchor="middle">*</text>
<text x="230.3" y="623.52" font-size="14" text-anchor="middle">**</text>
<path d="M186.7 688.9L186.7 693" stroke="#000" stroke-width="1.9" fill="none"/>
<path d="M229.8 688.9L229.8 693" stroke="#000" stroke-width="1.9" fill="none"/>
<text x="186" y="705.4" font-size="10" text-anchor="middle" textLength="15.7" lengthAdjust="spacingAndGlyphs">WT</text>
<text x="229" y="705.4" font-size="10" text-anchor="middle" textLength="38.7" lengthAdjust="spacingAndGlyphs">CD70TG</text>
<text x="142" y="682.4" font-size="9.7" textLength="105.6" lengthAdjust="spacingAndGlyphs" transform="rotate(-90 142 682.4)">% of myeloid colonies</text>
</g>
<g id="panelG">
<text x="271.5" y="557.4" font-size="17.5" stroke="#000" stroke-width="0.35">G</text>
<rect x="305.5" y="560.5" width="86.8" height="130.0" fill="none" stroke="#000" stroke-width="1.9"/>
<path d="M301.5 560.5L305.5 560.5" stroke="#000" stroke-width="1.9" fill="none"/>
<text x="300.5" y="563.7" font-size="9" text-anchor="end">0.8</text>
<path d="M301.5 592.8L305.5 592.8" stroke="#000" stroke-width="1.9" fill="none"/>
<text x="300.5" y="596.0" font-size="9" text-anchor="end">0.6</text>
<path d="M301.5 625L305.5 625" stroke="#000" stroke-width="1.9" fill="none"/>
<text x="300.5" y="628.2" font-size="9" text-anchor="end">0.4</text>
<path d="M301.5 657.5L305.5 657.5" stroke="#000" stroke-width="1.9" fill="none"/>
<text x="300.5" y="660.7" font-size="9" text-anchor="end">0.2</text>
<path d="M301.5 690.5L305.5 690.5" stroke="#000" stroke-width="1.9" fill="none"/>
<text x="300.5" y="693.7" font-size="9" text-anchor="end">0.0</text>
<rect x="312.5" y="659" width="29.3" height="31.5" fill="#000" stroke="#000" stroke-width="1.9"/>
<rect x="355.8" y="604.7" width="29.2" height="85.8" fill="#000" stroke="#000" stroke-width="1.9"/>
<path d="M370.3 604.7V587.5M362.3 587.5H378.3" stroke="#000" stroke-width="1.9" fill="none"/>
<path d="M327 659V658.2M321.5 658.2H332.5" stroke="#000" stroke-width="1.2" fill="none"/>
<text x="370" y="588.02" font-size="14" text-anchor="middle">***</text>
<path d="M327 690.5L327 695" stroke="#000" stroke-width="1.9" fill="none"/>
<path d="M370.3 690.5L370.3 695" stroke="#000" stroke-width="1.9" fill="none"/>
<text x="327.5" y="707.5" font-size="9.5" text-anchor="middle" textLength="14.8" lengthAdjust="spacingAndGlyphs">WT</text>
<text x="370.7" y="707.5" font-size="9.5" text-anchor="middle" textLength="38.3" lengthAdjust="spacingAndGlyphs">CD70TG</text>
<text x="282.5" y="646.3" font-size="9" textLength="43" lengthAdjust="spacingAndGlyphs" transform="rotate(-90 282.5 646.3)">Ratio M:N</text>
</g>
<g id="panelH">
<text x="405.2" y="556.9" font-size="17" stroke="#000" stroke-width="0.35">H</text>
<rect x="432.5" y="560.5" width="86.0" height="130.4" fill="none" stroke="#000" stroke-width="1.9"/>
<path d="M428.3 570.5L432.5 570.5" stroke="#000" stroke-width="1.9" fill="none"/>
<text x="427.3" y="573.7" font-size="9" text-anchor="end">6</text>
<path d="M428.3 610.3L432.5 610.3" stroke="#000" stroke-width="1.9" fill="none"/>
<text x="427.3" y="613.5" font-size="9" text-anchor="end">4</text>
<path d="M428.3 650.4L432.5 650.4" stroke="#000" stroke-width="1.9" fill="none"/>
<text x="427.3" y="653.6" font-size="9" text-anchor="end">2</text>
<path d="M428.3 690.9L432.5 690.9" stroke="#000" stroke-width="1.9" fill="none"/>
<text x="427.3" y="694.1" font-size="9" text-anchor="end">0</text>
<rect x="439" y="675.5" width="29.5" height="15.4" fill="#000" stroke="#000" stroke-width="1.9"/>
<path d="M454.2 675.5V664.5M446.2 664.5H462.2" stroke="#000" stroke-width="1.9" fill="none"/>
<rect x="482.6" y="607.7" width="29.1" height="83.2" fill="#000" stroke="#000" stroke-width="1.9"/>
<path d="M497.3 607.7V580M489.05 580H505.55" stroke="#000" stroke-width="1.9" fill="none"/>
<text x="497" y="580.52" font-size="14" text-anchor="middle">***</text>
<path d="M454.2 690.9L454.2 695.3" stroke="#000" stroke-width="1.9" fill="none"/>
<path d="M497.2 690.9L497.2 695.3" stroke="#000" stroke-width="1.9" fill="none"/>
<text x="454.9" y="707.6" font-size="9.5" text-anchor="middle" textLength="14.8" lengthAdjust="spacingAndGlyphs">WT</text>
<text x="496.9" y="707.6" font-size="9.5" text-anchor="middle" textLength="37.8" lengthAdjust="spacingAndGlyphs">CD70TG</text>
<text x="417.7" y="646.3" font-size="9" textLength="43.5" lengthAdjust="spacingAndGlyphs" transform="rotate(-90 417.7 646.3)">Ratio M:N</text>
</g>
</svg></body></html>
